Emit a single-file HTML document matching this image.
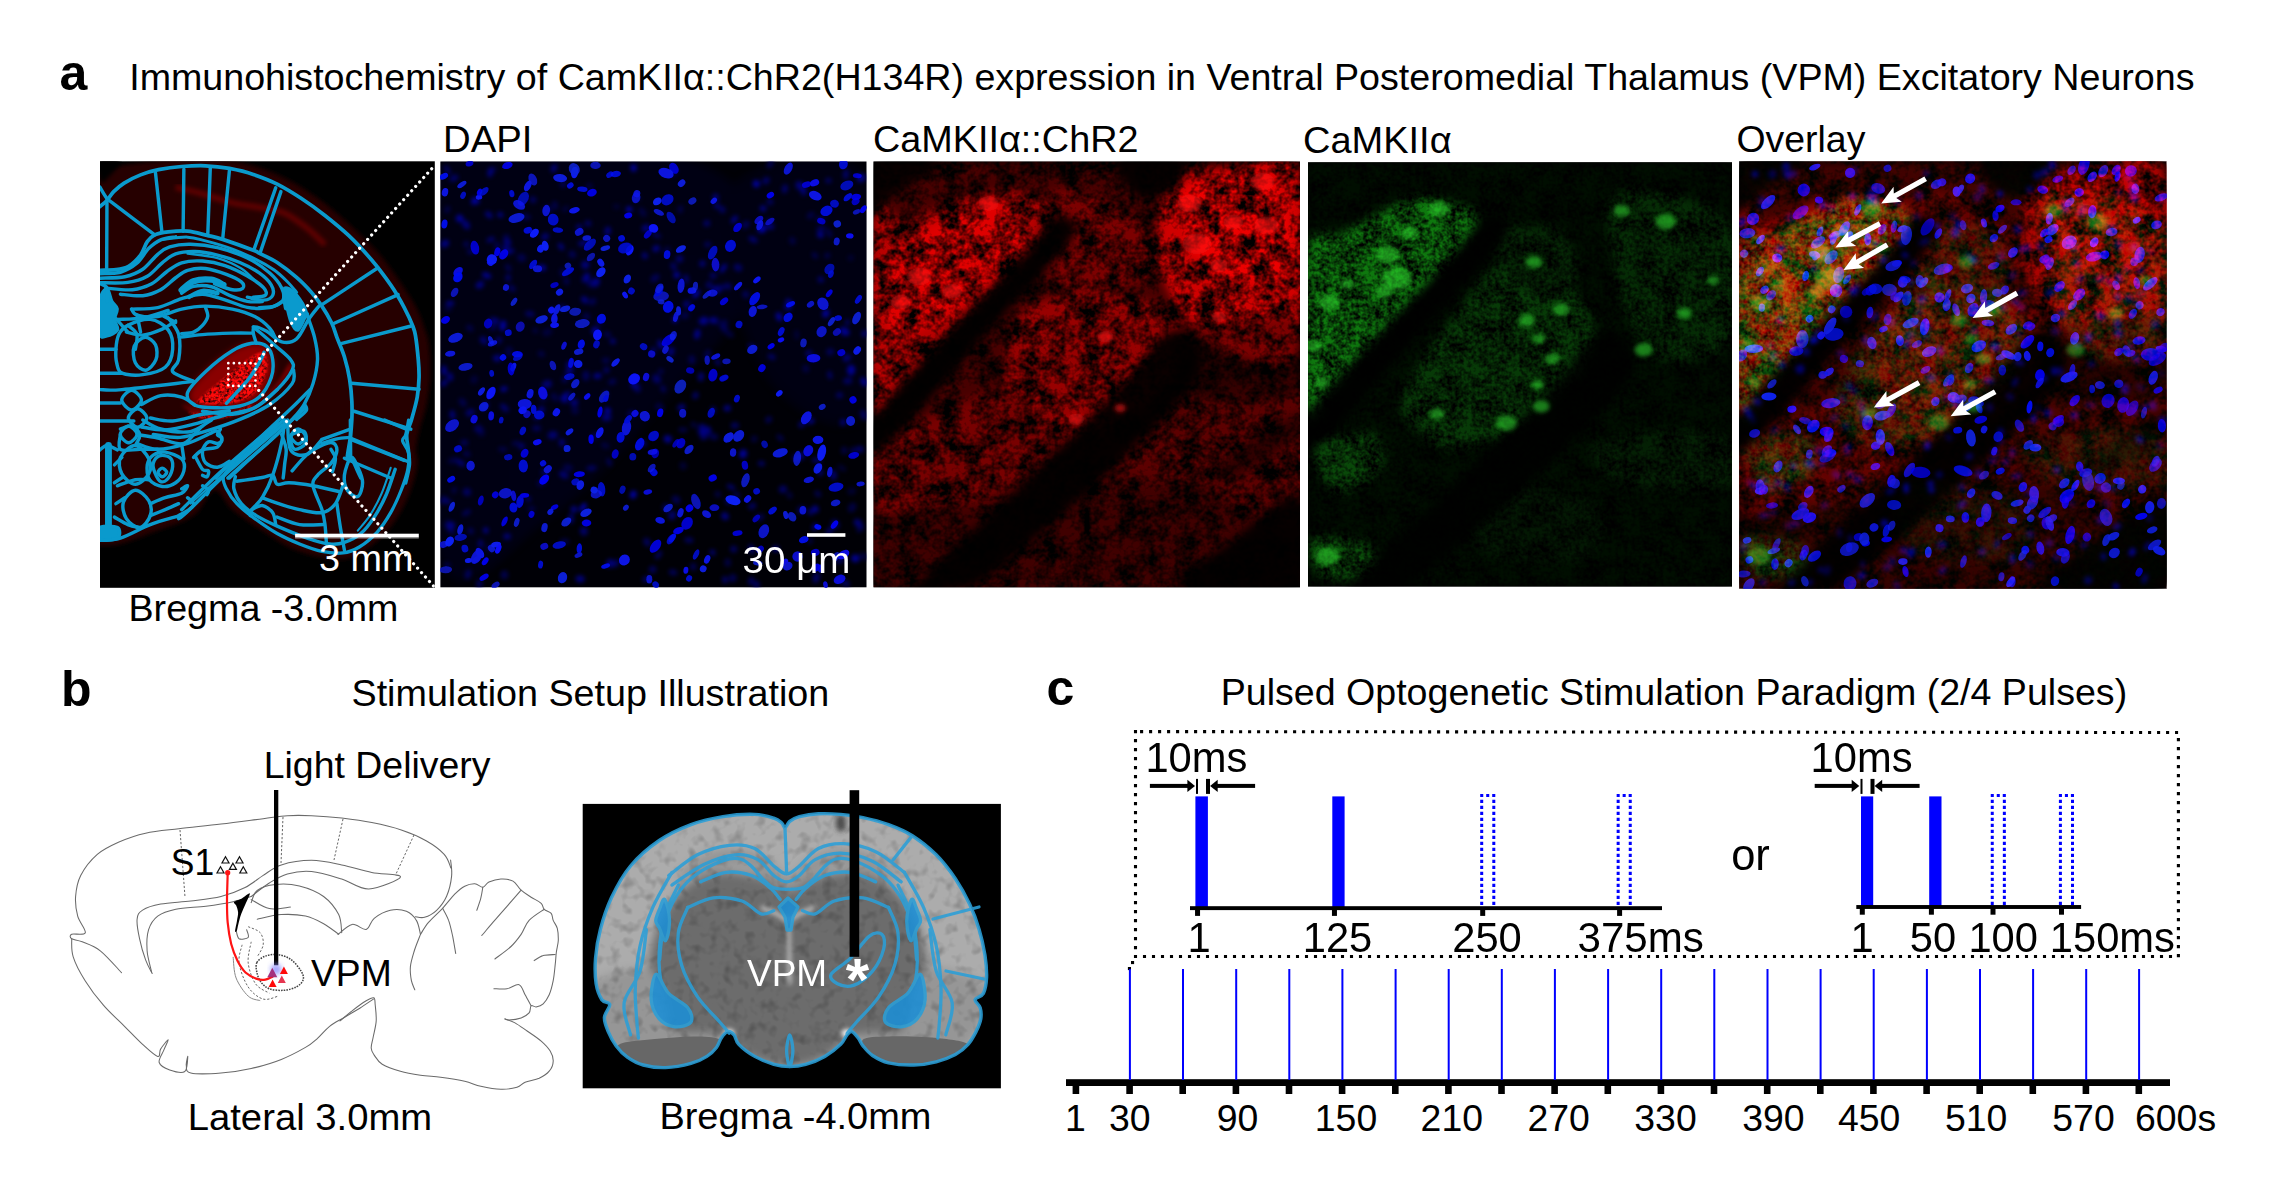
<!DOCTYPE html>
<html lang="en"><head><meta charset="utf-8"><title>Figure: optogenetic VPM stimulation</title>
<style>
html,body{margin:0;padding:0;background:#fff;}
body{width:2277px;height:1193px;overflow:hidden;font-family:'Liberation Sans', sans-serif;}
svg{display:block;position:absolute;left:0;top:0;}
svg text{font-family:'Liberation Sans', sans-serif;}
</style></head><body>
<svg width="2277" height="1193" viewBox="0 0 2277 1193">
<clipPath id="cpL"><rect x="100" y="161.3" width="334.8" height="426.5"/></clipPath>
<rect x="100" y="161.3" width="334.8" height="426.5" fill="#000"/>
<g clip-path="url(#cpL)">
<g transform="translate(98,158) scale(0.14932)">
<filter id="fT" x="-5%" y="-5%" width="110%" height="110%"><feGaussianBlur stdDeviation="14"/></filter>
<path d="M0,120C20,110 70,75 120,60C170,45 227,38 300,30C373,22 483,14 560,10C637,6 700,2 760,5C820,8 863,14 920,25C977,36 1037,48 1100,70C1163,92 1233,123 1300,160C1367,197 1433,240 1500,290C1567,340 1637,402 1700,460C1763,518 1825,577 1880,640C1935,703 1988,780 2030,840C2072,900 2103,948 2130,1000C2157,1052 2176,1108 2190,1150C2204,1192 2209,1201 2215,1251C2221,1301 2228,1384 2225,1451C2222,1518 2212,1588 2200,1651C2188,1714 2162,1781 2150,1831C2138,1881 2132,1914 2130,1951C2128,1988 2147,2008 2140,2055C2133,2102 2113,2175 2090,2235C2067,2295 2035,2362 2000,2415C1965,2468 1930,2512 1880,2555C1830,2598 1763,2655 1700,2675C1637,2695 1567,2685 1500,2675C1433,2665 1367,2645 1300,2615C1233,2585 1167,2538 1100,2495C1033,2452 953,2400 900,2355C847,2310 823,2218 780,2225C737,2232 703,2350 640,2395C577,2440 482,2463 400,2495C318,2527 217,2568 150,2585C83,2602 25,2593 0,2595Z" fill="#260000" filter="url(#fT)"/>
<path d="M13,0C36,-22 142,-3 150,20C158,43 83,118 60,140C37,162 21,173 13,150C5,127 -10,22 13,0Z" fill="#000" filter="url(#fT)"/>
<path d="M520,195C550,202 637,222 700,240C763,258 833,284 900,300C967,316 1042,323 1100,335C1158,347 1200,348 1250,370C1300,392 1355,435 1400,470C1445,505 1500,562 1520,580" fill="none" stroke="#6a0000" stroke-width="40" filter="url(#fT)" opacity="0.8"/>
<filter id="fV" x="-20%" y="-20%" width="140%" height="140%"><feGaussianBlur stdDeviation="26"/></filter>
<filter id="fVt" x="-10%" y="-10%" width="120%" height="120%" color-interpolation-filters="sRGB"><feGaussianBlur in="SourceGraphic" stdDeviation="9" result="b"/><feTurbulence type="fractalNoise" baseFrequency="0.05" numOctaves="2" seed="8"/><feColorMatrix type="matrix" values="2.2 0 0 0 -0.3  2.2 0 0 0 -0.3  2.2 0 0 0 -0.3  0 0 0 0 1" result="g"/><feComposite in="b" in2="g" operator="arithmetic" k1="1" k2="0" k3="0" k4="0" result="m"/><feComposite in="m" in2="b" operator="in"/></filter>
<path d="M610,1571C622,1533 672,1478 720,1431C768,1384 848,1323 900,1291C952,1259 992,1246 1030,1241C1068,1236 1107,1243 1130,1261C1153,1279 1165,1316 1170,1351C1175,1386 1175,1429 1160,1471C1145,1513 1115,1568 1080,1601C1045,1634 997,1653 950,1666C903,1679 850,1682 800,1681C750,1680 682,1679 650,1661C618,1643 598,1609 610,1571Z" fill="#8a0000" filter="url(#fV)"/>
<path d="M560,1651C557,1654 632,1709 680,1721C728,1733 797,1725 850,1721C903,1717 950,1718 1000,1696C1050,1674 1103,1635 1150,1591C1197,1547 1257,1468 1280,1431C1303,1394 1303,1358 1290,1371C1277,1384 1238,1464 1200,1511C1162,1558 1110,1618 1060,1651C1010,1684 960,1703 900,1711C840,1719 757,1711 700,1701C643,1691 563,1648 560,1651Z" fill="#b00000" filter="url(#fT)" opacity="0.85"/>
<g filter="url(#fVt)">
<path d="M665,1623C680,1600 744,1550 790,1511C836,1472 897,1424 940,1391C983,1358 1022,1328 1050,1313C1078,1298 1095,1291 1110,1301C1125,1311 1138,1343 1140,1371C1142,1399 1135,1436 1120,1471C1105,1506 1082,1553 1050,1581C1018,1609 972,1628 930,1641C888,1654 838,1654 800,1656C762,1658 722,1656 700,1651C678,1646 650,1646 665,1623Z" fill="#ff0a0a"/>
<path d="M600,1696C610,1691 710,1720 760,1721C810,1722 853,1714 900,1701C947,1688 1023,1643 1040,1641C1057,1639 1030,1674 1000,1691C970,1708 910,1731 860,1741C810,1751 743,1758 700,1751C657,1744 590,1701 600,1696Z" fill="#ff0a0a"/>
</g>
</g>
<g transform="translate(98,158) scale(0.14932)" fill="none" stroke="#0a9acd" stroke-linecap="round" stroke-linejoin="round"><path d="M13,325C21,318 45,302 60,285C75,268 86,244 105,225C124,206 145,187 175,168C205,149 247,128 285,113C323,98 359,87 405,78C451,69 508,61 560,57C612,53 667,50 720,52C773,54 827,60 880,70C933,80 987,92 1040,110C1093,128 1147,148 1200,175C1253,202 1307,235 1360,270C1413,305 1467,343 1520,385C1573,427 1628,471 1680,520C1732,569 1783,625 1830,680C1877,735 1923,797 1960,850C1997,903 2025,953 2050,1000C2075,1047 2097,1096 2110,1130C2123,1164 2122,1164 2128,1201C2134,1238 2141,1306 2145,1351C2149,1396 2151,1429 2150,1471C2149,1513 2146,1554 2138,1601C2130,1648 2112,1709 2100,1751C2088,1793 2072,1818 2068,1851C2064,1884 2075,1917 2078,1951C2081,1985 2088,2018 2085,2055C2082,2092 2064,2155 2060,2175" stroke-width="25"/><path d="M13,195C21,208 44,251 60,270C76,289 57,269 110,310C163,351 335,481 380,515" stroke-width="23"/><path d="M60,285L58,745" stroke-width="23"/><path d="M13,752C31,751 88,752 120,748C152,744 178,741 205,725C232,709 264,678 285,650C306,622 314,582 330,560C346,538 357,526 380,515C403,504 433,499 470,495C507,491 557,486 600,490C643,494 691,509 730,518C769,527 783,528 835,545C887,562 998,602 1040,618C1082,634 1058,626 1085,640C1112,654 1159,673 1200,700C1241,727 1292,767 1330,800C1368,833 1402,869 1430,900C1458,931 1472,951 1495,985C1518,1019 1548,1069 1565,1105C1582,1141 1586,1163 1600,1201C1614,1239 1636,1284 1650,1331C1664,1378 1677,1431 1685,1481C1693,1531 1698,1586 1700,1631C1702,1676 1702,1711 1700,1751C1698,1791 1695,1829 1690,1871C1685,1913 1670,1979 1670,2001C1670,2023 1687,2004 1690,2005" stroke-width="25"/><path d="M385,100L428,495" stroke-width="23"/><path d="M575,75L570,490" stroke-width="23"/><path d="M752,65L735,518" stroke-width="23"/><path d="M880,85L835,542" stroke-width="23"/><path d="M1190,200L1045,612" stroke-width="23"/><path d="M1225,225L1085,637" stroke-width="23"/><path d="M1875,735L1495,985" stroke-width="23"/><path d="M2010,915L1575,1110" stroke-width="23"/><path d="M2098,1125L1620,1245" stroke-width="23"/><path d="M2150,1549L1700,1509" stroke-width="23"/><path d="M2095,1816L1715,1696" stroke-width="23"/><path d="M2070,2031L1690,1876" stroke-width="23"/><path d="M440,545C467,542 553,528 600,530C647,532 670,542 720,555C770,568 843,589 900,610C957,631 1013,657 1060,680C1107,703 1145,725 1180,750C1215,775 1245,805 1270,830C1295,855 1320,888 1330,900" stroke-width="20"/><path d="M1245,880C1252,862 1279,874 1300,890C1321,906 1353,948 1370,975C1387,1002 1396,1038 1400,1050C1404,1062 1405,1029 1395,1046C1385,1063 1357,1142 1340,1151C1323,1160 1307,1124 1295,1101C1283,1078 1275,1028 1268,1011C1261,994 1259,1022 1255,1000C1251,978 1238,898 1245,880Z" stroke-width="23" fill="#0a9acd"/><path d="M13,775C36,773 109,777 150,765C191,753 228,732 260,705C292,678 313,631 340,605C367,579 390,561 420,548C450,535 503,531 520,528" stroke-width="23"/><path d="M13,805C41,803 132,805 180,795C228,785 263,770 300,745C337,720 370,670 400,645C430,620 443,606 480,595C517,584 567,577 620,578C673,579 737,585 800,600C863,615 942,642 1000,670C1058,698 1112,737 1150,770C1188,803 1215,840 1230,870C1245,900 1248,930 1240,950C1232,970 1207,983 1180,992C1153,1001 1097,1000 1080,1002" stroke-width="23"/><path d="M13,835C44,835 147,840 200,833C253,826 292,814 330,792C368,770 398,727 430,702C462,677 483,655 520,642C557,629 603,625 650,626C697,627 750,638 800,650C850,662 903,680 950,700C997,720 1045,745 1080,770C1115,795 1145,825 1160,850C1175,875 1178,903 1170,920C1162,937 1138,950 1110,952C1082,954 1018,935 1000,932" stroke-width="23"/><path d="M60,872C88,874 180,887 230,882C280,877 322,862 360,842C398,822 427,785 460,762C493,739 520,714 560,702C600,690 652,687 700,690C748,693 800,703 850,720C900,737 957,765 1000,790C1043,815 1090,848 1110,870C1130,892 1132,910 1120,920C1108,930 1053,930 1040,932" stroke-width="23"/><path d="M150,912C175,914 255,927 300,922C345,917 383,902 420,882C457,862 490,824 520,802C550,780 567,762 600,752C633,742 677,735 720,740C763,745 820,765 860,780C900,795 942,815 960,830C978,845 980,863 970,872C960,881 932,887 900,882C868,877 800,849 780,842" stroke-width="23"/><path d="M560,885C573,875 607,837 640,825C673,813 727,811 760,815C793,819 827,844 840,850" stroke-width="42"/><path d="M560,905C573,898 607,867 640,860C673,853 720,852 760,862C800,872 840,904 880,920C920,936 963,953 1000,960C1037,967 1083,962 1100,962" stroke-width="23"/><path d="M225,1012C254,1010 344,1014 400,1002C456,990 510,957 560,942C610,927 652,911 700,912C748,913 800,935 850,950C900,965 950,991 1000,1000C1050,1009 1111,1008 1150,1002C1189,996 1218,969 1232,962" stroke-width="23"/><path d="M225,1012C231,1019 233,1044 262,1052C291,1060 350,1069 400,1062C450,1055 507,1024 560,1012C613,1000 663,992 720,992C777,992 845,1000 900,1012C955,1024 1008,1041 1050,1062C1092,1083 1127,1115 1150,1140C1173,1165 1183,1199 1190,1211" stroke-width="23"/><path d="M600,640C633,645 740,653 800,670C860,687 917,713 960,740C1003,767 1043,815 1060,830" stroke-width="16"/><path d="M610,930C625,923 668,894 700,890C732,886 783,902 800,905" stroke-width="30"/><path d="M13,955C21,905 47,874 60,875C73,876 81,938 92,960C103,982 125,990 128,1010C131,1030 110,1056 110,1080C110,1104 138,1132 130,1151C122,1170 80,1187 60,1191C40,1195 21,1215 13,1176C5,1137 5,1005 13,955Z" stroke-width="23" fill="#0a9acd"/><path d="M13,840C21,845 52,852 60,872C68,892 60,945 60,960" stroke-width="26"/><path d="M720,1000C722,1010 738,1040 735,1060C732,1080 716,1103 700,1121C684,1139 663,1157 640,1166C617,1175 573,1174 560,1176" stroke-width="23"/><path d="M120,1075L200,1166" stroke-width="23"/><path d="M262,1052L285,1166" stroke-width="23"/><path d="M440,1060L520,1101" stroke-width="23"/><path d="M130,1081C158,1079 243,1081 300,1071C357,1061 442,1029 470,1021" stroke-width="23"/><path d="M190,1166C208,1169 260,1189 300,1186C340,1183 393,1162 430,1146C467,1130 505,1100 520,1091" stroke-width="23"/><path d="M1400,1051C1408,1076 1438,1151 1450,1201C1462,1251 1472,1299 1470,1351C1468,1403 1455,1461 1440,1511C1425,1561 1403,1611 1380,1651C1357,1691 1330,1718 1300,1751C1270,1784 1250,1804 1200,1851C1150,1898 1053,1982 1000,2031C947,2080 900,2124 880,2143" stroke-width="23"/><path d="M1480,991C1468,1006 1435,1044 1410,1081C1385,1118 1360,1186 1330,1211C1300,1236 1263,1239 1230,1231C1197,1223 1160,1178 1130,1161C1100,1144 1065,1129 1050,1131C1035,1133 1038,1153 1040,1171C1042,1189 1057,1229 1060,1241" stroke-width="23"/><path d="M1420,1551C1400,1571 1345,1628 1300,1671C1255,1714 1200,1764 1150,1811C1100,1858 1048,1908 1000,1951C952,1994 895,2039 860,2071C825,2103 802,2131 790,2143" stroke-width="23"/><path d="M1390,1671C1367,1693 1298,1756 1250,1801C1202,1846 1148,1898 1100,1941C1052,1984 998,2027 960,2061C922,2095 885,2129 870,2143" stroke-width="23"/><path d="M1385,1651C1387,1658 1404,1674 1395,1691C1386,1708 1341,1741 1330,1751" stroke-width="23"/><path d="M600,1571C612,1534 670,1478 720,1431C770,1384 848,1323 900,1291C952,1259 992,1246 1030,1241C1068,1236 1107,1243 1130,1261C1153,1279 1165,1316 1170,1351C1175,1386 1175,1429 1160,1471C1145,1513 1115,1569 1080,1601C1045,1633 997,1649 950,1661C903,1673 850,1674 800,1673C750,1672 683,1673 650,1656C617,1639 588,1608 600,1571Z" stroke-width="23"/><path d="M860,1643C883,1618 963,1536 1000,1491C1037,1446 1061,1403 1080,1371C1099,1339 1107,1313 1112,1301" stroke-width="23"/><path d="M1040,1131C1063,1151 1138,1214 1180,1251C1222,1288 1270,1323 1290,1351C1310,1379 1315,1388 1300,1421C1285,1454 1242,1509 1200,1551C1158,1593 1100,1644 1050,1671C1000,1698 958,1712 900,1716C842,1720 733,1699 700,1696" stroke-width="23"/><path d="M120,1281C122,1249 127,1208 140,1181C153,1154 165,1138 200,1121C235,1104 305,1076 350,1081C395,1086 445,1118 470,1151C495,1184 503,1239 500,1281C497,1323 483,1373 450,1401C417,1429 348,1444 300,1451C252,1458 189,1454 160,1441C131,1428 132,1398 125,1371C118,1344 118,1313 120,1281Z" stroke-width="23"/><path d="M315,1201C339,1199 373,1226 385,1251C397,1276 399,1323 388,1351C377,1379 343,1418 320,1421C297,1424 263,1398 250,1371C237,1344 231,1289 242,1261C253,1233 291,1203 315,1201Z" stroke-width="23"/><path d="M13,1281L120,1281" stroke-width="23"/><path d="M13,1441L160,1441" stroke-width="23"/><path d="M200,1121C210,1131 252,1154 260,1181C268,1208 252,1264 250,1281" stroke-width="23"/><path d="M470,1071C482,1089 528,1134 540,1181C552,1228 547,1309 540,1351C533,1393 483,1407 500,1431C517,1455 617,1485 640,1496" stroke-width="23"/><path d="M545,1201C571,1198 641,1188 700,1183C759,1178 843,1175 900,1173C957,1171 1017,1173 1040,1173" stroke-width="23"/><path d="M13,1551C38,1551 56,1560 160,1551C264,1542 560,1505 640,1496" stroke-width="23"/><path d="M13,1641L150,1641" stroke-width="23"/><path d="M13,1761L240,1761" stroke-width="23"/><path d="M291,1621C291,1643 247,1687 225,1687C203,1687 159,1643 159,1621C159,1599 203,1555 225,1555C247,1555 291,1599 291,1621Z" stroke-width="23"/><path d="M327,1741C327,1762 286,1803 265,1803C244,1803 203,1762 203,1741C203,1720 244,1679 265,1679C286,1679 327,1720 327,1741Z" stroke-width="23"/><path d="M261,1851C261,1870 224,1907 205,1907C186,1907 149,1870 149,1851C149,1832 186,1795 205,1795C224,1795 261,1832 261,1851Z" stroke-width="23"/><path d="M290,1651C312,1641 375,1599 420,1591C465,1583 522,1590 560,1601C598,1612 635,1647 650,1656" stroke-width="23"/><path d="M350,1741C375,1744 442,1765 500,1761C558,1757 637,1727 700,1716C763,1705 850,1697 880,1693" stroke-width="23"/><path d="M290,1801C317,1804 390,1824 450,1821C510,1818 583,1798 650,1781C717,1764 783,1739 850,1721C917,1703 992,1701 1050,1673C1108,1645 1175,1571 1200,1551" stroke-width="23"/><path d="M370,1851C400,1854 487,1876 550,1871C613,1866 683,1841 750,1821C817,1801 883,1779 950,1751C1017,1723 1092,1691 1150,1651C1208,1611 1273,1549 1300,1511C1327,1473 1308,1436 1310,1421" stroke-width="23"/><path d="M260,1911C283,1918 343,1951 400,1951C457,1951 540,1929 600,1911C660,1893 727,1854 760,1841C793,1828 788,1823 800,1831C812,1839 830,1878 830,1891C830,1904 815,1909 800,1911C785,1913 757,1893 740,1901C723,1909 703,1938 700,1961C697,1984 703,2023 720,2041C737,2059 773,2073 800,2071C827,2069 867,2038 880,2031" stroke-width="23"/><path d="M150,1851C150,1868 128,1934 150,1951C172,1968 238,1951 280,1951C322,1951 380,1951 400,1951" stroke-width="23"/><path d="M1230,1851C1235,1868 1257,1918 1260,1951C1263,1984 1253,2019 1250,2051C1247,2083 1242,2128 1240,2143" stroke-width="23"/><path d="M1300,1851C1315,1841 1365,1821 1380,1831C1395,1841 1400,1891 1390,1911C1380,1931 1337,1954 1320,1951C1303,1948 1293,1908 1290,1891C1287,1874 1285,1861 1300,1851Z" stroke-width="23"/><path d="M1500,1911C1517,1906 1568,1888 1600,1881C1632,1874 1675,1873 1690,1871" stroke-width="23"/><path d="M1560,1951C1565,1961 1588,1986 1590,2011C1592,2036 1573,2086 1570,2101" stroke-width="23"/><path d="M1700,2011C1707,2026 1730,2079 1740,2101C1750,2123 1757,2136 1760,2143" stroke-width="23"/><path d="M1650,2011L1960,2143" stroke-width="23"/><path d="M2080,1755C2077,1772 2067,1832 2060,1855C2053,1878 2037,1875 2040,1895C2043,1915 2074,1943 2080,1975C2086,2007 2083,2043 2075,2085C2067,2127 2049,2177 2030,2225C2011,2273 1987,2328 1960,2375C1933,2422 1905,2467 1870,2505C1835,2543 1788,2582 1750,2605C1712,2628 1682,2640 1640,2645C1598,2650 1548,2645 1500,2635C1452,2625 1400,2605 1350,2585C1300,2565 1250,2543 1200,2515C1150,2487 1095,2448 1050,2415C1005,2382 962,2348 930,2315C898,2282 875,2245 860,2215C845,2185 833,2162 840,2135C847,2108 873,2082 900,2055C927,2028 967,2003 1000,1975C1033,1947 1067,1915 1100,1885C1133,1855 1177,1817 1200,1795C1223,1773 1233,1762 1240,1755" stroke-width="22"/><path d="M920,2135C918,2148 903,2185 910,2215C917,2245 935,2285 960,2315C985,2345 1020,2370 1060,2395C1100,2420 1143,2440 1200,2465C1257,2490 1342,2525 1400,2545C1458,2565 1508,2580 1550,2585C1592,2590 1615,2587 1650,2575C1685,2563 1727,2543 1760,2515C1793,2487 1822,2448 1850,2405C1878,2362 1907,2308 1930,2255C1953,2202 1980,2113 1990,2085" stroke-width="23"/><path d="M1960,2075C1950,2103 1923,2192 1900,2245C1877,2298 1847,2353 1820,2395C1793,2437 1753,2478 1740,2495" stroke-width="14"/><path d="M1250,1755C1247,1780 1243,1843 1230,1905C1217,1967 1192,2063 1170,2125C1148,2187 1123,2237 1100,2275C1077,2313 1043,2335 1030,2355C1017,2375 1022,2388 1020,2395" stroke-width="23"/><path d="M930,2165C958,2161 1060,2147 1100,2140C1140,2133 1153,2118 1170,2125C1187,2132 1182,2177 1200,2185C1218,2193 1240,2173 1280,2175C1320,2177 1383,2185 1440,2195C1497,2205 1590,2228 1620,2235" stroke-width="23"/><path d="M1300,2095C1313,2080 1357,2028 1380,2005C1403,1982 1410,1972 1440,1955C1470,1938 1533,1905 1560,1905C1587,1905 1600,1932 1600,1955C1600,1978 1582,2017 1560,2045C1538,2073 1490,2100 1470,2125C1450,2150 1435,2157 1440,2195C1445,2233 1487,2312 1500,2355C1513,2398 1515,2417 1520,2455C1525,2493 1528,2563 1530,2585" stroke-width="23"/><path d="M1100,2275C1118,2282 1168,2302 1210,2315C1252,2328 1302,2345 1350,2355C1398,2365 1460,2382 1500,2375C1540,2368 1567,2345 1590,2315C1613,2285 1632,2215 1640,2195" stroke-width="23"/><path d="M1030,2355C1042,2350 1077,2324 1100,2327C1123,2330 1155,2354 1170,2375C1185,2396 1187,2442 1190,2455" stroke-width="23"/><path d="M1200,2405C1225,2413 1298,2447 1350,2455C1402,2463 1483,2455 1510,2455" stroke-width="23"/><path d="M1600,2315C1603,2338 1612,2403 1620,2455C1628,2507 1645,2597 1650,2625" stroke-width="23"/><path d="M1695,2005C1680,2013 1654,2088 1650,2125C1646,2162 1655,2201 1670,2225C1685,2249 1723,2275 1740,2267C1757,2259 1772,2207 1772,2175C1772,2143 1755,2103 1742,2075C1729,2047 1710,1997 1695,2005Z" stroke-width="23"/><path d="M1690,1755L1692,2005" stroke-width="23"/><path d="M1692,1885L2050,2025" stroke-width="23"/><path d="M1920,1755L2060,1815" stroke-width="23"/><path d="M1500,1885L1690,1815" stroke-width="23"/><path d="M1340,1815C1356,1815 1390,1848 1390,1865C1390,1882 1356,1915 1340,1915C1324,1915 1292,1882 1292,1865C1292,1848 1324,1815 1340,1815Z" stroke-width="23"/><path d="M1270,1755C1273,1788 1268,1917 1290,1955C1312,1993 1365,1997 1400,1985C1435,1973 1483,1902 1500,1885" stroke-width="23"/><path d="M1200,1775C1140,1827 947,1988 840,2085C733,2182 607,2310 560,2355" stroke-width="23"/><path d="M1240,1785C1180,1837 987,1998 880,2095C773,2192 657,2314 600,2367C543,2420 550,2407 540,2415" stroke-width="23"/><path d="M1120,1885C1067,1930 883,2083 800,2155C717,2227 650,2288 620,2315" stroke-width="12"/><path d="M700,2195C707,2200 735,2215 740,2225C745,2235 732,2250 730,2255" stroke-width="23"/><path d="M600,2275C607,2282 638,2302 640,2315C642,2328 627,2342 610,2355C593,2368 552,2388 540,2395" stroke-width="23"/><path d="M70,1925L70,2495" stroke-width="46"/><path d="M13,2475C32,2462 110,2463 130,2475C150,2487 150,2532 130,2545C110,2558 32,2567 13,2555C-6,2543 -6,2488 13,2475Z" stroke-width="23" fill="#0a9acd"/><path d="M13,1955C21,1950 40,1925 60,1925C80,1925 118,1950 130,1955" stroke-width="23"/><path d="M250,1925C282,1927 325,1983 340,2015C355,2047 355,2087 340,2115C325,2143 280,2185 250,2185C220,2185 177,2145 160,2115C143,2085 135,2037 150,2005C165,1973 218,1923 250,1925Z" stroke-width="23"/><path d="M370,2045C375,2027 392,2002 410,1995C428,1988 465,1993 480,2005C495,2017 502,2042 500,2065C498,2088 483,2128 470,2145C457,2162 435,2174 420,2167C405,2160 388,2125 380,2105C372,2085 365,2063 370,2045Z" stroke-width="23"/><path d="M430,2077C440,2077 460,2095 460,2105C460,2115 440,2135 430,2135C420,2135 402,2115 402,2105C402,2095 420,2077 430,2077Z" stroke-width="23"/><path d="M450,1970C482,1974 539,1994 560,2015C581,2036 582,2068 575,2095C568,2122 544,2158 520,2175C496,2192 459,2203 430,2200C401,2197 362,2179 345,2155C328,2131 326,2082 330,2055C334,2028 350,2004 370,1990C390,1976 418,1966 450,1970Z" stroke-width="23"/><path d="M250,2225C278,2223 323,2267 340,2295C357,2323 360,2365 350,2395C340,2425 307,2472 280,2475C253,2478 208,2443 190,2415C172,2387 160,2337 170,2305C180,2273 222,2227 250,2225Z" stroke-width="23"/><path d="M130,2195C150,2188 214,2162 250,2155C286,2148 329,2155 345,2155" stroke-width="23"/><path d="M110,2055L160,2005" stroke-width="23"/><path d="M110,2175L170,2135" stroke-width="23"/><path d="M120,2315L180,2275" stroke-width="23"/><path d="M110,2405C125,2413 172,2443 200,2455C228,2467 267,2472 280,2475" stroke-width="23"/><path d="M13,2560C36,2558 94,2562 150,2545C206,2528 287,2479 350,2455C413,2431 500,2409 530,2400" stroke-width="23"/><path d="M350,2315C367,2308 415,2287 450,2275C485,2263 535,2258 560,2245C585,2232 600,2200 600,2195C600,2190 567,2212 560,2215" stroke-width="23"/><path d="M350,2395C367,2388 418,2368 450,2355C482,2342 525,2322 540,2315" stroke-width="23"/><path d="M150,1815C163,1812 208,1788 230,1795C252,1802 277,1833 280,1855C283,1877 255,1913 250,1925" stroke-width="23"/><path d="M280,1855C300,1858 353,1865 400,1875C447,1885 520,1918 560,1915C600,1912 617,1875 640,1855C663,1835 680,1812 700,1795C720,1778 750,1762 760,1755" stroke-width="23"/><path d="M560,1915L575,2015" stroke-width="23"/><path d="M650,1995C658,2010 685,2068 700,2085C715,2102 735,2087 740,2095C745,2103 737,2130 730,2135C723,2140 705,2127 700,2125" stroke-width="23"/><path d="M640,2005C650,1997 673,1967 700,1955C727,1943 778,1948 800,1935C822,1922 830,1888 830,1875C830,1862 802,1865 800,1855C798,1845 817,1822 820,1815" stroke-width="23"/><path d="M300,1755C320,1765 370,1802 420,1815C470,1828 553,1838 600,1835C647,1832 683,1802 700,1795" stroke-width="23"/></g>
<g fill="none" stroke="#fff" stroke-width="3.2" stroke-linecap="round" stroke-dasharray="0.01 5.95">
<path d="M259.6,358.6 L434.6,165.5"/>
<path d="M258.7,390.4 L434.4,587"/>
<path d="M228.3,363.2 H255.5 V385.9 H228.3 Z" stroke-dasharray="0.01 5.55" stroke-width="2.7"/>
</g>
<rect x="295.1" y="533.7" width="123.7" height="3.6" fill="#fff"/><rect x="295.1" y="537.3" width="123.7" height="1.2" fill="#fff" opacity="0.55"/>
</g>
<defs><filter id="fxR" x="0" y="0" width="100%" height="100%" color-interpolation-filters="sRGB"><feGaussianBlur in="SourceGraphic" stdDeviation="5" result="b"/><feTurbulence type="fractalNoise" baseFrequency="0.2" numOctaves="2" seed="11"/><feColorMatrix type="matrix" values="1 0 0 0 0  1 0 0 0 0  1 0 0 0 0  0 0 0 0 1" result="n1"/><feTurbulence type="fractalNoise" baseFrequency="0.05" numOctaves="2" seed="16"/><feColorMatrix type="matrix" values="1 0 0 0 0  1 0 0 0 0  1 0 0 0 0  0 0 0 0 1" result="n2"/><feComposite in="n1" in2="n2" operator="arithmetic" k1="0" k2="1.4" k3="1.9" k4="-1.08" result="g"/><feComposite in="b" in2="g" operator="arithmetic" k1="1.0" k2="0" k3="0" k4="0"/></filter><filter id="fxG" x="0" y="0" width="100%" height="100%" color-interpolation-filters="sRGB"><feGaussianBlur in="SourceGraphic" stdDeviation="5" result="b"/><feTurbulence type="fractalNoise" baseFrequency="0.25" numOctaves="2" seed="23"/><feColorMatrix type="matrix" values="1 0 0 0 0  1 0 0 0 0  1 0 0 0 0  0 0 0 0 1" result="n1"/><feTurbulence type="fractalNoise" baseFrequency="0.05" numOctaves="2" seed="28"/><feColorMatrix type="matrix" values="1 0 0 0 0  1 0 0 0 0  1 0 0 0 0  0 0 0 0 1" result="n2"/><feComposite in="n1" in2="n2" operator="arithmetic" k1="0" k2="1.5" k3="1.4" k4="-0.9" result="g"/><feComposite in="b" in2="g" operator="arithmetic" k1="1.0" k2="0" k3="0" k4="0"/></filter><filter id="fxO" x="0" y="0" width="100%" height="100%" color-interpolation-filters="sRGB"><feGaussianBlur in="SourceGraphic" stdDeviation="5" result="b"/><feTurbulence type="fractalNoise" baseFrequency="0.2" numOctaves="2" seed="11"/><feColorMatrix type="matrix" values="1 0 0 0 0  1 0 0 0 0  1 0 0 0 0  0 0 0 0 1" result="n1"/><feTurbulence type="fractalNoise" baseFrequency="0.05" numOctaves="2" seed="16"/><feColorMatrix type="matrix" values="1 0 0 0 0  1 0 0 0 0  1 0 0 0 0  0 0 0 0 1" result="n2"/><feComposite in="n1" in2="n2" operator="arithmetic" k1="0" k2="1.4" k3="1.9" k4="-1.08" result="g"/><feComposite in="b" in2="g" operator="arithmetic" k1="1.0" k2="0" k3="0" k4="0"/></filter><filter id="fxB1" x="-20%" y="-20%" width="140%" height="140%"><feGaussianBlur stdDeviation="0.7"/></filter><filter id="fxB2" x="-20%" y="-20%" width="140%" height="140%"><feGaussianBlur stdDeviation="2.2"/></filter><filter id="fxB3" x="-20%" y="-20%" width="140%" height="140%"><feGaussianBlur stdDeviation="4"/></filter></defs>
<clipPath id="cpD"><rect x="440.4" y="161.5" width="426.1" height="425.8"/></clipPath><rect x="440.4" y="161.5" width="426.1" height="425.8" fill="#000006"/><g clip-path="url(#cpD)"><g filter="url(#fxB3)" opacity="0.28"><path d="M441,161C483,95 638,144 692,161C746,179 771,224 765,266C759,307 692,369 655,412C619,454 581,497 546,521C510,546 459,618 441,558C424,498 400,228 441,161Z" fill="#000038"/><path d="M728,193C745,160 844,141 867,178C890,214 884,379 867,412C850,445 788,412 765,375C742,339 711,225 728,193Z" fill="#000030"/></g><g filter="url(#fxB2)"><ellipse cx="579.1" cy="227.1" rx="3.2" ry="3.4" fill="#000075" opacity="0.80" transform="rotate(66 579.1 227.1)"/><ellipse cx="533.0" cy="199.8" rx="3.6" ry="3.4" fill="#0000b6" opacity="0.41" transform="rotate(11 533.0 199.8)"/><ellipse cx="536.6" cy="428.2" rx="4.4" ry="3.2" fill="#000073" opacity="0.63" transform="rotate(176 536.6 428.2)"/><ellipse cx="498.6" cy="340.3" rx="4.4" ry="3.5" fill="#00007b" opacity="0.64" transform="rotate(123 498.6 340.3)"/><ellipse cx="712.1" cy="320.6" rx="3.2" ry="2.6" fill="#0000b2" opacity="0.56" transform="rotate(37 712.1 320.6)"/><ellipse cx="575.0" cy="410.5" rx="3.7" ry="3.9" fill="#00008d" opacity="0.39" transform="rotate(126 575.0 410.5)"/><ellipse cx="569.1" cy="372.3" rx="4.1" ry="3.5" fill="#0000af" opacity="0.56" transform="rotate(13 569.1 372.3)"/><ellipse cx="762.0" cy="227.6" rx="3.1" ry="3.6" fill="#0000b7" opacity="0.74" transform="rotate(138 762.0 227.6)"/><ellipse cx="787.8" cy="307.0" rx="4.2" ry="3.9" fill="#000079" opacity="0.82" transform="rotate(12 787.8 307.0)"/><ellipse cx="642.5" cy="443.6" rx="4.8" ry="3.6" fill="#0000a7" opacity="0.49" transform="rotate(179 642.5 443.6)"/><ellipse cx="605.2" cy="445.5" rx="4.2" ry="2.8" fill="#000075" opacity="0.46" transform="rotate(21 605.2 445.5)"/><ellipse cx="563.7" cy="474.9" rx="5.3" ry="3.3" fill="#0000a1" opacity="0.62" transform="rotate(30 563.7 474.9)"/><ellipse cx="815.3" cy="509.1" rx="3.7" ry="3.2" fill="#00009e" opacity="0.83" transform="rotate(65 815.3 509.1)"/><ellipse cx="506.1" cy="237.8" rx="3.6" ry="3.3" fill="#00008f" opacity="0.49" transform="rotate(106 506.1 237.8)"/><ellipse cx="503.9" cy="389.0" rx="3.8" ry="2.7" fill="#0000bd" opacity="0.68" transform="rotate(155 503.9 389.0)"/><ellipse cx="844.2" cy="450.6" rx="4.0" ry="3.2" fill="#0000a1" opacity="0.38" transform="rotate(87 844.2 450.6)"/><ellipse cx="470.8" cy="251.6" rx="3.9" ry="2.6" fill="#000081" opacity="0.62" transform="rotate(0 470.8 251.6)"/><ellipse cx="843.0" cy="422.4" rx="3.5" ry="3.1" fill="#00009a" opacity="0.65" transform="rotate(114 843.0 422.4)"/><ellipse cx="642.5" cy="212.2" rx="5.4" ry="3.3" fill="#000080" opacity="0.40" transform="rotate(56 642.5 212.2)"/><ellipse cx="587.0" cy="275.2" rx="3.4" ry="2.5" fill="#0000b1" opacity="0.53" transform="rotate(171 587.0 275.2)"/><ellipse cx="733.7" cy="549.1" rx="3.7" ry="3.6" fill="#00008f" opacity="0.61" transform="rotate(16 733.7 549.1)"/><ellipse cx="825.8" cy="313.5" rx="4.4" ry="3.4" fill="#0000bc" opacity="0.76" transform="rotate(115 825.8 313.5)"/><ellipse cx="858.1" cy="523.1" rx="5.0" ry="3.8" fill="#0000b0" opacity="0.60" transform="rotate(41 858.1 523.1)"/><ellipse cx="751.0" cy="580.9" rx="4.2" ry="2.8" fill="#00009a" opacity="0.57" transform="rotate(109 751.0 580.9)"/><ellipse cx="837.9" cy="580.3" rx="3.9" ry="2.9" fill="#000087" opacity="0.52" transform="rotate(41 837.9 580.3)"/><ellipse cx="646.1" cy="579.1" rx="3.0" ry="4.0" fill="#000078" opacity="0.77" transform="rotate(62 646.1 579.1)"/><ellipse cx="493.0" cy="327.4" rx="3.5" ry="4.0" fill="#000098" opacity="0.39" transform="rotate(78 493.0 327.4)"/><ellipse cx="841.8" cy="468.0" rx="4.9" ry="2.6" fill="#00007e" opacity="0.36" transform="rotate(29 841.8 468.0)"/><ellipse cx="691.8" cy="359.8" rx="4.5" ry="3.5" fill="#00009a" opacity="0.43" transform="rotate(85 691.8 359.8)"/><ellipse cx="673.8" cy="172.5" rx="4.8" ry="2.7" fill="#00007f" opacity="0.57" transform="rotate(135 673.8 172.5)"/><ellipse cx="810.4" cy="512.0" rx="3.6" ry="3.0" fill="#0000b9" opacity="0.51" transform="rotate(43 810.4 512.0)"/><ellipse cx="672.2" cy="515.4" rx="4.8" ry="4.0" fill="#0000b0" opacity="0.56" transform="rotate(119 672.2 515.4)"/><ellipse cx="829.8" cy="375.1" rx="4.3" ry="2.5" fill="#000085" opacity="0.65" transform="rotate(79 829.8 375.1)"/><ellipse cx="770.0" cy="226.7" rx="4.5" ry="2.7" fill="#0000b0" opacity="0.62" transform="rotate(11 770.0 226.7)"/><ellipse cx="466.4" cy="244.2" rx="3.2" ry="3.3" fill="#000076" opacity="0.57" transform="rotate(5 466.4 244.2)"/><ellipse cx="700.9" cy="376.7" rx="4.7" ry="3.3" fill="#0000ab" opacity="0.60" transform="rotate(96 700.9 376.7)"/><ellipse cx="546.9" cy="384.2" rx="5.3" ry="4.1" fill="#000087" opacity="0.77" transform="rotate(161 546.9 384.2)"/><ellipse cx="500.3" cy="214.8" rx="3.2" ry="2.9" fill="#000094" opacity="0.74" transform="rotate(13 500.3 214.8)"/><ellipse cx="821.0" cy="228.6" rx="4.7" ry="2.7" fill="#0000a9" opacity="0.46" transform="rotate(159 821.0 228.6)"/><ellipse cx="844.5" cy="331.5" rx="5.5" ry="3.9" fill="#0000a5" opacity="0.85" transform="rotate(29 844.5 331.5)"/><ellipse cx="612.8" cy="341.2" rx="3.2" ry="3.1" fill="#0000a8" opacity="0.57" transform="rotate(61 612.8 341.2)"/><ellipse cx="450.0" cy="303.3" rx="4.3" ry="2.6" fill="#00008b" opacity="0.84" transform="rotate(177 450.0 303.3)"/><ellipse cx="486.6" cy="275.5" rx="4.9" ry="3.0" fill="#0000a4" opacity="0.77" transform="rotate(23 486.6 275.5)"/><ellipse cx="727.7" cy="562.5" rx="4.3" ry="3.4" fill="#000097" opacity="0.39" transform="rotate(89 727.7 562.5)"/><ellipse cx="466.7" cy="453.8" rx="3.2" ry="4.1" fill="#00008f" opacity="0.39" transform="rotate(114 466.7 453.8)"/><ellipse cx="803.8" cy="191.6" rx="4.1" ry="3.1" fill="#000090" opacity="0.66" transform="rotate(100 803.8 191.6)"/><ellipse cx="460.6" cy="462.8" rx="5.4" ry="2.9" fill="#000095" opacity="0.66" transform="rotate(33 460.6 462.8)"/><ellipse cx="666.6" cy="250.3" rx="4.7" ry="3.0" fill="#00008e" opacity="0.37" transform="rotate(145 666.6 250.3)"/><ellipse cx="450.2" cy="376.8" rx="4.3" ry="2.9" fill="#0000a5" opacity="0.68" transform="rotate(80 450.2 376.8)"/><ellipse cx="572.3" cy="254.3" rx="3.5" ry="4.0" fill="#00007f" opacity="0.55" transform="rotate(131 572.3 254.3)"/><ellipse cx="589.1" cy="186.4" rx="3.2" ry="3.8" fill="#000082" opacity="0.38" transform="rotate(46 589.1 186.4)"/><ellipse cx="723.2" cy="324.2" rx="5.4" ry="3.5" fill="#000073" opacity="0.58" transform="rotate(125 723.2 324.2)"/><ellipse cx="508.9" cy="351.5" rx="5.4" ry="4.2" fill="#00008d" opacity="0.37" transform="rotate(98 508.9 351.5)"/><ellipse cx="814.9" cy="255.4" rx="3.8" ry="2.6" fill="#000087" opacity="0.47" transform="rotate(50 814.9 255.4)"/><ellipse cx="770.1" cy="201.8" rx="3.4" ry="3.5" fill="#000094" opacity="0.50" transform="rotate(71 770.1 201.8)"/><ellipse cx="540.7" cy="410.5" rx="4.9" ry="3.6" fill="#0000ba" opacity="0.54" transform="rotate(129 540.7 410.5)"/><ellipse cx="580.1" cy="578.9" rx="4.8" ry="3.6" fill="#0000af" opacity="0.66" transform="rotate(8 580.1 578.9)"/><ellipse cx="752.2" cy="506.1" rx="4.3" ry="3.4" fill="#000070" opacity="0.76" transform="rotate(150 752.2 506.1)"/><ellipse cx="688.9" cy="540.1" rx="4.7" ry="2.9" fill="#00007f" opacity="0.67" transform="rotate(6 688.9 540.1)"/><ellipse cx="847.4" cy="322.4" rx="3.1" ry="2.5" fill="#00008d" opacity="0.59" transform="rotate(96 847.4 322.4)"/><ellipse cx="443.8" cy="500.0" rx="4.3" ry="3.4" fill="#000076" opacity="0.72" transform="rotate(119 443.8 500.0)"/><ellipse cx="541.5" cy="482.6" rx="4.6" ry="3.3" fill="#000077" opacity="0.59" transform="rotate(152 541.5 482.6)"/><ellipse cx="731.0" cy="487.0" rx="4.6" ry="2.6" fill="#00008e" opacity="0.68" transform="rotate(27 731.0 487.0)"/><ellipse cx="734.9" cy="425.5" rx="4.2" ry="3.3" fill="#00007a" opacity="0.70" transform="rotate(175 734.9 425.5)"/><ellipse cx="727.6" cy="286.2" rx="4.2" ry="3.3" fill="#0000b4" opacity="0.45" transform="rotate(21 727.6 286.2)"/><ellipse cx="855.3" cy="558.4" rx="4.1" ry="3.9" fill="#0000a7" opacity="0.85" transform="rotate(174 855.3 558.4)"/><ellipse cx="473.9" cy="201.6" rx="3.7" ry="3.1" fill="#0000be" opacity="0.60" transform="rotate(109 473.9 201.6)"/><ellipse cx="816.7" cy="460.2" rx="5.2" ry="3.3" fill="#00006e" opacity="0.82" transform="rotate(4 816.7 460.2)"/><ellipse cx="730.1" cy="334.5" rx="4.0" ry="3.1" fill="#000098" opacity="0.35" transform="rotate(22 730.1 334.5)"/><ellipse cx="759.3" cy="517.4" rx="5.3" ry="3.7" fill="#000093" opacity="0.48" transform="rotate(162 759.3 517.4)"/><ellipse cx="469.8" cy="328.1" rx="3.2" ry="4.1" fill="#000074" opacity="0.49" transform="rotate(136 469.8 328.1)"/><ellipse cx="464.2" cy="442.7" rx="3.4" ry="4.2" fill="#000096" opacity="0.44" transform="rotate(79 464.2 442.7)"/><ellipse cx="839.5" cy="395.2" rx="3.1" ry="3.7" fill="#00007f" opacity="0.67" transform="rotate(81 839.5 395.2)"/><ellipse cx="563.2" cy="184.2" rx="3.3" ry="3.3" fill="#000094" opacity="0.48" transform="rotate(62 563.2 184.2)"/><ellipse cx="754.2" cy="438.9" rx="3.6" ry="3.3" fill="#00007d" opacity="0.43" transform="rotate(120 754.2 438.9)"/><ellipse cx="510.6" cy="251.2" rx="4.2" ry="2.9" fill="#0000a7" opacity="0.56" transform="rotate(163 510.6 251.2)"/><ellipse cx="673.6" cy="266.5" rx="4.4" ry="3.0" fill="#0000b6" opacity="0.45" transform="rotate(66 673.6 266.5)"/><ellipse cx="450.9" cy="530.7" rx="4.9" ry="2.9" fill="#000075" opacity="0.60" transform="rotate(49 450.9 530.7)"/><ellipse cx="684.8" cy="315.4" rx="4.3" ry="3.8" fill="#000079" opacity="0.49" transform="rotate(153 684.8 315.4)"/><ellipse cx="547.3" cy="332.1" rx="5.4" ry="3.9" fill="#000070" opacity="0.41" transform="rotate(157 547.3 332.1)"/><ellipse cx="851.1" cy="370.1" rx="5.3" ry="4.1" fill="#0000a9" opacity="0.84" transform="rotate(95 851.1 370.1)"/><ellipse cx="547.3" cy="209.5" rx="4.3" ry="3.7" fill="#0000a8" opacity="0.39" transform="rotate(169 547.3 209.5)"/><ellipse cx="770.3" cy="164.1" rx="4.4" ry="2.6" fill="#00007e" opacity="0.66" transform="rotate(129 770.3 164.1)"/><ellipse cx="665.4" cy="348.0" rx="3.2" ry="3.0" fill="#000086" opacity="0.54" transform="rotate(170 665.4 348.0)"/><ellipse cx="536.8" cy="417.0" rx="3.8" ry="3.3" fill="#00008d" opacity="0.59" transform="rotate(173 536.8 417.0)"/><ellipse cx="541.5" cy="267.7" rx="4.8" ry="3.0" fill="#0000ad" opacity="0.79" transform="rotate(4 541.5 267.7)"/><ellipse cx="715.6" cy="197.7" rx="4.1" ry="3.1" fill="#000099" opacity="0.71" transform="rotate(89 715.6 197.7)"/><ellipse cx="595.3" cy="330.7" rx="3.7" ry="3.9" fill="#0000ad" opacity="0.83" transform="rotate(12 595.3 330.7)"/><ellipse cx="574.0" cy="509.4" rx="3.6" ry="3.8" fill="#0000bd" opacity="0.60" transform="rotate(53 574.0 509.4)"/><ellipse cx="521.5" cy="257.7" rx="4.7" ry="4.1" fill="#0000a0" opacity="0.38" transform="rotate(26 521.5 257.7)"/><ellipse cx="452.4" cy="414.9" rx="4.8" ry="2.8" fill="#000096" opacity="0.72" transform="rotate(81 452.4 414.9)"/><ellipse cx="863.5" cy="556.4" rx="3.5" ry="4.1" fill="#000072" opacity="0.51" transform="rotate(134 863.5 556.4)"/><ellipse cx="629.2" cy="209.5" rx="3.2" ry="3.2" fill="#0000b5" opacity="0.83" transform="rotate(159 629.2 209.5)"/><ellipse cx="529.9" cy="313.9" rx="5.1" ry="3.2" fill="#0000aa" opacity="0.45" transform="rotate(9 529.9 313.9)"/><ellipse cx="671.0" cy="351.8" rx="4.8" ry="3.3" fill="#00008d" opacity="0.76" transform="rotate(114 671.0 351.8)"/><ellipse cx="766.0" cy="180.6" rx="3.2" ry="4.1" fill="#000076" opacity="0.80" transform="rotate(46 766.0 180.6)"/><ellipse cx="585.5" cy="278.4" rx="4.5" ry="2.9" fill="#000096" opacity="0.81" transform="rotate(129 585.5 278.4)"/><ellipse cx="567.9" cy="467.9" rx="5.0" ry="4.1" fill="#00008b" opacity="0.40" transform="rotate(12 567.9 467.9)"/><ellipse cx="775.8" cy="548.8" rx="3.3" ry="3.3" fill="#000094" opacity="0.76" transform="rotate(2 775.8 548.8)"/><ellipse cx="768.6" cy="419.6" rx="3.8" ry="3.1" fill="#000078" opacity="0.61" transform="rotate(141 768.6 419.6)"/><ellipse cx="607.7" cy="231.0" rx="4.6" ry="3.3" fill="#000082" opacity="0.84" transform="rotate(98 607.7 231.0)"/><ellipse cx="815.3" cy="580.2" rx="3.2" ry="2.7" fill="#0000a7" opacity="0.44" transform="rotate(90 815.3 580.2)"/><ellipse cx="498.5" cy="357.9" rx="3.6" ry="3.4" fill="#00007d" opacity="0.74" transform="rotate(139 498.5 357.9)"/><ellipse cx="566.5" cy="281.3" rx="3.6" ry="2.9" fill="#000085" opacity="0.47" transform="rotate(79 566.5 281.3)"/><ellipse cx="507.1" cy="536.4" rx="3.8" ry="3.2" fill="#0000ae" opacity="0.61" transform="rotate(179 507.1 536.4)"/><ellipse cx="716.6" cy="205.9" rx="3.1" ry="2.5" fill="#00008b" opacity="0.77" transform="rotate(159 716.6 205.9)"/><ellipse cx="828.4" cy="180.5" rx="3.3" ry="2.8" fill="#0000b8" opacity="0.45" transform="rotate(175 828.4 180.5)"/><ellipse cx="474.1" cy="379.7" rx="4.5" ry="3.8" fill="#00006e" opacity="0.40" transform="rotate(120 474.1 379.7)"/><ellipse cx="694.0" cy="425.0" rx="3.9" ry="2.7" fill="#00008e" opacity="0.37" transform="rotate(37 694.0 425.0)"/><ellipse cx="751.5" cy="549.0" rx="5.0" ry="3.2" fill="#0000bd" opacity="0.51" transform="rotate(67 751.5 549.0)"/><ellipse cx="528.3" cy="498.9" rx="3.2" ry="2.7" fill="#0000b4" opacity="0.43" transform="rotate(71 528.3 498.9)"/><ellipse cx="667.8" cy="439.0" rx="3.7" ry="4.2" fill="#0000a3" opacity="0.83" transform="rotate(120 667.8 439.0)"/><ellipse cx="574.2" cy="402.5" rx="4.0" ry="4.0" fill="#00009c" opacity="0.67" transform="rotate(179 574.2 402.5)"/><ellipse cx="607.3" cy="334.3" rx="4.1" ry="2.8" fill="#000079" opacity="0.55" transform="rotate(20 607.3 334.3)"/><ellipse cx="815.0" cy="357.9" rx="3.0" ry="3.4" fill="#0000a0" opacity="0.39" transform="rotate(115 815.0 357.9)"/><ellipse cx="705.0" cy="319.9" rx="3.4" ry="3.0" fill="#000076" opacity="0.40" transform="rotate(94 705.0 319.9)"/><ellipse cx="525.7" cy="216.9" rx="5.4" ry="3.3" fill="#00009f" opacity="0.39" transform="rotate(10 525.7 216.9)"/><ellipse cx="743.1" cy="453.8" rx="4.6" ry="4.0" fill="#0000bc" opacity="0.77" transform="rotate(112 743.1 453.8)"/><ellipse cx="792.4" cy="240.7" rx="4.0" ry="3.4" fill="#00007d" opacity="0.42" transform="rotate(69 792.4 240.7)"/><ellipse cx="852.1" cy="507.5" rx="5.2" ry="3.9" fill="#000097" opacity="0.41" transform="rotate(121 852.1 507.5)"/><ellipse cx="695.5" cy="395.5" rx="3.8" ry="3.2" fill="#0000a4" opacity="0.54" transform="rotate(105 695.5 395.5)"/><ellipse cx="597.5" cy="375.9" rx="3.0" ry="4.2" fill="#0000a7" opacity="0.73" transform="rotate(84 597.5 375.9)"/><ellipse cx="771.6" cy="356.8" rx="4.2" ry="2.7" fill="#0000a5" opacity="0.53" transform="rotate(23 771.6 356.8)"/><ellipse cx="459.6" cy="218.4" rx="3.8" ry="3.7" fill="#0000ae" opacity="0.80" transform="rotate(14 459.6 218.4)"/><ellipse cx="717.9" cy="494.3" rx="3.2" ry="3.5" fill="#00007c" opacity="0.45" transform="rotate(125 717.9 494.3)"/><ellipse cx="829.1" cy="233.1" rx="5.3" ry="2.6" fill="#00008e" opacity="0.43" transform="rotate(63 829.1 233.1)"/><ellipse cx="820.8" cy="279.5" rx="3.4" ry="3.4" fill="#000088" opacity="0.65" transform="rotate(166 820.8 279.5)"/><ellipse cx="702.4" cy="263.6" rx="3.5" ry="3.2" fill="#000091" opacity="0.69" transform="rotate(115 702.4 263.6)"/><ellipse cx="820.4" cy="234.7" rx="3.3" ry="3.4" fill="#00009c" opacity="0.83" transform="rotate(115 820.4 234.7)"/><ellipse cx="633.6" cy="383.4" rx="5.2" ry="2.9" fill="#0000a0" opacity="0.72" transform="rotate(96 633.6 383.4)"/><ellipse cx="599.2" cy="322.0" rx="3.4" ry="3.1" fill="#00008b" opacity="0.44" transform="rotate(15 599.2 322.0)"/><ellipse cx="756.3" cy="183.9" rx="3.6" ry="3.6" fill="#0000b8" opacity="0.81" transform="rotate(177 756.3 183.9)"/><ellipse cx="820.5" cy="472.7" rx="3.6" ry="3.0" fill="#0000a3" opacity="0.61" transform="rotate(113 820.5 472.7)"/><ellipse cx="820.4" cy="219.2" rx="4.6" ry="2.5" fill="#00009b" opacity="0.50" transform="rotate(0 820.4 219.2)"/><ellipse cx="663.2" cy="388.8" rx="3.8" ry="2.7" fill="#0000aa" opacity="0.43" transform="rotate(66 663.2 388.8)"/><ellipse cx="448.4" cy="501.6" rx="4.1" ry="2.6" fill="#000090" opacity="0.55" transform="rotate(26 448.4 501.6)"/><ellipse cx="553.9" cy="168.3" rx="4.4" ry="3.1" fill="#0000a6" opacity="0.65" transform="rotate(116 553.9 168.3)"/><ellipse cx="660.9" cy="371.4" rx="3.0" ry="2.6" fill="#000085" opacity="0.47" transform="rotate(5 660.9 371.4)"/><ellipse cx="467.0" cy="492.0" rx="4.4" ry="4.1" fill="#000087" opacity="0.61" transform="rotate(26 467.0 492.0)"/><ellipse cx="713.7" cy="436.7" rx="4.5" ry="3.4" fill="#0000be" opacity="0.37" transform="rotate(11 713.7 436.7)"/><ellipse cx="817.8" cy="493.8" rx="3.0" ry="3.9" fill="#0000a9" opacity="0.39" transform="rotate(134 817.8 493.8)"/><ellipse cx="552.7" cy="435.1" rx="5.2" ry="4.1" fill="#00008f" opacity="0.71" transform="rotate(170 552.7 435.1)"/><ellipse cx="554.7" cy="397.1" rx="5.0" ry="3.4" fill="#000089" opacity="0.39" transform="rotate(48 554.7 397.1)"/><ellipse cx="656.6" cy="235.1" rx="5.1" ry="2.8" fill="#000097" opacity="0.45" transform="rotate(29 656.6 235.1)"/><ellipse cx="606.5" cy="417.1" rx="5.1" ry="4.1" fill="#0000b2" opacity="0.58" transform="rotate(177 606.5 417.1)"/><ellipse cx="796.8" cy="457.8" rx="4.1" ry="3.7" fill="#000095" opacity="0.74" transform="rotate(103 796.8 457.8)"/><ellipse cx="607.7" cy="410.4" rx="3.4" ry="2.6" fill="#0000bd" opacity="0.81" transform="rotate(20 607.7 410.4)"/><ellipse cx="588.0" cy="223.3" rx="3.1" ry="3.7" fill="#000076" opacity="0.72" transform="rotate(114 588.0 223.3)"/><ellipse cx="470.2" cy="412.6" rx="5.0" ry="3.9" fill="#000076" opacity="0.79" transform="rotate(160 470.2 412.6)"/><ellipse cx="761.4" cy="463.5" rx="3.6" ry="2.8" fill="#000079" opacity="0.76" transform="rotate(6 761.4 463.5)"/><ellipse cx="709.0" cy="284.7" rx="3.2" ry="3.8" fill="#000096" opacity="0.52" transform="rotate(37 709.0 284.7)"/><ellipse cx="552.6" cy="311.5" rx="3.1" ry="3.8" fill="#0000bb" opacity="0.60" transform="rotate(164 552.6 311.5)"/><ellipse cx="801.8" cy="424.3" rx="4.0" ry="3.2" fill="#00009a" opacity="0.58" transform="rotate(139 801.8 424.3)"/><ellipse cx="462.7" cy="402.3" rx="5.1" ry="3.5" fill="#0000a5" opacity="0.35" transform="rotate(52 462.7 402.3)"/><ellipse cx="444.2" cy="370.5" rx="5.0" ry="2.8" fill="#00009a" opacity="0.83" transform="rotate(89 444.2 370.5)"/><ellipse cx="659.8" cy="407.3" rx="5.0" ry="4.1" fill="#000083" opacity="0.40" transform="rotate(42 659.8 407.3)"/><ellipse cx="736.7" cy="495.4" rx="3.9" ry="3.2" fill="#000079" opacity="0.56" transform="rotate(71 736.7 495.4)"/><ellipse cx="715.0" cy="320.4" rx="4.1" ry="3.4" fill="#0000be" opacity="0.47" transform="rotate(31 715.0 320.4)"/><ellipse cx="636.9" cy="387.7" rx="4.9" ry="3.6" fill="#000097" opacity="0.61" transform="rotate(63 636.9 387.7)"/><ellipse cx="808.8" cy="353.4" rx="3.8" ry="3.3" fill="#00008e" opacity="0.64" transform="rotate(124 808.8 353.4)"/><ellipse cx="495.6" cy="358.4" rx="3.6" ry="2.8" fill="#0000bd" opacity="0.43" transform="rotate(54 495.6 358.4)"/><ellipse cx="508.2" cy="267.9" rx="4.3" ry="2.8" fill="#000086" opacity="0.48" transform="rotate(59 508.2 267.9)"/><ellipse cx="845.5" cy="583.2" rx="4.6" ry="2.8" fill="#000080" opacity="0.75" transform="rotate(27 845.5 583.2)"/><ellipse cx="751.9" cy="347.0" rx="4.6" ry="2.7" fill="#00009f" opacity="0.58" transform="rotate(37 751.9 347.0)"/><ellipse cx="447.7" cy="523.9" rx="3.6" ry="4.2" fill="#000070" opacity="0.42" transform="rotate(53 447.7 523.9)"/><ellipse cx="697.2" cy="334.2" rx="5.3" ry="3.2" fill="#0000a3" opacity="0.77" transform="rotate(103 697.2 334.2)"/><ellipse cx="713.3" cy="409.7" rx="3.5" ry="2.7" fill="#00008f" opacity="0.66" transform="rotate(78 713.3 409.7)"/><ellipse cx="483.7" cy="340.5" rx="4.8" ry="3.6" fill="#0000a4" opacity="0.59" transform="rotate(45 483.7 340.5)"/><ellipse cx="450.7" cy="525.6" rx="4.7" ry="4.0" fill="#000097" opacity="0.74" transform="rotate(161 450.7 525.6)"/><ellipse cx="606.5" cy="370.1" rx="3.1" ry="3.4" fill="#000087" opacity="0.61" transform="rotate(29 606.5 370.1)"/><ellipse cx="485.1" cy="405.8" rx="4.8" ry="3.4" fill="#00009d" opacity="0.61" transform="rotate(115 485.1 405.8)"/><ellipse cx="615.6" cy="563.4" rx="4.7" ry="3.2" fill="#00007d" opacity="0.71" transform="rotate(137 615.6 563.4)"/><ellipse cx="701.6" cy="432.4" rx="4.0" ry="2.6" fill="#0000a3" opacity="0.66" transform="rotate(14 701.6 432.4)"/><ellipse cx="727.3" cy="408.2" rx="3.8" ry="3.2" fill="#00008a" opacity="0.85" transform="rotate(172 727.3 408.2)"/><ellipse cx="848.0" cy="358.4" rx="5.3" ry="2.6" fill="#000086" opacity="0.58" transform="rotate(144 848.0 358.4)"/><ellipse cx="679.6" cy="258.8" rx="3.9" ry="3.6" fill="#0000a2" opacity="0.58" transform="rotate(147 679.6 258.8)"/><ellipse cx="566.6" cy="394.8" rx="5.1" ry="3.1" fill="#000090" opacity="0.70" transform="rotate(153 566.6 394.8)"/><ellipse cx="732.6" cy="578.1" rx="4.2" ry="3.9" fill="#00009b" opacity="0.47" transform="rotate(144 732.6 578.1)"/><ellipse cx="569.8" cy="365.8" rx="4.6" ry="3.6" fill="#000094" opacity="0.78" transform="rotate(65 569.8 365.8)"/><ellipse cx="466.5" cy="512.7" rx="5.0" ry="2.7" fill="#0000b8" opacity="0.36" transform="rotate(150 466.5 512.7)"/><ellipse cx="447.2" cy="565.0" rx="3.6" ry="2.7" fill="#00008b" opacity="0.44" transform="rotate(26 447.2 565.0)"/><ellipse cx="633.2" cy="494.6" rx="4.0" ry="3.4" fill="#0000bb" opacity="0.84" transform="rotate(110 633.2 494.6)"/><ellipse cx="480.6" cy="543.8" rx="4.6" ry="3.0" fill="#000089" opacity="0.62" transform="rotate(89 480.6 543.8)"/><ellipse cx="676.7" cy="275.1" rx="3.3" ry="3.3" fill="#0000a9" opacity="0.80" transform="rotate(11 676.7 275.1)"/><ellipse cx="738.0" cy="267.5" rx="4.5" ry="3.7" fill="#000097" opacity="0.58" transform="rotate(29 738.0 267.5)"/><ellipse cx="679.9" cy="444.1" rx="3.9" ry="3.2" fill="#000077" opacity="0.44" transform="rotate(173 679.9 444.1)"/><ellipse cx="594.5" cy="436.2" rx="3.1" ry="3.8" fill="#00007a" opacity="0.61" transform="rotate(180 594.5 436.2)"/><ellipse cx="647.0" cy="542.1" rx="4.8" ry="3.6" fill="#00009c" opacity="0.52" transform="rotate(61 647.0 542.1)"/><ellipse cx="562.3" cy="307.7" rx="3.1" ry="3.0" fill="#0000ad" opacity="0.55" transform="rotate(64 562.3 307.7)"/><ellipse cx="655.0" cy="278.1" rx="5.4" ry="3.6" fill="#000098" opacity="0.45" transform="rotate(143 655.0 278.1)"/><ellipse cx="479.4" cy="583.8" rx="4.4" ry="3.2" fill="#0000a1" opacity="0.50" transform="rotate(103 479.4 583.8)"/><ellipse cx="445.0" cy="243.6" rx="4.5" ry="3.6" fill="#0000b3" opacity="0.66" transform="rotate(142 445.0 243.6)"/><ellipse cx="702.7" cy="427.9" rx="4.5" ry="3.7" fill="#0000a8" opacity="0.66" transform="rotate(38 702.7 427.9)"/><ellipse cx="515.8" cy="443.4" rx="4.1" ry="2.7" fill="#00006f" opacity="0.53" transform="rotate(167 515.8 443.4)"/><ellipse cx="789.6" cy="495.3" rx="3.6" ry="3.0" fill="#000096" opacity="0.36" transform="rotate(76 789.6 495.3)"/><ellipse cx="681.4" cy="407.4" rx="4.2" ry="3.4" fill="#0000a3" opacity="0.64" transform="rotate(148 681.4 407.4)"/><ellipse cx="830.2" cy="351.8" rx="4.0" ry="3.5" fill="#000081" opacity="0.59" transform="rotate(169 830.2 351.8)"/><ellipse cx="616.5" cy="206.5" rx="3.5" ry="2.8" fill="#00006e" opacity="0.35" transform="rotate(3 616.5 206.5)"/><ellipse cx="724.9" cy="579.7" rx="3.5" ry="2.7" fill="#000091" opacity="0.71" transform="rotate(85 724.9 579.7)"/><ellipse cx="544.7" cy="472.9" rx="3.1" ry="3.8" fill="#000080" opacity="0.71" transform="rotate(128 544.7 472.9)"/><ellipse cx="478.0" cy="428.7" rx="4.2" ry="4.1" fill="#000074" opacity="0.71" transform="rotate(46 478.0 428.7)"/><ellipse cx="447.2" cy="169.7" rx="5.0" ry="2.6" fill="#0000ba" opacity="0.43" transform="rotate(56 447.2 169.7)"/><ellipse cx="805.8" cy="368.6" rx="3.9" ry="3.5" fill="#000083" opacity="0.42" transform="rotate(79 805.8 368.6)"/><ellipse cx="779.0" cy="316.7" rx="4.6" ry="3.2" fill="#0000a7" opacity="0.82" transform="rotate(69 779.0 316.7)"/><ellipse cx="468.0" cy="574.3" rx="5.1" ry="3.1" fill="#00006f" opacity="0.77" transform="rotate(109 468.0 574.3)"/><ellipse cx="696.1" cy="293.7" rx="5.2" ry="3.1" fill="#0000bb" opacity="0.74" transform="rotate(123 696.1 293.7)"/><ellipse cx="541.3" cy="353.8" rx="3.8" ry="3.0" fill="#000073" opacity="0.49" transform="rotate(28 541.3 353.8)"/><ellipse cx="504.4" cy="574.9" rx="4.4" ry="3.8" fill="#0000b2" opacity="0.39" transform="rotate(90 504.4 574.9)"/><ellipse cx="676.1" cy="499.8" rx="4.9" ry="4.1" fill="#0000bb" opacity="0.38" transform="rotate(42 676.1 499.8)"/><ellipse cx="609.3" cy="462.3" rx="4.5" ry="2.5" fill="#0000b3" opacity="0.39" transform="rotate(69 609.3 462.3)"/><ellipse cx="782.9" cy="489.2" rx="4.4" ry="4.0" fill="#0000b0" opacity="0.51" transform="rotate(159 782.9 489.2)"/><ellipse cx="656.1" cy="248.6" rx="3.2" ry="3.9" fill="#0000b7" opacity="0.63" transform="rotate(52 656.1 248.6)"/><ellipse cx="612.3" cy="381.7" rx="3.1" ry="4.2" fill="#00007b" opacity="0.54" transform="rotate(67 612.3 381.7)"/><ellipse cx="638.0" cy="198.0" rx="3.1" ry="3.0" fill="#00007a" opacity="0.37" transform="rotate(109 638.0 198.0)"/><ellipse cx="860.4" cy="528.8" rx="4.4" ry="2.9" fill="#0000a4" opacity="0.40" transform="rotate(140 860.4 528.8)"/><ellipse cx="631.0" cy="413.7" rx="3.3" ry="3.9" fill="#000085" opacity="0.54" transform="rotate(61 631.0 413.7)"/><ellipse cx="454.0" cy="178.2" rx="4.8" ry="3.3" fill="#000076" opacity="0.78" transform="rotate(152 454.0 178.2)"/><ellipse cx="712.5" cy="552.5" rx="3.2" ry="3.0" fill="#000079" opacity="0.83" transform="rotate(42 712.5 552.5)"/><ellipse cx="725.1" cy="329.3" rx="3.4" ry="4.1" fill="#00008a" opacity="0.44" transform="rotate(179 725.1 329.3)"/><ellipse cx="839.9" cy="560.5" rx="4.4" ry="2.5" fill="#00008f" opacity="0.74" transform="rotate(165 839.9 560.5)"/><ellipse cx="465.9" cy="224.6" rx="5.3" ry="3.7" fill="#0000b9" opacity="0.57" transform="rotate(54 465.9 224.6)"/><ellipse cx="717.8" cy="362.1" rx="4.0" ry="3.1" fill="#0000a6" opacity="0.47" transform="rotate(68 717.8 362.1)"/><ellipse cx="502.8" cy="449.3" rx="4.8" ry="2.8" fill="#00008a" opacity="0.39" transform="rotate(6 502.8 449.3)"/><ellipse cx="703.5" cy="320.9" rx="4.9" ry="4.1" fill="#00009f" opacity="0.77" transform="rotate(167 703.5 320.9)"/><ellipse cx="707.6" cy="354.3" rx="5.1" ry="3.3" fill="#000080" opacity="0.52" transform="rotate(113 707.6 354.3)"/><ellipse cx="753.1" cy="239.5" rx="5.2" ry="3.2" fill="#0000a3" opacity="0.56" transform="rotate(27 753.1 239.5)"/><ellipse cx="508.1" cy="277.9" rx="3.8" ry="2.8" fill="#000096" opacity="0.58" transform="rotate(88 508.1 277.9)"/><ellipse cx="646.0" cy="228.2" rx="4.6" ry="3.8" fill="#0000b5" opacity="0.59" transform="rotate(167 646.0 228.2)"/><ellipse cx="563.2" cy="272.2" rx="3.9" ry="4.2" fill="#00008c" opacity="0.40" transform="rotate(180 563.2 272.2)"/><ellipse cx="564.6" cy="541.5" rx="4.8" ry="3.0" fill="#000070" opacity="0.57" transform="rotate(176 564.6 541.5)"/><ellipse cx="656.7" cy="378.9" rx="5.0" ry="4.1" fill="#00009c" opacity="0.57" transform="rotate(52 656.7 378.9)"/><ellipse cx="827.3" cy="255.6" rx="3.3" ry="2.8" fill="#000084" opacity="0.45" transform="rotate(139 827.3 255.6)"/><ellipse cx="475.9" cy="200.4" rx="4.2" ry="3.0" fill="#0000bc" opacity="0.68" transform="rotate(37 475.9 200.4)"/><ellipse cx="707.7" cy="244.6" rx="3.0" ry="3.7" fill="#000075" opacity="0.61" transform="rotate(94 707.7 244.6)"/><ellipse cx="589.1" cy="282.3" rx="5.4" ry="2.7" fill="#0000ab" opacity="0.42" transform="rotate(74 589.1 282.3)"/><ellipse cx="723.3" cy="268.2" rx="5.5" ry="2.6" fill="#0000b7" opacity="0.65" transform="rotate(126 723.3 268.2)"/><ellipse cx="444.4" cy="382.8" rx="4.3" ry="2.7" fill="#000097" opacity="0.74" transform="rotate(129 444.4 382.8)"/><ellipse cx="565.5" cy="208.9" rx="4.1" ry="2.5" fill="#00007f" opacity="0.36" transform="rotate(145 565.5 208.9)"/><ellipse cx="850.8" cy="257.9" rx="3.3" ry="2.9" fill="#000071" opacity="0.36" transform="rotate(147 850.8 257.9)"/><ellipse cx="833.4" cy="475.1" rx="5.1" ry="3.6" fill="#00008c" opacity="0.70" transform="rotate(84 833.4 475.1)"/><ellipse cx="485.8" cy="530.3" rx="3.1" ry="2.7" fill="#0000ae" opacity="0.73" transform="rotate(89 485.8 530.3)"/><ellipse cx="488.8" cy="214.8" rx="4.4" ry="2.9" fill="#0000b7" opacity="0.58" transform="rotate(41 488.8 214.8)"/><ellipse cx="609.8" cy="563.4" rx="4.6" ry="3.7" fill="#0000bb" opacity="0.61" transform="rotate(107 609.8 563.4)"/><ellipse cx="585.3" cy="264.9" rx="4.1" ry="4.2" fill="#000097" opacity="0.76" transform="rotate(145 585.3 264.9)"/><ellipse cx="800.2" cy="186.1" rx="5.4" ry="4.1" fill="#0000a4" opacity="0.68" transform="rotate(45 800.2 186.1)"/><ellipse cx="447.3" cy="209.5" rx="3.8" ry="2.8" fill="#00008a" opacity="0.42" transform="rotate(120 447.3 209.5)"/><ellipse cx="851.7" cy="491.1" rx="4.6" ry="3.9" fill="#000073" opacity="0.37" transform="rotate(159 851.7 491.1)"/><ellipse cx="713.2" cy="275.6" rx="3.7" ry="3.4" fill="#0000bd" opacity="0.40" transform="rotate(166 713.2 275.6)"/><ellipse cx="493.8" cy="169.3" rx="3.1" ry="2.7" fill="#000083" opacity="0.41" transform="rotate(63 493.8 169.3)"/><ellipse cx="693.2" cy="566.8" rx="3.7" ry="3.3" fill="#000080" opacity="0.57" transform="rotate(96 693.2 566.8)"/><ellipse cx="686.1" cy="279.1" rx="4.9" ry="3.0" fill="#0000b6" opacity="0.46" transform="rotate(82 686.1 279.1)"/><ellipse cx="605.6" cy="394.9" rx="5.2" ry="3.0" fill="#000095" opacity="0.37" transform="rotate(86 605.6 394.9)"/><ellipse cx="583.2" cy="243.1" rx="5.4" ry="3.2" fill="#000082" opacity="0.78" transform="rotate(166 583.2 243.1)"/><ellipse cx="543.1" cy="398.3" rx="3.7" ry="4.2" fill="#000070" opacity="0.43" transform="rotate(53 543.1 398.3)"/><ellipse cx="470.6" cy="531.0" rx="3.2" ry="3.2" fill="#00007b" opacity="0.61" transform="rotate(79 470.6 531.0)"/><ellipse cx="860.0" cy="449.3" rx="4.0" ry="3.6" fill="#000087" opacity="0.66" transform="rotate(25 860.0 449.3)"/><ellipse cx="801.2" cy="509.9" rx="4.8" ry="3.8" fill="#0000aa" opacity="0.48" transform="rotate(137 801.2 509.9)"/><ellipse cx="708.6" cy="430.1" rx="4.0" ry="2.7" fill="#0000b4" opacity="0.64" transform="rotate(74 708.6 430.1)"/><ellipse cx="652.6" cy="569.6" rx="4.0" ry="3.8" fill="#0000bb" opacity="0.41" transform="rotate(157 652.6 569.6)"/><ellipse cx="801.9" cy="455.7" rx="3.9" ry="3.1" fill="#0000ba" opacity="0.54" transform="rotate(95 801.9 455.7)"/><ellipse cx="653.3" cy="350.8" rx="3.8" ry="2.7" fill="#0000b8" opacity="0.47" transform="rotate(104 653.3 350.8)"/><ellipse cx="789.2" cy="302.7" rx="4.5" ry="2.9" fill="#0000a4" opacity="0.80" transform="rotate(59 789.2 302.7)"/><ellipse cx="845.9" cy="174.3" rx="5.2" ry="3.0" fill="#000095" opacity="0.62" transform="rotate(97 845.9 174.3)"/><ellipse cx="863.8" cy="381.8" rx="4.7" ry="3.2" fill="#0000ba" opacity="0.69" transform="rotate(64 863.8 381.8)"/><ellipse cx="633.6" cy="167.9" rx="3.6" ry="3.2" fill="#0000b5" opacity="0.81" transform="rotate(90 633.6 167.9)"/><ellipse cx="507.5" cy="242.9" rx="4.0" ry="3.8" fill="#0000b9" opacity="0.52" transform="rotate(162 507.5 242.9)"/><ellipse cx="666.2" cy="507.6" rx="3.8" ry="4.2" fill="#0000af" opacity="0.44" transform="rotate(149 666.2 507.6)"/><ellipse cx="719.3" cy="287.9" rx="5.3" ry="3.4" fill="#0000be" opacity="0.43" transform="rotate(175 719.3 287.9)"/><ellipse cx="564.8" cy="379.3" rx="3.5" ry="2.8" fill="#0000bb" opacity="0.40" transform="rotate(113 564.8 379.3)"/><ellipse cx="682.9" cy="429.8" rx="4.7" ry="2.5" fill="#0000b4" opacity="0.35" transform="rotate(1 682.9 429.8)"/><ellipse cx="570.9" cy="518.7" rx="4.7" ry="2.8" fill="#0000b4" opacity="0.63" transform="rotate(90 570.9 518.7)"/><ellipse cx="810.1" cy="541.2" rx="3.4" ry="2.8" fill="#000080" opacity="0.43" transform="rotate(108 810.1 541.2)"/><ellipse cx="763.0" cy="208.5" rx="3.4" ry="3.4" fill="#0000bc" opacity="0.57" transform="rotate(148 763.0 208.5)"/><ellipse cx="780.2" cy="437.7" rx="4.4" ry="2.7" fill="#000091" opacity="0.43" transform="rotate(43 780.2 437.7)"/><ellipse cx="554.9" cy="205.5" rx="4.5" ry="3.1" fill="#00009f" opacity="0.36" transform="rotate(81 554.9 205.5)"/><ellipse cx="535.3" cy="330.5" rx="3.1" ry="2.6" fill="#00008a" opacity="0.37" transform="rotate(43 535.3 330.5)"/><ellipse cx="835.3" cy="524.0" rx="5.2" ry="3.9" fill="#0000bb" opacity="0.48" transform="rotate(55 835.3 524.0)"/><ellipse cx="816.7" cy="576.7" rx="4.7" ry="3.6" fill="#0000a2" opacity="0.50" transform="rotate(105 816.7 576.7)"/><ellipse cx="545.1" cy="236.7" rx="3.5" ry="4.2" fill="#0000b5" opacity="0.53" transform="rotate(52 545.1 236.7)"/><ellipse cx="583.8" cy="531.1" rx="4.6" ry="4.1" fill="#00009a" opacity="0.63" transform="rotate(76 583.8 531.1)"/><ellipse cx="605.9" cy="360.5" rx="4.1" ry="3.0" fill="#000081" opacity="0.47" transform="rotate(5 605.9 360.5)"/><ellipse cx="497.2" cy="246.3" rx="5.0" ry="3.4" fill="#00008c" opacity="0.43" transform="rotate(84 497.2 246.3)"/><ellipse cx="591.4" cy="468.2" rx="5.4" ry="2.9" fill="#0000ae" opacity="0.45" transform="rotate(171 591.4 468.2)"/><ellipse cx="863.6" cy="414.9" rx="5.5" ry="3.4" fill="#0000af" opacity="0.46" transform="rotate(73 863.6 414.9)"/><ellipse cx="810.6" cy="215.3" rx="4.4" ry="3.0" fill="#00009f" opacity="0.36" transform="rotate(139 810.6 215.3)"/><ellipse cx="745.6" cy="224.7" rx="4.8" ry="3.7" fill="#00008b" opacity="0.51" transform="rotate(140 745.6 224.7)"/><ellipse cx="722.1" cy="209.5" rx="3.9" ry="3.4" fill="#000076" opacity="0.71" transform="rotate(53 722.1 209.5)"/><ellipse cx="479.5" cy="285.2" rx="4.0" ry="3.1" fill="#0000a9" opacity="0.74" transform="rotate(152 479.5 285.2)"/><ellipse cx="815.0" cy="526.8" rx="3.7" ry="2.6" fill="#00009a" opacity="0.80" transform="rotate(122 815.0 526.8)"/><ellipse cx="453.1" cy="460.4" rx="5.5" ry="3.2" fill="#00007a" opacity="0.44" transform="rotate(163 453.1 460.4)"/><ellipse cx="491.0" cy="548.5" rx="4.8" ry="2.6" fill="#000082" opacity="0.57" transform="rotate(7 491.0 548.5)"/><ellipse cx="761.9" cy="229.4" rx="4.4" ry="3.6" fill="#0000b6" opacity="0.77" transform="rotate(169 761.9 229.4)"/><ellipse cx="683.1" cy="465.8" rx="4.1" ry="3.7" fill="#00006e" opacity="0.41" transform="rotate(63 683.1 465.8)"/><ellipse cx="853.6" cy="450.8" rx="3.8" ry="3.8" fill="#000079" opacity="0.56" transform="rotate(62 853.6 450.8)"/><ellipse cx="756.4" cy="584.5" rx="3.6" ry="3.4" fill="#0000a4" opacity="0.57" transform="rotate(63 756.4 584.5)"/><ellipse cx="586.0" cy="375.7" rx="5.1" ry="3.6" fill="#000088" opacity="0.56" transform="rotate(92 586.0 375.7)"/><ellipse cx="658.5" cy="555.0" rx="4.9" ry="2.6" fill="#0000b5" opacity="0.48" transform="rotate(126 658.5 555.0)"/><ellipse cx="673.0" cy="572.4" rx="4.4" ry="2.9" fill="#00009b" opacity="0.52" transform="rotate(11 673.0 572.4)"/><ellipse cx="481.5" cy="432.0" rx="4.7" ry="3.3" fill="#00008c" opacity="0.35" transform="rotate(87 481.5 432.0)"/><ellipse cx="734.3" cy="219.6" rx="4.7" ry="2.7" fill="#0000b9" opacity="0.63" transform="rotate(127 734.3 219.6)"/><ellipse cx="583.2" cy="507.4" rx="4.9" ry="2.8" fill="#0000ba" opacity="0.84" transform="rotate(120 583.2 507.4)"/><ellipse cx="796.7" cy="334.8" rx="4.7" ry="2.5" fill="#000073" opacity="0.38" transform="rotate(88 796.7 334.8)"/><ellipse cx="561.0" cy="246.6" rx="4.1" ry="2.7" fill="#0000a9" opacity="0.63" transform="rotate(58 561.0 246.6)"/><ellipse cx="564.6" cy="398.7" rx="4.2" ry="4.2" fill="#000098" opacity="0.84" transform="rotate(87 564.6 398.7)"/><ellipse cx="680.3" cy="209.4" rx="4.1" ry="2.8" fill="#00006f" opacity="0.53" transform="rotate(98 680.3 209.4)"/><ellipse cx="480.8" cy="284.1" rx="4.8" ry="3.7" fill="#000078" opacity="0.42" transform="rotate(118 480.8 284.1)"/><ellipse cx="454.1" cy="490.2" rx="3.7" ry="2.8" fill="#000083" opacity="0.40" transform="rotate(115 454.1 490.2)"/><ellipse cx="745.8" cy="294.4" rx="3.9" ry="3.6" fill="#00008b" opacity="0.53" transform="rotate(64 745.8 294.4)"/><ellipse cx="675.0" cy="319.3" rx="3.6" ry="2.6" fill="#0000be" opacity="0.81" transform="rotate(102 675.0 319.3)"/><ellipse cx="864.5" cy="333.6" rx="3.5" ry="3.2" fill="#000094" opacity="0.65" transform="rotate(132 864.5 333.6)"/><ellipse cx="706.8" cy="223.3" rx="3.3" ry="3.6" fill="#000073" opacity="0.78" transform="rotate(72 706.8 223.3)"/><ellipse cx="644.8" cy="255.6" rx="3.1" ry="3.5" fill="#0000af" opacity="0.56" transform="rotate(150 644.8 255.6)"/><ellipse cx="562.0" cy="442.6" rx="4.1" ry="3.1" fill="#000084" opacity="0.80" transform="rotate(79 562.0 442.6)"/><ellipse cx="511.8" cy="288.2" rx="4.4" ry="3.1" fill="#000078" opacity="0.62" transform="rotate(35 511.8 288.2)"/><ellipse cx="660.5" cy="344.2" rx="4.6" ry="2.8" fill="#0000bb" opacity="0.66" transform="rotate(72 660.5 344.2)"/><ellipse cx="784.8" cy="188.8" rx="4.5" ry="3.0" fill="#00009d" opacity="0.59" transform="rotate(103 784.8 188.8)"/><ellipse cx="715.6" cy="289.7" rx="5.2" ry="2.5" fill="#0000a7" opacity="0.70" transform="rotate(34 715.6 289.7)"/><ellipse cx="504.4" cy="407.8" rx="5.4" ry="3.1" fill="#0000a6" opacity="0.55" transform="rotate(43 504.4 407.8)"/><ellipse cx="490.6" cy="239.6" rx="4.4" ry="2.7" fill="#00008e" opacity="0.67" transform="rotate(155 490.6 239.6)"/><ellipse cx="521.6" cy="446.2" rx="3.6" ry="3.3" fill="#00007c" opacity="0.72" transform="rotate(97 521.6 446.2)"/><ellipse cx="729.2" cy="501.1" rx="4.3" ry="3.4" fill="#00007c" opacity="0.66" transform="rotate(151 729.2 501.1)"/><ellipse cx="847.8" cy="380.8" rx="4.7" ry="3.4" fill="#000086" opacity="0.63" transform="rotate(174 847.8 380.8)"/><ellipse cx="769.5" cy="221.2" rx="3.1" ry="2.9" fill="#00006f" opacity="0.70" transform="rotate(67 769.5 221.2)"/><ellipse cx="845.8" cy="357.4" rx="3.3" ry="4.0" fill="#000087" opacity="0.63" transform="rotate(16 845.8 357.4)"/><ellipse cx="829.7" cy="530.8" rx="4.9" ry="3.1" fill="#00006f" opacity="0.76" transform="rotate(137 829.7 530.8)"/><ellipse cx="494.2" cy="320.8" rx="5.4" ry="3.7" fill="#0000bb" opacity="0.53" transform="rotate(8 494.2 320.8)"/><ellipse cx="592.6" cy="301.6" rx="3.1" ry="4.0" fill="#00009b" opacity="0.45" transform="rotate(44 592.6 301.6)"/><ellipse cx="490.3" cy="172.3" rx="5.0" ry="2.8" fill="#000093" opacity="0.79" transform="rotate(100 490.3 172.3)"/><ellipse cx="725.0" cy="516.2" rx="3.6" ry="4.2" fill="#000090" opacity="0.82" transform="rotate(137 725.0 516.2)"/><ellipse cx="448.2" cy="307.9" rx="4.3" ry="4.0" fill="#000072" opacity="0.39" transform="rotate(144 448.2 307.9)"/><ellipse cx="704.3" cy="435.4" rx="5.1" ry="4.1" fill="#0000a7" opacity="0.55" transform="rotate(125 704.3 435.4)"/><ellipse cx="810.9" cy="421.2" rx="3.8" ry="2.9" fill="#0000b9" opacity="0.66" transform="rotate(161 810.9 421.2)"/><ellipse cx="531.6" cy="509.0" rx="3.8" ry="3.3" fill="#000096" opacity="0.35" transform="rotate(169 531.6 509.0)"/><ellipse cx="686.9" cy="304.3" rx="4.1" ry="4.2" fill="#000080" opacity="0.71" transform="rotate(8 686.9 304.3)"/><ellipse cx="503.0" cy="325.7" rx="5.5" ry="3.1" fill="#0000b8" opacity="0.83" transform="rotate(103 503.0 325.7)"/><ellipse cx="861.2" cy="177.9" rx="4.9" ry="4.0" fill="#0000b7" opacity="0.67" transform="rotate(139 861.2 177.9)"/><ellipse cx="595.6" cy="282.3" rx="5.2" ry="4.1" fill="#000094" opacity="0.83" transform="rotate(123 595.6 282.3)"/><ellipse cx="586.5" cy="316.5" rx="3.6" ry="4.0" fill="#000098" opacity="0.38" transform="rotate(129 586.5 316.5)"/><ellipse cx="584.7" cy="299.8" rx="4.2" ry="3.1" fill="#00008c" opacity="0.85" transform="rotate(44 584.7 299.8)"/><ellipse cx="506.1" cy="250.1" rx="4.7" ry="3.2" fill="#000094" opacity="0.81" transform="rotate(71 506.1 250.1)"/></g><g filter="url(#fxB1)"><ellipse cx="542.8" cy="393.1" rx="6.6" ry="4.6" fill="#0810f5" opacity="0.89" transform="rotate(-105 542.8 393.1)"/><ellipse cx="523.3" cy="466.0" rx="6.6" ry="4.7" fill="#070ee0" opacity="0.91" transform="rotate(-92 523.3 466.0)"/><ellipse cx="691.9" cy="290.6" rx="4.4" ry="3.2" fill="#0c19f2" opacity="0.93" transform="rotate(-5 691.9 290.6)"/><ellipse cx="685.9" cy="570.2" rx="3.5" ry="2.5" fill="#0810e4" opacity="0.99" transform="rotate(-83 685.9 570.2)"/><ellipse cx="626.5" cy="427.8" rx="7.8" ry="4.6" fill="#0a15e5" opacity="0.92" transform="rotate(-80 626.5 427.8)"/><ellipse cx="834.5" cy="524.7" rx="4.9" ry="2.7" fill="#0306f9" opacity="0.93" transform="rotate(-53 834.5 524.7)"/><ellipse cx="531.5" cy="514.3" rx="3.6" ry="2.9" fill="#0204ed" opacity="0.85" transform="rotate(-71 531.5 514.3)"/><ellipse cx="506.0" cy="287.5" rx="3.4" ry="3.1" fill="#0c18d9" opacity="0.93" transform="rotate(-76 506.0 287.5)"/><ellipse cx="655.7" cy="584.7" rx="3.5" ry="3.0" fill="#0810e9" opacity="0.79" transform="rotate(44 655.7 584.7)"/><ellipse cx="460.3" cy="529.5" rx="5.4" ry="2.8" fill="#1021f4" opacity="0.85" transform="rotate(-74 460.3 529.5)"/><ellipse cx="808.3" cy="450.7" rx="5.9" ry="4.7" fill="#0810f2" opacity="0.88" transform="rotate(-63 808.3 450.7)"/><ellipse cx="673.9" cy="168.3" rx="6.0" ry="4.2" fill="#0408fc" opacity="0.77" transform="rotate(-125 673.9 168.3)"/><ellipse cx="707.2" cy="360.2" rx="4.7" ry="2.7" fill="#0b17d8" opacity="0.81" transform="rotate(-92 707.2 360.2)"/><ellipse cx="635.0" cy="413.5" rx="3.7" ry="3.3" fill="#0810fd" opacity="0.83" transform="rotate(-42 635.0 413.5)"/><ellipse cx="601.6" cy="489.2" rx="7.3" ry="3.7" fill="#070fe8" opacity="0.83" transform="rotate(-96 601.6 489.2)"/><ellipse cx="728.6" cy="437.5" rx="6.1" ry="4.1" fill="#0e1ce5" opacity="0.95" transform="rotate(-45 728.6 437.5)"/><ellipse cx="847.9" cy="197.2" rx="5.3" ry="2.9" fill="#060cf8" opacity="0.83" transform="rotate(-42 847.9 197.2)"/><ellipse cx="586.0" cy="512.7" rx="6.1" ry="3.7" fill="#1021e9" opacity="0.95" transform="rotate(-27 586.0 512.7)"/><ellipse cx="556.9" cy="309.6" rx="5.8" ry="2.9" fill="#1020f5" opacity="0.86" transform="rotate(-65 556.9 309.6)"/><ellipse cx="843.5" cy="554.7" rx="6.5" ry="4.0" fill="#0912f8" opacity="0.89" transform="rotate(-33 843.5 554.7)"/><ellipse cx="817.9" cy="526.9" rx="3.6" ry="2.6" fill="#060cf7" opacity="0.97" transform="rotate(17 817.9 526.9)"/><ellipse cx="822.2" cy="406.9" rx="3.7" ry="2.7" fill="#1021d8" opacity="0.88" transform="rotate(-31 822.2 406.9)"/><ellipse cx="464.9" cy="548.6" rx="3.9" ry="3.4" fill="#070eed" opacity="0.80" transform="rotate(-105 464.9 548.6)"/><ellipse cx="668.1" cy="508.0" rx="5.4" ry="3.3" fill="#0f1fd7" opacity="0.91" transform="rotate(-36 668.1 508.0)"/><ellipse cx="806.5" cy="184.6" rx="4.7" ry="3.0" fill="#0103d7" opacity="0.94" transform="rotate(-16 806.5 184.6)"/><ellipse cx="461.9" cy="184.5" rx="5.3" ry="2.4" fill="#0f1ff7" opacity="0.83" transform="rotate(-35 461.9 184.5)"/><ellipse cx="575.2" cy="311.7" rx="6.0" ry="4.0" fill="#1123df" opacity="0.75" transform="rotate(-8 575.2 311.7)"/><ellipse cx="747.6" cy="499.0" rx="4.2" ry="3.1" fill="#0c18f9" opacity="0.91" transform="rotate(-48 747.6 499.0)"/><ellipse cx="460.7" cy="537.4" rx="6.3" ry="3.4" fill="#070fd8" opacity="0.80" transform="rotate(-10 460.7 537.4)"/><ellipse cx="556.4" cy="412.3" rx="4.3" ry="3.4" fill="#0b17eb" opacity="0.99" transform="rotate(-56 556.4 412.3)"/><ellipse cx="678.4" cy="530.6" rx="5.5" ry="3.3" fill="#0306ef" opacity="0.93" transform="rotate(-20 678.4 530.6)"/><ellipse cx="444.5" cy="224.0" rx="4.5" ry="3.0" fill="#050bef" opacity="0.95" transform="rotate(-80 444.5 224.0)"/><ellipse cx="586.5" cy="523.0" rx="4.8" ry="3.4" fill="#0102dc" opacity="1.00" transform="rotate(-1 586.5 523.0)"/><ellipse cx="680.3" cy="386.6" rx="7.5" ry="5.3" fill="#1123da" opacity="0.83" transform="rotate(-59 680.3 386.6)"/><ellipse cx="680.5" cy="512.8" rx="4.8" ry="2.9" fill="#0b17e7" opacity="0.90" transform="rotate(-71 680.5 512.8)"/><ellipse cx="600.8" cy="262.7" rx="4.3" ry="3.0" fill="#1021fc" opacity="0.92" transform="rotate(-125 600.8 262.7)"/><ellipse cx="508.3" cy="332.7" rx="3.5" ry="3.3" fill="#050bf3" opacity="0.78" transform="rotate(-8 508.3 332.7)"/><ellipse cx="759.8" cy="225.3" rx="5.3" ry="3.0" fill="#0d1ae9" opacity="0.90" transform="rotate(-66 759.8 225.3)"/><ellipse cx="689.1" cy="578.4" rx="3.4" ry="2.9" fill="#070fee" opacity="0.83" transform="rotate(-61 689.1 578.4)"/><ellipse cx="644.8" cy="416.2" rx="5.0" ry="5.4" fill="#0c19db" opacity="0.95" transform="rotate(-31 644.8 416.2)"/><ellipse cx="814.6" cy="182.8" rx="4.8" ry="3.3" fill="#070fe7" opacity="0.97" transform="rotate(-23 814.6 182.8)"/><ellipse cx="769.9" cy="221.5" rx="5.4" ry="2.6" fill="#0a14d9" opacity="0.80" transform="rotate(-35 769.9 221.5)"/><ellipse cx="480.8" cy="500.5" rx="5.2" ry="2.7" fill="#0000ec" opacity="0.76" transform="rotate(-74 480.8 500.5)"/><ellipse cx="582.3" cy="323.6" rx="7.5" ry="4.4" fill="#1122df" opacity="0.83" transform="rotate(-9 582.3 323.6)"/><ellipse cx="815.3" cy="195.7" rx="6.7" ry="4.4" fill="#0b17ee" opacity="0.94" transform="rotate(23 815.3 195.7)"/><ellipse cx="567.1" cy="448.6" rx="3.5" ry="3.5" fill="#1122ec" opacity="0.88" transform="rotate(3 567.1 448.6)"/><ellipse cx="723.9" cy="378.1" rx="4.9" ry="3.0" fill="#0409ff" opacity="0.79" transform="rotate(-24 723.9 378.1)"/><ellipse cx="818.0" cy="439.9" rx="5.4" ry="4.1" fill="#0d1afd" opacity="0.89" transform="rotate(1 818.0 439.9)"/><ellipse cx="715.7" cy="356.6" rx="4.9" ry="2.4" fill="#0c19fb" opacity="0.84" transform="rotate(-26 715.7 356.6)"/><ellipse cx="554.6" cy="325.2" rx="4.4" ry="2.7" fill="#0b16f7" opacity="0.97" transform="rotate(-5 554.6 325.2)"/><ellipse cx="841.3" cy="352.6" rx="4.1" ry="3.4" fill="#0307dd" opacity="0.89" transform="rotate(-24 841.3 352.6)"/><ellipse cx="826.5" cy="210.8" rx="6.4" ry="4.9" fill="#0409df" opacity="0.96" transform="rotate(-27 826.5 210.8)"/><ellipse cx="779.3" cy="393.3" rx="3.8" ry="2.6" fill="#0d1af3" opacity="0.99" transform="rotate(-43 779.3 393.3)"/><ellipse cx="604.1" cy="396.6" rx="6.9" ry="4.0" fill="#0f1eea" opacity="0.76" transform="rotate(-53 604.1 396.6)"/><ellipse cx="522.8" cy="430.9" rx="4.4" ry="3.0" fill="#060df8" opacity="0.76" transform="rotate(-67 522.8 430.9)"/><ellipse cx="653.6" cy="436.0" rx="5.9" ry="4.7" fill="#0408e0" opacity="0.87" transform="rotate(-39 653.6 436.0)"/><ellipse cx="479.9" cy="553.0" rx="5.8" ry="3.6" fill="#0a15eb" opacity="0.97" transform="rotate(-123 479.9 553.0)"/><ellipse cx="696.1" cy="554.5" rx="5.6" ry="2.6" fill="#060cdb" opacity="0.86" transform="rotate(-65 696.1 554.5)"/><ellipse cx="761.9" cy="368.1" rx="4.2" ry="3.4" fill="#0204f5" opacity="0.88" transform="rotate(-55 761.9 368.1)"/><ellipse cx="620.6" cy="437.4" rx="5.4" ry="4.0" fill="#050bf3" opacity="0.86" transform="rotate(-79 620.6 437.4)"/><ellipse cx="458.1" cy="271.7" rx="5.6" ry="3.8" fill="#0810e4" opacity="0.95" transform="rotate(-45 458.1 271.7)"/><ellipse cx="503.0" cy="357.5" rx="3.4" ry="3.1" fill="#050af7" opacity="0.91" transform="rotate(-42 503.0 357.5)"/><ellipse cx="501.2" cy="420.2" rx="3.4" ry="2.3" fill="#070fda" opacity="0.85" transform="rotate(-79 501.2 420.2)"/><ellipse cx="609.8" cy="174.7" rx="3.9" ry="2.8" fill="#050ae3" opacity="0.83" transform="rotate(-34 609.8 174.7)"/><ellipse cx="491.4" cy="548.5" rx="3.9" ry="3.3" fill="#0f1fea" opacity="0.81" transform="rotate(-124 491.4 548.5)"/><ellipse cx="554.6" cy="507.1" rx="4.0" ry="2.4" fill="#0205f2" opacity="0.90" transform="rotate(-27 554.6 507.1)"/><ellipse cx="443.9" cy="176.3" rx="4.5" ry="2.9" fill="#060cec" opacity="0.97" transform="rotate(-29 443.9 176.3)"/><ellipse cx="762.1" cy="306.9" rx="5.5" ry="2.3" fill="#0c19ea" opacity="0.77" transform="rotate(-6 762.1 306.9)"/><ellipse cx="566.3" cy="522.0" rx="5.7" ry="3.7" fill="#1123ef" opacity="0.84" transform="rotate(-39 566.3 522.0)"/><ellipse cx="520.0" cy="501.7" rx="6.4" ry="3.7" fill="#050ae8" opacity="0.88" transform="rotate(-80 520.0 501.7)"/><ellipse cx="760.1" cy="549.5" rx="4.2" ry="3.2" fill="#0306dc" opacity="0.83" transform="rotate(-44 760.1 549.5)"/><ellipse cx="695.9" cy="501.5" rx="8.0" ry="4.3" fill="#0b17ec" opacity="0.75" transform="rotate(-110 695.9 501.5)"/><ellipse cx="524.6" cy="495.4" rx="4.6" ry="2.4" fill="#0103e6" opacity="0.99" transform="rotate(-1 524.6 495.4)"/><ellipse cx="837.3" cy="223.9" rx="3.8" ry="3.6" fill="#1123e5" opacity="0.88" transform="rotate(-20 837.3 223.9)"/><ellipse cx="655.5" cy="546.2" rx="7.6" ry="4.4" fill="#0001de" opacity="0.96" transform="rotate(-52 655.5 546.2)"/><ellipse cx="485.2" cy="561.3" rx="4.4" ry="2.6" fill="#0306fe" opacity="0.91" transform="rotate(-52 485.2 561.3)"/><ellipse cx="763.8" cy="531.2" rx="7.2" ry="5.0" fill="#0c18f3" opacity="0.80" transform="rotate(-67 763.8 531.2)"/><ellipse cx="670.0" cy="359.3" rx="4.1" ry="2.5" fill="#1123db" opacity="0.92" transform="rotate(36 670.0 359.3)"/><ellipse cx="596.3" cy="494.2" rx="5.7" ry="4.1" fill="#0e1cf2" opacity="0.77" transform="rotate(-13 596.3 494.2)"/><ellipse cx="534.4" cy="233.2" rx="5.3" ry="3.6" fill="#0e1dfe" opacity="0.98" transform="rotate(-46 534.4 233.2)"/><ellipse cx="668.5" cy="340.1" rx="8.2" ry="4.4" fill="#0102fc" opacity="0.82" transform="rotate(-40 668.5 340.1)"/><ellipse cx="836.7" cy="241.4" rx="4.0" ry="3.0" fill="#0f1eff" opacity="0.76" transform="rotate(-80 836.7 241.4)"/><ellipse cx="756.9" cy="279.9" rx="4.4" ry="2.6" fill="#0913f3" opacity="0.98" transform="rotate(-41 756.9 279.9)"/><ellipse cx="629.7" cy="250.2" rx="5.5" ry="3.6" fill="#0b17ff" opacity="0.99" transform="rotate(-64 629.7 250.2)"/><ellipse cx="624.4" cy="560.0" rx="5.7" ry="5.3" fill="#0b16ee" opacity="0.95" transform="rotate(-47 624.4 560.0)"/><ellipse cx="567.9" cy="265.8" rx="3.3" ry="3.1" fill="#1122e0" opacity="0.76" transform="rotate(-37 567.9 265.8)"/><ellipse cx="843.4" cy="164.3" rx="5.1" ry="4.4" fill="#050bf6" opacity="0.81" transform="rotate(-74 843.4 164.3)"/><ellipse cx="559.2" cy="545.0" rx="6.8" ry="3.6" fill="#0810ea" opacity="0.81" transform="rotate(-11 559.2 545.0)"/><ellipse cx="781.0" cy="339.9" rx="3.4" ry="2.3" fill="#070ffb" opacity="0.99" transform="rotate(-24 781.0 339.9)"/><ellipse cx="756.3" cy="518.4" rx="4.6" ry="2.7" fill="#0102e1" opacity="0.75" transform="rotate(-46 756.3 518.4)"/><ellipse cx="639.7" cy="444.2" rx="6.7" ry="4.2" fill="#0408db" opacity="1.00" transform="rotate(-65 639.7 444.2)"/><ellipse cx="673.3" cy="335.7" rx="4.9" ry="3.3" fill="#1021e9" opacity="0.79" transform="rotate(-67 673.3 335.7)"/><ellipse cx="575.3" cy="383.7" rx="5.2" ry="3.5" fill="#1123fb" opacity="0.78" transform="rotate(-52 575.3 383.7)"/><ellipse cx="495.3" cy="494.8" rx="3.5" ry="3.2" fill="#0102ee" opacity="0.88" transform="rotate(-51 495.3 494.8)"/><ellipse cx="820.5" cy="568.6" rx="4.0" ry="2.7" fill="#0a14f0" opacity="0.76" transform="rotate(-92 820.5 568.6)"/><ellipse cx="532.8" cy="179.5" rx="6.3" ry="4.0" fill="#0d1adf" opacity="0.81" transform="rotate(-114 532.8 179.5)"/><ellipse cx="856.1" cy="196.9" rx="5.0" ry="3.2" fill="#0000de" opacity="0.99" transform="rotate(-8 856.1 196.9)"/><ellipse cx="853.7" cy="455.4" rx="5.5" ry="3.3" fill="#0103fa" opacity="0.79" transform="rotate(-12 853.7 455.4)"/><ellipse cx="647.8" cy="234.4" rx="4.9" ry="2.9" fill="#0103f0" opacity="0.80" transform="rotate(-49 647.8 234.4)"/><ellipse cx="706.9" cy="294.7" rx="5.3" ry="2.4" fill="#1122e0" opacity="0.80" transform="rotate(-42 706.9 294.7)"/><ellipse cx="771.1" cy="346.3" rx="3.9" ry="2.5" fill="#0204ed" opacity="0.98" transform="rotate(-34 771.1 346.3)"/><ellipse cx="445.5" cy="319.9" rx="4.8" ry="3.5" fill="#0306f6" opacity="0.93" transform="rotate(-31 445.5 319.9)"/><ellipse cx="574.6" cy="172.5" rx="5.8" ry="3.6" fill="#0e1df9" opacity="0.96" transform="rotate(-82 574.6 172.5)"/><ellipse cx="527.0" cy="414.2" rx="4.0" ry="3.4" fill="#0a14e1" opacity="0.82" transform="rotate(-54 527.0 414.2)"/><ellipse cx="527.8" cy="185.9" rx="5.9" ry="3.2" fill="#0c19de" opacity="1.00" transform="rotate(-63 527.8 185.9)"/><ellipse cx="481.5" cy="391.4" rx="4.7" ry="2.6" fill="#1020f4" opacity="0.89" transform="rotate(-54 481.5 391.4)"/><ellipse cx="711.2" cy="412.8" rx="5.3" ry="3.4" fill="#050be8" opacity="0.78" transform="rotate(-67 711.2 412.8)"/><ellipse cx="653.8" cy="472.3" rx="3.9" ry="3.6" fill="#0408f3" opacity="0.87" transform="rotate(48 653.8 472.3)"/><ellipse cx="665.5" cy="349.7" rx="4.3" ry="3.0" fill="#0c18e6" opacity="0.85" transform="rotate(-67 665.5 349.7)"/><ellipse cx="856.6" cy="318.1" rx="6.7" ry="3.7" fill="#1123ef" opacity="0.84" transform="rotate(-64 856.6 318.1)"/><ellipse cx="569.3" cy="376.6" rx="5.4" ry="3.2" fill="#070eeb" opacity="0.75" transform="rotate(-13 569.3 376.6)"/><ellipse cx="469.5" cy="163.6" rx="4.0" ry="2.7" fill="#0001d8" opacity="0.88" transform="rotate(-20 469.5 163.6)"/><ellipse cx="792.1" cy="516.8" rx="5.1" ry="3.8" fill="#0f1ee5" opacity="0.78" transform="rotate(-125 792.1 516.8)"/><ellipse cx="571.8" cy="396.6" rx="4.7" ry="2.4" fill="#0b16d8" opacity="0.85" transform="rotate(-50 571.8 396.6)"/><ellipse cx="649.3" cy="579.2" rx="4.2" ry="3.0" fill="#0d1bea" opacity="0.82" transform="rotate(-90 649.3 579.2)"/><ellipse cx="712.7" cy="478.0" rx="4.3" ry="3.3" fill="#0204eb" opacity="0.96" transform="rotate(-25 712.7 478.0)"/><ellipse cx="579.3" cy="548.5" rx="5.2" ry="2.7" fill="#060ceb" opacity="0.91" transform="rotate(-85 579.3 548.5)"/><ellipse cx="846.8" cy="185.4" rx="6.8" ry="4.6" fill="#050bdc" opacity="0.81" transform="rotate(-22 846.8 185.4)"/><ellipse cx="562.5" cy="577.7" rx="5.7" ry="4.6" fill="#1122fc" opacity="0.84" transform="rotate(-71 562.5 577.7)"/><ellipse cx="661.1" cy="296.3" rx="7.9" ry="4.9" fill="#0e1ce4" opacity="0.76" transform="rotate(-6 661.1 296.3)"/><ellipse cx="625.1" cy="295.1" rx="3.7" ry="2.4" fill="#0c19f7" opacity="0.96" transform="rotate(-122 625.1 295.1)"/><ellipse cx="575.5" cy="481.9" rx="4.2" ry="3.4" fill="#070fda" opacity="0.85" transform="rotate(-23 575.5 481.9)"/><ellipse cx="606.7" cy="238.4" rx="3.4" ry="3.6" fill="#0e1cea" opacity="0.79" transform="rotate(-48 606.7 238.4)"/><ellipse cx="513.4" cy="367.2" rx="4.7" ry="2.5" fill="#0c19f8" opacity="0.90" transform="rotate(-69 513.4 367.2)"/><ellipse cx="621.6" cy="238.3" rx="3.4" ry="3.3" fill="#050bfc" opacity="0.82" transform="rotate(-19 621.6 238.3)"/><ellipse cx="821.7" cy="452.7" rx="8.4" ry="4.1" fill="#0f1efe" opacity="0.94" transform="rotate(-76 821.7 452.7)"/><ellipse cx="490.9" cy="340.3" rx="4.6" ry="2.4" fill="#1122f5" opacity="0.79" transform="rotate(-112 490.9 340.3)"/><ellipse cx="831.5" cy="321.6" rx="5.2" ry="2.6" fill="#1123dc" opacity="0.90" transform="rotate(-57 831.5 321.6)"/><ellipse cx="689.0" cy="449.5" rx="5.6" ry="3.4" fill="#0d1bd7" opacity="0.92" transform="rotate(-45 689.0 449.5)"/><ellipse cx="752.7" cy="311.4" rx="5.6" ry="4.0" fill="#0c18e3" opacity="0.93" transform="rotate(-74 752.7 311.4)"/><ellipse cx="579.2" cy="231.9" rx="4.6" ry="3.5" fill="#0b17fb" opacity="0.78" transform="rotate(-33 579.2 231.9)"/><ellipse cx="465.5" cy="366.9" rx="7.2" ry="3.7" fill="#1122fa" opacity="0.78" transform="rotate(-11 465.5 366.9)"/><ellipse cx="605.8" cy="398.4" rx="3.5" ry="2.7" fill="#060dde" opacity="0.99" transform="rotate(-78 605.8 398.4)"/><ellipse cx="643.6" cy="346.6" rx="3.9" ry="3.3" fill="#070ee3" opacity="0.81" transform="rotate(32 643.6 346.6)"/><ellipse cx="551.5" cy="310.1" rx="3.5" ry="3.2" fill="#0a15f4" opacity="0.99" transform="rotate(-45 551.5 310.1)"/><ellipse cx="580.3" cy="485.1" rx="4.9" ry="3.7" fill="#0e1cee" opacity="0.94" transform="rotate(-70 580.3 485.1)"/><ellipse cx="655.2" cy="453.4" rx="4.9" ry="3.8" fill="#0102d9" opacity="0.79" transform="rotate(-75 655.2 453.4)"/><ellipse cx="712.7" cy="252.6" rx="7.5" ry="3.9" fill="#0810ee" opacity="0.76" transform="rotate(-63 712.7 252.6)"/><ellipse cx="527.9" cy="230.3" rx="4.4" ry="3.3" fill="#050afd" opacity="0.81" transform="rotate(-19 527.9 230.3)"/><ellipse cx="479.0" cy="197.2" rx="3.3" ry="2.4" fill="#0c19f8" opacity="0.93" transform="rotate(-10 479.0 197.2)"/><ellipse cx="675.8" cy="443.3" rx="4.9" ry="2.3" fill="#0000e1" opacity="0.76" transform="rotate(-56 675.8 443.3)"/><ellipse cx="661.1" cy="301.8" rx="3.4" ry="2.6" fill="#1122d7" opacity="0.86" transform="rotate(8 661.1 301.8)"/><ellipse cx="724.1" cy="301.3" rx="4.8" ry="2.9" fill="#0306f0" opacity="0.85" transform="rotate(-41 724.1 301.3)"/><ellipse cx="856.6" cy="211.9" rx="4.0" ry="2.3" fill="#0a15d8" opacity="0.81" transform="rotate(-25 856.6 211.9)"/><ellipse cx="634.1" cy="378.9" rx="6.3" ry="5.2" fill="#0913ff" opacity="0.95" transform="rotate(-33 634.1 378.9)"/><ellipse cx="517.4" cy="354.2" rx="5.4" ry="3.1" fill="#0409fe" opacity="0.86" transform="rotate(-0 517.4 354.2)"/><ellipse cx="495.6" cy="585.1" rx="4.5" ry="2.7" fill="#0d1ae6" opacity="0.76" transform="rotate(-33 495.6 585.1)"/><ellipse cx="452.1" cy="425.6" rx="7.9" ry="5.2" fill="#0b16da" opacity="0.92" transform="rotate(-39 452.1 425.6)"/><ellipse cx="571.0" cy="362.9" rx="5.1" ry="2.7" fill="#0307d9" opacity="0.99" transform="rotate(-78 571.0 362.9)"/><ellipse cx="523.3" cy="198.7" rx="7.5" ry="4.9" fill="#050adf" opacity="0.77" transform="rotate(-59 523.3 198.7)"/><ellipse cx="445.0" cy="192.3" rx="4.3" ry="3.2" fill="#0a15f4" opacity="0.90" transform="rotate(-77 445.0 192.3)"/><ellipse cx="454.6" cy="292.4" rx="5.1" ry="3.3" fill="#0b16e4" opacity="0.77" transform="rotate(-58 454.6 292.4)"/><ellipse cx="552.9" cy="365.5" rx="5.0" ry="3.1" fill="#0c19da" opacity="0.81" transform="rotate(-109 552.9 365.5)"/><ellipse cx="519.1" cy="204.9" rx="6.5" ry="4.3" fill="#0a15f1" opacity="0.84" transform="rotate(-150 519.1 204.9)"/><ellipse cx="788.1" cy="317.3" rx="5.2" ry="4.1" fill="#060ce5" opacity="0.94" transform="rotate(-48 788.1 317.3)"/><ellipse cx="455.5" cy="337.8" rx="7.6" ry="4.4" fill="#1020ef" opacity="0.88" transform="rotate(-21 455.5 337.8)"/><ellipse cx="625.1" cy="247.9" rx="7.4" ry="5.2" fill="#0408dd" opacity="0.85" transform="rotate(-20 625.1 247.9)"/><ellipse cx="658.8" cy="212.4" rx="5.5" ry="2.7" fill="#0d1bdf" opacity="0.86" transform="rotate(24 658.8 212.4)"/><ellipse cx="503.7" cy="254.4" rx="5.6" ry="3.9" fill="#0001fa" opacity="0.90" transform="rotate(-53 503.7 254.4)"/><ellipse cx="587.2" cy="396.5" rx="3.9" ry="2.4" fill="#070fef" opacity="0.96" transform="rotate(-46 587.2 396.5)"/><ellipse cx="810.5" cy="304.3" rx="4.1" ry="2.7" fill="#0c19fa" opacity="0.75" transform="rotate(-36 810.5 304.3)"/><ellipse cx="714.4" cy="507.7" rx="5.0" ry="3.4" fill="#0810db" opacity="0.84" transform="rotate(-2 714.4 507.7)"/><ellipse cx="565.1" cy="308.8" rx="5.4" ry="3.0" fill="#1122da" opacity="0.98" transform="rotate(-18 565.1 308.8)"/><ellipse cx="554.5" cy="285.0" rx="4.3" ry="2.6" fill="#0205ed" opacity="0.78" transform="rotate(-20 554.5 285.0)"/><ellipse cx="821.6" cy="331.6" rx="5.8" ry="4.9" fill="#0a14e2" opacity="0.84" transform="rotate(-59 821.6 331.6)"/><ellipse cx="514.0" cy="301.8" rx="4.7" ry="2.4" fill="#1123ec" opacity="0.82" transform="rotate(-56 514.0 301.8)"/><ellipse cx="647.8" cy="492.0" rx="4.4" ry="2.5" fill="#0811f5" opacity="0.85" transform="rotate(-12 647.8 492.0)"/><ellipse cx="660.1" cy="520.4" rx="4.9" ry="3.3" fill="#0a15f9" opacity="0.87" transform="rotate(15 660.1 520.4)"/><ellipse cx="651.7" cy="354.0" rx="3.7" ry="3.6" fill="#0810e2" opacity="0.83" transform="rotate(8 651.7 354.0)"/><ellipse cx="595.5" cy="165.4" rx="5.3" ry="3.6" fill="#0c18da" opacity="0.79" transform="rotate(1 595.5 165.4)"/><ellipse cx="712.9" cy="375.2" rx="6.4" ry="4.5" fill="#0205fa" opacity="0.78" transform="rotate(-77 712.9 375.2)"/><ellipse cx="764.6" cy="444.3" rx="3.9" ry="3.2" fill="#060dd8" opacity="0.76" transform="rotate(-109 764.6 444.3)"/><ellipse cx="628.2" cy="215.5" rx="4.1" ry="2.9" fill="#0000eb" opacity="0.96" transform="rotate(-15 628.2 215.5)"/><ellipse cx="738.7" cy="435.9" rx="6.5" ry="4.8" fill="#0e1ced" opacity="0.88" transform="rotate(-49 738.7 435.9)"/><ellipse cx="615.6" cy="362.5" rx="5.3" ry="2.7" fill="#0e1cec" opacity="0.95" transform="rotate(-43 615.6 362.5)"/><ellipse cx="544.3" cy="546.3" rx="4.1" ry="3.3" fill="#0912e1" opacity="0.84" transform="rotate(-24 544.3 546.3)"/><ellipse cx="520.2" cy="326.6" rx="5.3" ry="4.4" fill="#0b16dd" opacity="0.75" transform="rotate(-67 520.2 326.6)"/><ellipse cx="752.3" cy="349.4" rx="5.6" ry="4.2" fill="#0f1fe7" opacity="0.88" transform="rotate(-35 752.3 349.4)"/><ellipse cx="756.6" cy="491.3" rx="3.5" ry="3.2" fill="#050af0" opacity="0.80" transform="rotate(-21 756.6 491.3)"/><ellipse cx="553.2" cy="219.6" rx="5.9" ry="5.4" fill="#070fe3" opacity="0.86" transform="rotate(-101 553.2 219.6)"/><ellipse cx="681.1" cy="285.7" rx="7.3" ry="3.5" fill="#0a14d9" opacity="0.95" transform="rotate(-83 681.1 285.7)"/><ellipse cx="517.8" cy="357.4" rx="5.3" ry="3.0" fill="#070fec" opacity="0.77" transform="rotate(-30 517.8 357.4)"/><ellipse cx="675.8" cy="316.8" rx="5.2" ry="2.5" fill="#0b17e1" opacity="0.90" transform="rotate(-76 675.8 316.8)"/><ellipse cx="543.1" cy="463.3" rx="3.3" ry="3.0" fill="#0409eb" opacity="0.89" transform="rotate(-40 543.1 463.3)"/><ellipse cx="678.6" cy="310.9" rx="4.6" ry="2.5" fill="#0e1dda" opacity="0.98" transform="rotate(-94 678.6 310.9)"/><ellipse cx="797.5" cy="556.5" rx="5.2" ry="5.2" fill="#0913f1" opacity="0.84" transform="rotate(-21 797.5 556.5)"/><ellipse cx="445.8" cy="569.8" rx="6.3" ry="3.5" fill="#0d1bdb" opacity="0.76" transform="rotate(-3 445.8 569.8)"/><ellipse cx="554.4" cy="319.0" rx="5.3" ry="3.3" fill="#0b16e5" opacity="0.99" transform="rotate(-86 554.4 319.0)"/><ellipse cx="540.6" cy="564.6" rx="4.0" ry="2.5" fill="#050ae6" opacity="0.87" transform="rotate(-82 540.6 564.6)"/><ellipse cx="524.7" cy="404.0" rx="7.0" ry="5.1" fill="#0c19e1" opacity="0.96" transform="rotate(-2 524.7 404.0)"/><ellipse cx="860.6" cy="483.9" rx="4.2" ry="2.4" fill="#0b16ee" opacity="0.81" transform="rotate(-9 860.6 483.9)"/><ellipse cx="797.2" cy="458.4" rx="7.6" ry="3.8" fill="#1021ed" opacity="0.77" transform="rotate(-82 797.2 458.4)"/><ellipse cx="858.4" cy="299.4" rx="5.0" ry="2.6" fill="#060de4" opacity="0.88" transform="rotate(-57 858.4 299.4)"/><ellipse cx="600.0" cy="411.9" rx="5.6" ry="2.4" fill="#0001fb" opacity="0.91" transform="rotate(-78 600.0 411.9)"/><ellipse cx="687.1" cy="523.3" rx="6.8" ry="5.3" fill="#0408f8" opacity="0.81" transform="rotate(-57 687.1 523.3)"/><ellipse cx="835.6" cy="502.9" rx="4.9" ry="3.3" fill="#0f1efc" opacity="0.77" transform="rotate(-15 835.6 502.9)"/><ellipse cx="788.3" cy="168.6" rx="6.6" ry="3.8" fill="#0a14f0" opacity="0.85" transform="rotate(-61 788.3 168.6)"/><ellipse cx="569.5" cy="431.8" rx="4.4" ry="2.6" fill="#0e1ce7" opacity="0.94" transform="rotate(-38 569.5 431.8)"/><ellipse cx="491.0" cy="393.0" rx="6.8" ry="4.0" fill="#0a14ff" opacity="0.97" transform="rotate(-62 491.0 393.0)"/><ellipse cx="463.1" cy="195.3" rx="3.8" ry="2.6" fill="#060cdd" opacity="0.84" transform="rotate(-65 463.1 195.3)"/><ellipse cx="667.5" cy="199.8" rx="6.5" ry="5.2" fill="#070ef1" opacity="0.78" transform="rotate(-35 667.5 199.8)"/><ellipse cx="479.6" cy="192.1" rx="3.7" ry="2.5" fill="#0204ed" opacity="0.97" transform="rotate(-67 479.6 192.1)"/><ellipse cx="653.5" cy="228.3" rx="4.9" ry="4.3" fill="#0913fe" opacity="0.96" transform="rotate(21 653.5 228.3)"/><ellipse cx="591.9" cy="192.7" rx="5.0" ry="3.7" fill="#0306e6" opacity="0.96" transform="rotate(-19 591.9 192.7)"/><ellipse cx="736.9" cy="398.6" rx="4.0" ry="2.9" fill="#050af0" opacity="0.81" transform="rotate(-71 736.9 398.6)"/><ellipse cx="816.4" cy="567.6" rx="4.4" ry="3.4" fill="#0001f1" opacity="0.90" transform="rotate(-45 816.4 567.6)"/><ellipse cx="490.5" cy="262.4" rx="3.5" ry="3.5" fill="#0a14e6" opacity="0.95" transform="rotate(46 490.5 262.4)"/><ellipse cx="787.7" cy="566.1" rx="5.0" ry="4.2" fill="#0b16dd" opacity="0.90" transform="rotate(-28 787.7 566.1)"/><ellipse cx="468.5" cy="560.5" rx="3.7" ry="2.5" fill="#0f1efe" opacity="0.91" transform="rotate(-11 468.5 560.5)"/><ellipse cx="802.9" cy="510.3" rx="4.3" ry="3.4" fill="#0b16fa" opacity="0.80" transform="rotate(-86 802.9 510.3)"/><ellipse cx="754.7" cy="298.7" rx="7.5" ry="4.2" fill="#060dfc" opacity="0.87" transform="rotate(-56 754.7 298.7)"/><ellipse cx="657.3" cy="201.4" rx="4.7" ry="3.5" fill="#1123f8" opacity="0.94" transform="rotate(-36 657.3 201.4)"/><ellipse cx="730.5" cy="245.8" rx="6.3" ry="5.3" fill="#0409e0" opacity="0.93" transform="rotate(-64 730.5 245.8)"/><ellipse cx="707.2" cy="559.3" rx="4.5" ry="2.9" fill="#0c19f1" opacity="0.94" transform="rotate(-67 707.2 559.3)"/><ellipse cx="659.0" cy="290.8" rx="6.4" ry="3.4" fill="#0306eb" opacity="0.77" transform="rotate(-56 659.0 290.8)"/><ellipse cx="850.6" cy="420.9" rx="5.0" ry="4.5" fill="#0f1ef4" opacity="0.79" transform="rotate(-91 850.6 420.9)"/><ellipse cx="488.1" cy="323.5" rx="5.0" ry="4.1" fill="#0204e9" opacity="0.78" transform="rotate(-70 488.1 323.5)"/><ellipse cx="817.9" cy="468.4" rx="5.6" ry="3.9" fill="#0d1bef" opacity="0.95" transform="rotate(-60 817.9 468.4)"/><ellipse cx="507.4" cy="165.5" rx="5.4" ry="3.3" fill="#0307ee" opacity="0.92" transform="rotate(-18 507.4 165.5)"/><ellipse cx="591.1" cy="439.2" rx="4.7" ry="2.7" fill="#0103ff" opacity="0.91" transform="rotate(-91 591.1 439.2)"/><ellipse cx="690.2" cy="370.5" rx="4.2" ry="3.2" fill="#0205d7" opacity="0.81" transform="rotate(13 690.2 370.5)"/><ellipse cx="578.2" cy="364.0" rx="4.1" ry="4.3" fill="#0e1cea" opacity="0.98" transform="rotate(-88 578.2 364.0)"/><ellipse cx="821.3" cy="221.1" rx="4.3" ry="3.0" fill="#0001e6" opacity="0.81" transform="rotate(19 821.3 221.1)"/><ellipse cx="578.7" cy="351.7" rx="4.8" ry="3.0" fill="#0f1ede" opacity="0.91" transform="rotate(-16 578.7 351.7)"/><ellipse cx="739.0" cy="324.4" rx="3.7" ry="3.5" fill="#050bdd" opacity="0.86" transform="rotate(-73 739.0 324.4)"/><ellipse cx="586.8" cy="238.0" rx="4.4" ry="2.7" fill="#1021f4" opacity="0.82" transform="rotate(-10 586.8 238.0)"/><ellipse cx="484.3" cy="191.4" rx="5.4" ry="3.0" fill="#050be3" opacity="0.79" transform="rotate(-46 484.3 191.4)"/><ellipse cx="706.6" cy="514.2" rx="4.9" ry="3.4" fill="#0a15e3" opacity="0.91" transform="rotate(32 706.6 514.2)"/><ellipse cx="578.5" cy="555.2" rx="4.2" ry="2.3" fill="#0b17da" opacity="0.86" transform="rotate(-25 578.5 555.2)"/><ellipse cx="822.9" cy="303.7" rx="6.5" ry="5.4" fill="#0a15dd" opacity="0.93" transform="rotate(-123 822.9 303.7)"/><ellipse cx="524.6" cy="453.3" rx="4.8" ry="3.6" fill="#0306ee" opacity="0.87" transform="rotate(-58 524.6 453.3)"/><ellipse cx="491.7" cy="373.4" rx="3.4" ry="2.4" fill="#0811fe" opacity="0.75" transform="rotate(-97 491.7 373.4)"/><ellipse cx="541.6" cy="319.4" rx="6.5" ry="3.7" fill="#1122ee" opacity="0.88" transform="rotate(-20 541.6 319.4)"/><ellipse cx="737.5" cy="533.1" rx="5.1" ry="2.6" fill="#0307fb" opacity="0.81" transform="rotate(-11 737.5 533.1)"/><ellipse cx="863.3" cy="209.2" rx="4.4" ry="2.6" fill="#0204f0" opacity="0.98" transform="rotate(-55 863.3 209.2)"/><ellipse cx="492.5" cy="343.4" rx="5.0" ry="2.5" fill="#0e1cf7" opacity="0.81" transform="rotate(-23 492.5 343.4)"/><ellipse cx="581.3" cy="344.2" rx="4.8" ry="3.5" fill="#050ae7" opacity="0.98" transform="rotate(-73 581.3 344.2)"/><ellipse cx="590.9" cy="257.0" rx="5.1" ry="3.1" fill="#0d1adb" opacity="0.75" transform="rotate(-46 590.9 257.0)"/><ellipse cx="615.2" cy="454.0" rx="4.8" ry="3.4" fill="#0001ed" opacity="0.80" transform="rotate(-72 615.2 454.0)"/><ellipse cx="544.2" cy="479.6" rx="5.9" ry="3.9" fill="#0001ff" opacity="0.94" transform="rotate(-46 544.2 479.6)"/><ellipse cx="652.6" cy="452.0" rx="5.0" ry="2.8" fill="#0a14f3" opacity="0.84" transform="rotate(-8 652.6 452.0)"/><ellipse cx="483.7" cy="406.8" rx="5.3" ry="4.3" fill="#0e1ce9" opacity="0.87" transform="rotate(-39 483.7 406.8)"/><ellipse cx="659.3" cy="288.4" rx="5.4" ry="3.5" fill="#0f1ee6" opacity="0.80" transform="rotate(-57 659.3 288.4)"/><ellipse cx="599.7" cy="432.7" rx="5.8" ry="3.3" fill="#0c19fc" opacity="0.92" transform="rotate(-62 599.7 432.7)"/><ellipse cx="601.4" cy="318.8" rx="5.1" ry="4.5" fill="#0409e6" opacity="0.96" transform="rotate(-67 601.4 318.8)"/><ellipse cx="589.9" cy="244.7" rx="7.6" ry="4.0" fill="#060deb" opacity="0.75" transform="rotate(-45 589.9 244.7)"/><ellipse cx="450.2" cy="353.7" rx="5.2" ry="2.9" fill="#0b16de" opacity="0.96" transform="rotate(-9 450.2 353.7)"/><ellipse cx="516.5" cy="218.0" rx="8.3" ry="4.5" fill="#0f1ff4" opacity="0.83" transform="rotate(-16 516.5 218.0)"/><ellipse cx="530.1" cy="393.7" rx="4.8" ry="3.3" fill="#0b17e3" opacity="0.95" transform="rotate(-73 530.1 393.7)"/><ellipse cx="496.1" cy="544.6" rx="5.0" ry="2.8" fill="#0e1dee" opacity="0.97" transform="rotate(-9 496.1 544.6)"/><ellipse cx="636.1" cy="197.9" rx="5.4" ry="4.3" fill="#0b16f4" opacity="0.76" transform="rotate(-77 636.1 197.9)"/><ellipse cx="550.4" cy="511.8" rx="3.4" ry="2.7" fill="#1021f3" opacity="0.87" transform="rotate(-50 550.4 511.8)"/><ellipse cx="829.8" cy="471.9" rx="5.3" ry="2.6" fill="#0c18fb" opacity="0.81" transform="rotate(-79 829.8 471.9)"/><ellipse cx="781.2" cy="331.6" rx="4.8" ry="2.9" fill="#060ce6" opacity="0.88" transform="rotate(-64 781.2 331.6)"/><ellipse cx="470.6" cy="465.8" rx="5.0" ry="4.2" fill="#0d1ade" opacity="0.91" transform="rotate(-85 470.6 465.8)"/><ellipse cx="738.1" cy="286.1" rx="5.3" ry="2.4" fill="#0c18e6" opacity="0.97" transform="rotate(-47 738.1 286.1)"/><ellipse cx="758.9" cy="219.9" rx="5.2" ry="3.2" fill="#0a15f2" opacity="0.76" transform="rotate(-39 758.9 219.9)"/><ellipse cx="574.3" cy="169.1" rx="6.2" ry="5.3" fill="#1123dd" opacity="0.84" transform="rotate(-122 574.3 169.1)"/><ellipse cx="660.2" cy="412.8" rx="4.4" ry="3.0" fill="#0205f3" opacity="0.95" transform="rotate(-76 660.2 412.8)"/><ellipse cx="443.5" cy="544.5" rx="4.2" ry="3.3" fill="#0b17ea" opacity="0.82" transform="rotate(-15 443.5 544.5)"/><ellipse cx="547.8" cy="469.2" rx="4.5" ry="3.4" fill="#0b16dc" opacity="0.95" transform="rotate(-44 547.8 469.2)"/><ellipse cx="666.0" cy="173.2" rx="7.9" ry="4.9" fill="#0c19f7" opacity="0.89" transform="rotate(20 666.0 173.2)"/><ellipse cx="491.2" cy="415.9" rx="4.6" ry="2.9" fill="#070fee" opacity="0.93" transform="rotate(-86 491.2 415.9)"/><ellipse cx="803.8" cy="539.7" rx="5.0" ry="3.4" fill="#060cef" opacity="0.94" transform="rotate(-21 803.8 539.7)"/><ellipse cx="605.3" cy="248.1" rx="5.0" ry="2.4" fill="#1021e4" opacity="0.93" transform="rotate(-17 605.3 248.1)"/><ellipse cx="522.6" cy="410.2" rx="4.3" ry="3.6" fill="#0c19f7" opacity="0.99" transform="rotate(-33 522.6 410.2)"/><ellipse cx="600.9" cy="272.3" rx="5.6" ry="3.9" fill="#1122f9" opacity="0.97" transform="rotate(-49 600.9 272.3)"/><ellipse cx="484.1" cy="577.3" rx="5.1" ry="2.7" fill="#0306e4" opacity="0.99" transform="rotate(-32 484.1 577.3)"/><ellipse cx="772.6" cy="510.5" rx="4.9" ry="2.9" fill="#070fe3" opacity="0.91" transform="rotate(-40 772.6 510.5)"/><ellipse cx="737.6" cy="227.4" rx="5.4" ry="3.5" fill="#0000e7" opacity="0.88" transform="rotate(-50 737.6 227.4)"/><ellipse cx="855.6" cy="201.5" rx="4.2" ry="3.3" fill="#0102f0" opacity="0.76" transform="rotate(-35 855.6 201.5)"/><ellipse cx="733.0" cy="500.2" rx="7.8" ry="4.6" fill="#1122fb" opacity="0.97" transform="rotate(17 733.0 500.2)"/><ellipse cx="474.1" cy="419.2" rx="4.4" ry="3.4" fill="#0811f5" opacity="0.88" transform="rotate(-69 474.1 419.2)"/><ellipse cx="474.9" cy="247.7" rx="7.0" ry="4.2" fill="#0306ff" opacity="0.76" transform="rotate(-102 474.9 247.7)"/><ellipse cx="627.3" cy="279.0" rx="4.8" ry="3.4" fill="#1020e8" opacity="0.97" transform="rotate(-63 627.3 279.0)"/><ellipse cx="597.5" cy="334.9" rx="5.4" ry="4.4" fill="#0b17fa" opacity="0.99" transform="rotate(-79 597.5 334.9)"/><ellipse cx="451.8" cy="506.8" rx="5.4" ry="2.6" fill="#1021e6" opacity="0.90" transform="rotate(-65 451.8 506.8)"/><ellipse cx="513.4" cy="507.6" rx="5.0" ry="4.0" fill="#060cf9" opacity="0.85" transform="rotate(-95 513.4 507.6)"/><ellipse cx="451.2" cy="479.3" rx="4.3" ry="2.8" fill="#060df8" opacity="0.93" transform="rotate(-30 451.2 479.3)"/><ellipse cx="491.9" cy="259.5" rx="5.2" ry="5.3" fill="#0d1bf7" opacity="0.98" transform="rotate(-147 491.9 259.5)"/><ellipse cx="533.1" cy="264.4" rx="5.4" ry="3.0" fill="#0409ea" opacity="0.86" transform="rotate(-53 533.1 264.4)"/><ellipse cx="839.6" cy="579.3" rx="6.2" ry="4.3" fill="#0913f9" opacity="0.84" transform="rotate(-25 839.6 579.3)"/><ellipse cx="458.0" cy="448.8" rx="4.2" ry="3.4" fill="#0408e0" opacity="0.84" transform="rotate(-27 458.0 448.8)"/><ellipse cx="476.3" cy="559.7" rx="4.6" ry="2.8" fill="#0811d9" opacity="0.80" transform="rotate(-35 476.3 559.7)"/><ellipse cx="857.2" cy="350.4" rx="4.6" ry="3.3" fill="#0e1df4" opacity="0.94" transform="rotate(-55 857.2 350.4)"/><ellipse cx="516.7" cy="522.4" rx="4.7" ry="2.5" fill="#1020de" opacity="0.88" transform="rotate(-71 516.7 522.4)"/><ellipse cx="632.8" cy="456.8" rx="3.8" ry="3.5" fill="#050bd9" opacity="0.81" transform="rotate(-86 632.8 456.8)"/><ellipse cx="559.5" cy="292.2" rx="3.8" ry="3.2" fill="#1020ee" opacity="0.94" transform="rotate(-38 559.5 292.2)"/><ellipse cx="836.1" cy="556.6" rx="5.0" ry="3.2" fill="#0b16e0" opacity="0.76" transform="rotate(-63 836.1 556.6)"/><ellipse cx="568.0" cy="271.7" rx="6.9" ry="3.1" fill="#0409e4" opacity="0.91" transform="rotate(-31 568.0 271.7)"/><ellipse cx="712.5" cy="293.1" rx="5.1" ry="3.6" fill="#0a15ea" opacity="0.84" transform="rotate(-6 712.5 293.1)"/><ellipse cx="757.8" cy="563.0" rx="4.8" ry="2.6" fill="#0f1fe2" opacity="0.84" transform="rotate(10 757.8 563.0)"/><ellipse cx="680.9" cy="443.2" rx="5.4" ry="4.1" fill="#0102e1" opacity="0.84" transform="rotate(-61 680.9 443.2)"/><ellipse cx="745.5" cy="480.2" rx="7.3" ry="3.8" fill="#1123f3" opacity="0.76" transform="rotate(-72 745.5 480.2)"/><ellipse cx="849.8" cy="235.9" rx="3.8" ry="2.7" fill="#0912fd" opacity="0.95" transform="rotate(2 849.8 235.9)"/><ellipse cx="594.2" cy="490.0" rx="3.7" ry="3.4" fill="#1123eb" opacity="0.96" transform="rotate(16 594.2 490.0)"/><ellipse cx="560.1" cy="178.1" rx="7.0" ry="4.0" fill="#0d1ad9" opacity="0.99" transform="rotate(6 560.1 178.1)"/><ellipse cx="511.1" cy="369.0" rx="6.5" ry="3.4" fill="#0307e5" opacity="0.88" transform="rotate(-95 511.1 369.0)"/><ellipse cx="539.2" cy="415.0" rx="5.3" ry="4.4" fill="#060cf8" opacity="0.76" transform="rotate(-1 539.2 415.0)"/><ellipse cx="695.4" cy="286.2" rx="4.4" ry="2.6" fill="#1122da" opacity="0.80" transform="rotate(-85 695.4 286.2)"/><ellipse cx="476.6" cy="556.8" rx="7.8" ry="4.8" fill="#0a14df" opacity="0.92" transform="rotate(-58 476.6 556.8)"/><ellipse cx="537.5" cy="268.8" rx="4.6" ry="3.5" fill="#0b16e0" opacity="0.89" transform="rotate(4 537.5 268.8)"/><ellipse cx="692.4" cy="201.0" rx="4.3" ry="3.2" fill="#1123e4" opacity="0.77" transform="rotate(-32 692.4 201.0)"/><ellipse cx="511.8" cy="193.6" rx="3.7" ry="2.6" fill="#0409ea" opacity="0.84" transform="rotate(79 511.8 193.6)"/><ellipse cx="680.9" cy="249.0" rx="5.5" ry="3.2" fill="#1122e6" opacity="0.98" transform="rotate(-29 680.9 249.0)"/><ellipse cx="651.7" cy="468.1" rx="5.1" ry="3.0" fill="#0d1bea" opacity="0.76" transform="rotate(-50 651.7 468.1)"/><ellipse cx="681.6" cy="183.2" rx="4.2" ry="3.2" fill="#0f1fde" opacity="0.97" transform="rotate(-44 681.6 183.2)"/><ellipse cx="628.1" cy="419.3" rx="4.8" ry="2.8" fill="#050bda" opacity="0.92" transform="rotate(-49 628.1 419.3)"/><ellipse cx="713.8" cy="200.8" rx="3.7" ry="2.6" fill="#0b17f5" opacity="0.90" transform="rotate(-43 713.8 200.8)"/><ellipse cx="780.2" cy="452.8" rx="7.8" ry="4.3" fill="#0e1cf0" opacity="0.88" transform="rotate(-16 780.2 452.8)"/><ellipse cx="703.2" cy="568.8" rx="3.5" ry="3.4" fill="#0f1ee1" opacity="0.98" transform="rotate(-73 703.2 568.8)"/><ellipse cx="596.5" cy="344.3" rx="4.2" ry="3.2" fill="#0409ef" opacity="0.75" transform="rotate(-68 596.5 344.3)"/><ellipse cx="545.2" cy="245.8" rx="5.1" ry="3.4" fill="#1021f6" opacity="0.97" transform="rotate(-104 545.2 245.8)"/><ellipse cx="546.2" cy="210.5" rx="5.8" ry="3.9" fill="#0a14e2" opacity="0.88" transform="rotate(-81 546.2 210.5)"/><ellipse cx="785.0" cy="561.7" rx="3.6" ry="2.6" fill="#0810df" opacity="1.00" transform="rotate(-44 785.0 561.7)"/><ellipse cx="744.9" cy="465.3" rx="4.5" ry="3.2" fill="#0001f2" opacity="0.79" transform="rotate(-100 744.9 465.3)"/><ellipse cx="497.3" cy="251.8" rx="4.5" ry="2.9" fill="#0204f2" opacity="0.93" transform="rotate(-73 497.3 251.8)"/><ellipse cx="808.8" cy="479.8" rx="5.3" ry="3.0" fill="#0b16fd" opacity="0.80" transform="rotate(-15 808.8 479.8)"/><ellipse cx="790.5" cy="304.2" rx="4.9" ry="2.5" fill="#0409f0" opacity="0.94" transform="rotate(-25 790.5 304.2)"/><ellipse cx="815.3" cy="552.5" rx="4.4" ry="3.5" fill="#0001ea" opacity="0.82" transform="rotate(-13 815.3 552.5)"/><ellipse cx="564.0" cy="345.7" rx="4.3" ry="2.4" fill="#0811d7" opacity="0.94" transform="rotate(-68 564.0 345.7)"/><ellipse cx="615.8" cy="174.0" rx="5.2" ry="3.1" fill="#070efb" opacity="0.81" transform="rotate(-11 615.8 174.0)"/><ellipse cx="672.4" cy="537.9" rx="4.9" ry="2.8" fill="#050be2" opacity="1.00" transform="rotate(-56 672.4 537.9)"/><ellipse cx="857.3" cy="175.7" rx="4.5" ry="2.4" fill="#0307fb" opacity="0.76" transform="rotate(7 857.3 175.7)"/><ellipse cx="457.9" cy="277.3" rx="5.4" ry="4.3" fill="#050bf3" opacity="0.96" transform="rotate(-52 457.9 277.3)"/><ellipse cx="646.1" cy="377.0" rx="4.2" ry="3.1" fill="#0811dc" opacity="0.96" transform="rotate(-72 646.1 377.0)"/><ellipse cx="813.5" cy="358.2" rx="6.9" ry="4.3" fill="#0811ee" opacity="0.90" transform="rotate(-2 813.5 358.2)"/><ellipse cx="540.7" cy="248.6" rx="4.1" ry="3.4" fill="#1020fa" opacity="0.95" transform="rotate(-63 540.7 248.6)"/><ellipse cx="570.3" cy="185.5" rx="3.5" ry="2.8" fill="#070ffd" opacity="0.82" transform="rotate(-33 570.3 185.5)"/><ellipse cx="513.6" cy="495.9" rx="5.4" ry="2.6" fill="#0912fe" opacity="0.76" transform="rotate(-98 513.6 495.9)"/><ellipse cx="726.5" cy="361.3" rx="4.2" ry="2.9" fill="#0e1dda" opacity="0.79" transform="rotate(-3 726.5 361.3)"/><ellipse cx="668.2" cy="306.8" rx="6.1" ry="5.2" fill="#050bee" opacity="0.94" transform="rotate(-67 668.2 306.8)"/><ellipse cx="829.4" cy="268.9" rx="5.8" ry="4.5" fill="#070fd7" opacity="0.75" transform="rotate(-48 829.4 268.9)"/><ellipse cx="836.0" cy="487.1" rx="7.6" ry="4.4" fill="#050ae4" opacity="0.86" transform="rotate(-12 836.0 487.1)"/><ellipse cx="625.9" cy="507.6" rx="3.3" ry="2.6" fill="#1020fb" opacity="0.78" transform="rotate(-50 625.9 507.6)"/><ellipse cx="622.5" cy="489.8" rx="4.3" ry="2.9" fill="#070fdb" opacity="0.76" transform="rotate(-71 622.5 489.8)"/><ellipse cx="853.0" cy="399.9" rx="3.6" ry="3.6" fill="#0205f5" opacity="0.90" transform="rotate(-31 853.0 399.9)"/><ellipse cx="689.5" cy="508.2" rx="4.0" ry="3.5" fill="#0307ff" opacity="0.92" transform="rotate(-42 689.5 508.2)"/><ellipse cx="498.3" cy="549.1" rx="4.9" ry="2.7" fill="#070ffd" opacity="0.99" transform="rotate(-66 498.3 549.1)"/><ellipse cx="508.2" cy="457.2" rx="4.2" ry="3.1" fill="#050bd9" opacity="0.80" transform="rotate(-9 508.2 457.2)"/><ellipse cx="544.5" cy="527.6" rx="4.6" ry="3.1" fill="#0e1cef" opacity="0.85" transform="rotate(-78 544.5 527.6)"/><ellipse cx="579.3" cy="474.2" rx="5.6" ry="2.9" fill="#0000ed" opacity="0.94" transform="rotate(-5 579.3 474.2)"/><ellipse cx="505.4" cy="493.3" rx="6.7" ry="5.1" fill="#0c18e7" opacity="0.83" transform="rotate(-12 505.4 493.3)"/><ellipse cx="825.5" cy="584.7" rx="3.4" ry="2.3" fill="#0912d8" opacity="0.96" transform="rotate(-101 825.5 584.7)"/><ellipse cx="803.5" cy="342.9" rx="4.5" ry="3.2" fill="#1122eb" opacity="0.76" transform="rotate(-82 803.5 342.9)"/><ellipse cx="631.4" cy="291.0" rx="3.5" ry="3.4" fill="#050be2" opacity="0.84" transform="rotate(-62 631.4 291.0)"/><ellipse cx="691.6" cy="307.7" rx="4.1" ry="2.9" fill="#0409ff" opacity="0.83" transform="rotate(-48 691.6 307.7)"/><ellipse cx="682.7" cy="413.3" rx="4.4" ry="3.6" fill="#0d1ae9" opacity="0.81" transform="rotate(-87 682.7 413.3)"/><ellipse cx="834.5" cy="203.7" rx="4.5" ry="4.0" fill="#0409da" opacity="0.85" transform="rotate(14 834.5 203.7)"/><ellipse cx="636.8" cy="193.7" rx="3.7" ry="3.4" fill="#0c18ed" opacity="0.86" transform="rotate(-65 636.8 193.7)"/><ellipse cx="670.7" cy="539.4" rx="5.6" ry="3.2" fill="#0409e9" opacity="0.77" transform="rotate(-57 670.7 539.4)"/><ellipse cx="582.4" cy="189.2" rx="5.2" ry="2.6" fill="#070ef0" opacity="0.83" transform="rotate(6 582.4 189.2)"/><ellipse cx="785.8" cy="515.0" rx="4.1" ry="2.5" fill="#0f1fef" opacity="0.88" transform="rotate(-105 785.8 515.0)"/><ellipse cx="836.9" cy="332.1" rx="4.4" ry="3.3" fill="#0912da" opacity="0.76" transform="rotate(-38 836.9 332.1)"/><ellipse cx="829.2" cy="293.2" rx="4.5" ry="2.4" fill="#0000e6" opacity="0.94" transform="rotate(-52 829.2 293.2)"/><ellipse cx="671.1" cy="217.5" rx="6.4" ry="3.7" fill="#0810da" opacity="0.75" transform="rotate(58 671.1 217.5)"/><ellipse cx="733.1" cy="452.5" rx="4.2" ry="3.2" fill="#0e1cf1" opacity="0.83" transform="rotate(-85 733.1 452.5)"/><ellipse cx="537.3" cy="442.2" rx="4.5" ry="2.9" fill="#070ef8" opacity="0.95" transform="rotate(-18 537.3 442.2)"/><ellipse cx="667.1" cy="254.6" rx="4.4" ry="3.3" fill="#070ef8" opacity="0.87" transform="rotate(-82 667.1 254.6)"/><ellipse cx="504.6" cy="521.4" rx="5.4" ry="2.5" fill="#0001e0" opacity="0.94" transform="rotate(-64 504.6 521.4)"/><ellipse cx="830.9" cy="274.1" rx="4.0" ry="2.7" fill="#060cda" opacity="0.85" transform="rotate(-71 830.9 274.1)"/><ellipse cx="574.4" cy="210.3" rx="5.5" ry="3.0" fill="#0c19ef" opacity="0.97" transform="rotate(-15 574.4 210.3)"/><ellipse cx="715.5" cy="264.6" rx="6.8" ry="3.9" fill="#0913d9" opacity="0.90" transform="rotate(-93 715.5 264.6)"/><ellipse cx="557.9" cy="230.1" rx="5.3" ry="2.7" fill="#070eec" opacity="0.80" transform="rotate(5 557.9 230.1)"/><ellipse cx="770.4" cy="195.1" rx="4.0" ry="2.9" fill="#0102ee" opacity="0.97" transform="rotate(-33 770.4 195.1)"/><ellipse cx="449.6" cy="541.5" rx="5.3" ry="4.0" fill="#1123fd" opacity="0.96" transform="rotate(-58 449.6 541.5)"/><ellipse cx="806.3" cy="417.7" rx="7.1" ry="4.6" fill="#0c18ea" opacity="0.94" transform="rotate(-57 806.3 417.7)"/><ellipse cx="533.7" cy="409.4" rx="4.7" ry="2.8" fill="#070ee6" opacity="0.90" transform="rotate(-92 533.7 409.4)"/><ellipse cx="838.2" cy="318.1" rx="3.8" ry="2.8" fill="#070ff4" opacity="0.83" transform="rotate(-8 838.2 318.1)"/><ellipse cx="605.6" cy="566.1" rx="4.6" ry="2.3" fill="#050bfb" opacity="0.89" transform="rotate(-18 605.6 566.1)"/></g></g><rect x="807" y="533.2" width="38.4" height="3.6" fill="#fff"/>
<clipPath id="cpR"><rect x="873.5" y="161.5" width="426.5" height="425.8"/></clipPath><rect x="873.5" y="161.5" width="426.5" height="425.8" fill="#000"/><g clip-path="url(#cpR)"><g filter="url(#fxR)"><rect x="873.5" y="161.5" width="426.5" height="425.8" fill="#480000"/><path d="M873,211C879,179 890,224 905,222C919,220 940,205 959,200C979,195 1006,190 1022,193C1037,196 1050,206 1051,218C1051,230 1037,250 1025,266C1013,281 995,294 978,310C961,325 940,344 923,361C905,378 882,437 873,412C865,387 868,243 873,211Z" fill="#b80000"/><path d="M897,247C915,226 975,204 996,204C1017,204 1028,230 1022,247C1015,265 981,295 959,310C937,324 900,342 890,331C880,321 880,269 897,247Z" fill="#f00000" opacity="0.7"/><path d="M1168,185C1180,169 1211,169 1233,167C1256,165 1289,141 1300,171C1311,200 1308,314 1300,346C1292,378 1269,363 1252,361C1235,358 1212,347 1197,331C1182,316 1165,290 1160,266C1156,241 1156,202 1168,185Z" fill="#d00000"/><path d="M1182,193C1191,176 1252,166 1270,178C1288,190 1297,249 1288,266C1279,282 1233,289 1215,277C1198,264 1173,209 1182,193Z" fill="#ff0000" opacity="0.6"/><path d="M1022,313C1035,297 1063,295 1087,295C1112,294 1152,299 1168,310C1184,320 1190,342 1182,361C1175,379 1145,406 1124,419C1103,433 1078,445 1058,441C1039,437 1013,415 1007,394C1001,372 1008,330 1022,313Z" fill="#980000"/><path d="M1051,193C1064,183 1106,199 1124,211C1142,223 1166,252 1160,266C1154,280 1107,295 1087,295C1068,295 1050,283 1043,266C1037,249 1037,202 1051,193Z" fill="#7c0000"/><path d="M873,448C885,433 919,421 941,412C963,403 987,389 1007,394C1026,398 1063,423 1058,441C1053,459 1003,490 978,503C952,517 922,521 905,521C887,521 879,515 873,503C868,491 862,464 873,448Z" fill="#780000"/><path d="M873,521C891,507 948,506 978,503C1007,501 1014,510 1051,507C1087,504 1155,483 1197,485C1238,487 1283,504 1300,521C1317,539 1371,577 1300,588C1229,599 945,599 873,588C802,577 856,536 873,521Z" fill="#400000"/><path d="M1179,412C1208,396 1280,357 1300,375C1320,394 1317,503 1300,521C1283,540 1226,493 1197,485C1168,476 1127,483 1124,470C1121,458 1149,428 1179,412Z" fill="#5c0000"/><path d="M1058,216C1065,215 1084,219 1073,238C1061,257 1017,300 989,331C961,363 924,408 905,428C885,448 879,454 873,452C868,450 859,439 873,417C888,395 933,349 959,320C986,292 1014,263 1031,246C1047,228 1051,218 1058,216Z" fill="#000" opacity="0.95"/><path d="M1171,331C1184,330 1212,350 1199,375C1186,401 1130,451 1095,485C1060,518 1011,559 989,576C966,594 972,586 959,588C947,590 904,606 916,588C927,570 994,512 1029,478C1064,443 1100,407 1124,383C1148,358 1159,333 1171,331Z" fill="#000" opacity="0.93"/><path d="M1171,331C1177,319 1212,324 1233,322C1255,320 1289,309 1300,320C1311,332 1317,377 1300,390C1283,403 1218,407 1197,397C1176,387 1165,344 1171,331Z" fill="#000" opacity="0.4"/><path d="M1117,161C1124,156 1173,157 1182,161C1192,166 1182,183 1175,189C1168,195 1148,201 1138,196C1129,192 1109,167 1117,161Z" fill="#000" opacity="0.9"/><path d="M873,161C885,153 937,156 941,161C945,167 909,184 897,193C886,201 877,220 873,214C870,209 862,170 873,161Z" fill="#000" opacity="0.85"/><path d="M1179,588C1168,580 1213,555 1233,540C1254,524 1289,488 1300,496C1311,504 1320,573 1300,588C1280,603 1190,596 1179,588Z" fill="#000" opacity="0.92"/><path d="M1300,412C1314,406 1311,423 1300,434C1289,445 1247,472 1233,478C1220,483 1208,478 1219,467C1230,456 1286,417 1300,412Z" fill="#000" opacity="0.5"/></g><g filter="url(#fxB2)"><ellipse cx="1189.6" cy="203.5" rx="12.1" ry="8.8" fill="#ff1414" opacity="0.6"/><ellipse cx="1196.9" cy="243.7" rx="14.1" ry="10.2" fill="#ff1414" opacity="0.6"/><ellipse cx="1262.7" cy="181.6" rx="12.1" ry="8.8" fill="#ff1414" opacity="0.6"/><ellipse cx="1266.4" cy="225.4" rx="12.1" ry="8.8" fill="#ff1414" opacity="0.6"/><ellipse cx="988.6" cy="203.5" rx="10.1" ry="7.3" fill="#ff1414" opacity="0.6"/><ellipse cx="919.2" cy="276.6" rx="12.1" ry="8.8" fill="#ff1414" opacity="0.6"/><ellipse cx="952.1" cy="291.2" rx="10.1" ry="7.3" fill="#ff1414" opacity="0.6"/><ellipse cx="900.9" cy="302.2" rx="10.1" ry="7.3" fill="#ff1414" opacity="0.6"/><ellipse cx="1105.6" cy="336.9" rx="8.0" ry="5.8" fill="#ff1414" opacity="0.6"/><ellipse cx="1076.3" cy="419.2" rx="8.0" ry="5.8" fill="#ff1414" opacity="0.6"/><ellipse cx="1120.2" cy="408.2" rx="5.6" ry="4.1" fill="#ff1414" opacity="0.6"/><ellipse cx="1218.9" cy="316.8" rx="7.2" ry="5.3" fill="#ff1414" opacity="0.6"/><ellipse cx="1233.5" cy="221.8" rx="10.1" ry="7.3" fill="#ff1414" opacity="0.6"/><ellipse cx="1218.9" cy="265.6" rx="8.8" ry="6.4" fill="#ff1414" opacity="0.6"/></g></g>
<clipPath id="cpG"><rect x="1308" y="162.2" width="424" height="424.4"/></clipPath><rect x="1308" y="162.2" width="424" height="424.4" fill="#000"/><g clip-path="url(#cpG)"><g filter="url(#fxG)"><rect x="1308" y="162.2" width="424" height="424.4" fill="#000e00"/><path d="M1308,251C1314,220 1327,241 1344,233C1361,224 1391,205 1410,200C1428,195 1442,201 1454,204C1465,206 1476,210 1477,216C1478,223 1470,231 1461,244C1451,256 1435,274 1421,291C1406,308 1387,330 1373,346C1359,363 1347,378 1337,390C1326,402 1313,442 1308,419C1303,396 1302,282 1308,251Z" fill="#0e780e"/><path d="M1497,266C1514,260 1540,267 1556,277C1572,286 1588,305 1592,320C1597,336 1594,353 1585,368C1577,383 1555,401 1541,412C1528,423 1521,428 1505,434C1489,440 1463,452 1446,448C1429,445 1407,426 1402,412C1398,397 1411,377 1421,361C1430,344 1444,329 1457,313C1470,297 1481,272 1497,266Z" fill="#073a07"/><path d="M1611,200C1619,188 1645,188 1665,193C1686,197 1720,205 1731,229C1742,253 1742,317 1731,339C1720,361 1683,364 1665,361C1648,358 1637,336 1629,320C1620,305 1617,286 1614,266C1611,246 1602,212 1611,200Z" fill="#052c05"/><path d="M1490,236C1494,225 1541,222 1556,229C1570,236 1581,266 1578,277C1574,288 1549,302 1534,295C1519,288 1486,247 1490,236Z" fill="#052805"/><path d="M1315,448C1321,439 1362,430 1373,434C1384,437 1387,461 1380,470C1374,480 1348,496 1337,492C1326,489 1309,458 1315,448Z" fill="#094809"/><path d="M1311,540C1318,534 1355,538 1366,543C1376,549 1380,567 1373,573C1366,578 1332,582 1322,576C1312,571 1304,545 1311,540Z" fill="#0a500a"/><path d="M1592,448C1598,439 1642,431 1665,430C1689,429 1720,432 1731,441C1742,450 1748,478 1731,485C1714,492 1652,491 1629,485C1606,479 1586,458 1592,448Z" fill="#042004"/><path d="M1475,485C1494,477 1574,491 1592,503C1611,515 1603,550 1585,558C1567,566 1501,563 1483,551C1464,539 1457,493 1475,485Z" fill="#031803"/><path d="M1490,216C1497,215 1516,219 1505,238C1493,257 1449,300 1421,331C1393,363 1356,408 1337,428C1317,448 1311,454 1305,452C1300,450 1291,439 1305,417C1320,395 1365,349 1391,320C1418,292 1446,263 1463,246C1479,228 1483,218 1490,216Z" fill="#000" opacity="0.93"/><path d="M1603,331C1616,330 1644,350 1631,375C1618,401 1562,451 1527,485C1492,518 1443,559 1421,576C1398,594 1404,586 1391,588C1379,590 1336,606 1348,588C1359,570 1426,512 1461,478C1496,443 1532,407 1556,383C1580,358 1591,333 1603,331Z" fill="#000" opacity="0.85"/></g><g filter="url(#fxB2)"><ellipse cx="1387.7" cy="254.7" rx="11.8" ry="8.7" fill="#2ee02e" opacity="0.55"/><ellipse cx="1396.9" cy="278.4" rx="15.1" ry="11.2" fill="#2ee02e" opacity="0.55"/><ellipse cx="1438.9" cy="209.0" rx="10.5" ry="7.8" fill="#2ee02e" opacity="0.55"/><ellipse cx="1409.6" cy="232.8" rx="8.4" ry="6.2" fill="#2ee02e" opacity="0.55"/><ellipse cx="1384.1" cy="292.0" rx="8.4" ry="6.2" fill="#2ee02e" opacity="0.55"/><ellipse cx="1329.2" cy="302.2" rx="10.5" ry="7.8" fill="#2ee02e" opacity="0.55"/><ellipse cx="1327.4" cy="556.2" rx="11.8" ry="8.7" fill="#2ee02e" opacity="0.55"/><ellipse cx="1506.5" cy="422.8" rx="10.5" ry="7.8" fill="#2ee02e" opacity="0.55"/><ellipse cx="1561.3" cy="309.5" rx="8.4" ry="6.2" fill="#2ee02e" opacity="0.55"/><ellipse cx="1541.2" cy="406.4" rx="8.4" ry="6.2" fill="#2ee02e" opacity="0.55"/><ellipse cx="1437.1" cy="413.7" rx="7.6" ry="5.6" fill="#2ee02e" opacity="0.55"/><ellipse cx="1665.5" cy="221.8" rx="10.5" ry="7.8" fill="#2ee02e" opacity="0.55"/><ellipse cx="1621.6" cy="210.8" rx="8.4" ry="6.2" fill="#2ee02e" opacity="0.55"/><ellipse cx="1643.6" cy="349.7" rx="9.2" ry="6.8" fill="#2ee02e" opacity="0.55"/><ellipse cx="1683.8" cy="313.2" rx="7.6" ry="5.6" fill="#2ee02e" opacity="0.55"/><ellipse cx="1533.9" cy="262.0" rx="8.4" ry="6.2" fill="#2ee02e" opacity="0.55"/><ellipse cx="1526.6" cy="320.5" rx="8.4" ry="6.2" fill="#2ee02e" opacity="0.55"/><ellipse cx="1539.4" cy="338.7" rx="6.3" ry="4.7" fill="#2ee02e" opacity="0.55"/><ellipse cx="1552.2" cy="358.9" rx="7.6" ry="5.6" fill="#2ee02e" opacity="0.55"/><ellipse cx="1537.6" cy="384.4" rx="6.3" ry="4.7" fill="#2ee02e" opacity="0.55"/><ellipse cx="1347.5" cy="283.9" rx="6.7" ry="5.0" fill="#2ee02e" opacity="0.55"/><ellipse cx="1314.6" cy="346.1" rx="7.6" ry="5.6" fill="#2ee02e" opacity="0.55"/><ellipse cx="1321.9" cy="382.6" rx="6.7" ry="5.0" fill="#2ee02e" opacity="0.55"/><ellipse cx="1713.0" cy="280.3" rx="5.9" ry="4.3" fill="#2ee02e" opacity="0.55"/></g></g>
<clipPath id="cpO"><rect x="1739.3" y="161.5" width="426.9" height="426.9"/></clipPath><rect x="1739.3" y="161.5" width="426.9" height="426.9" fill="#000"/><g clip-path="url(#cpO)" style="isolation:isolate"><g opacity="0.82"><g filter="url(#fxO)"><rect x="1739.3" y="161.5" width="426.9" height="426.9" fill="#500000"/><path d="M1737,211C1743,179 1754,224 1769,222C1783,220 1804,205 1823,200C1843,195 1870,190 1886,193C1901,196 1914,206 1915,218C1915,230 1901,250 1889,266C1877,281 1859,294 1842,310C1825,325 1804,344 1787,361C1769,378 1746,437 1737,412C1729,387 1732,243 1737,211Z" fill="#b80000"/><path d="M1761,247C1779,226 1839,204 1860,204C1881,204 1892,230 1886,247C1879,265 1845,295 1823,310C1801,324 1764,342 1754,331C1744,321 1744,269 1761,247Z" fill="#f00000" opacity="0.7"/><path d="M2032,185C2044,169 2075,169 2097,167C2120,165 2153,141 2164,171C2175,200 2172,314 2164,346C2156,378 2133,363 2116,361C2099,358 2076,347 2061,331C2046,316 2029,290 2024,266C2020,241 2020,202 2032,185Z" fill="#d00000"/><path d="M2046,193C2055,176 2116,166 2134,178C2152,190 2161,249 2152,266C2143,282 2097,289 2079,277C2062,264 2037,209 2046,193Z" fill="#ff0000" opacity="0.6"/><path d="M1886,313C1899,297 1927,295 1951,295C1976,294 2016,299 2032,310C2048,320 2054,342 2046,361C2039,379 2009,406 1988,419C1967,433 1942,445 1922,441C1903,437 1877,415 1871,394C1865,372 1872,330 1886,313Z" fill="#980000"/><path d="M1915,193C1928,183 1970,199 1988,211C2006,223 2030,252 2024,266C2018,280 1971,295 1951,295C1932,295 1914,283 1907,266C1901,249 1901,202 1915,193Z" fill="#7c0000"/><path d="M1737,448C1749,433 1783,421 1805,412C1827,403 1851,389 1871,394C1890,398 1927,423 1922,441C1917,459 1867,490 1842,503C1816,517 1786,521 1769,521C1751,521 1743,515 1737,503C1732,491 1726,464 1737,448Z" fill="#780000"/><path d="M1737,521C1755,507 1812,506 1842,503C1871,501 1878,510 1915,507C1951,504 2019,483 2061,485C2102,487 2147,504 2164,521C2181,539 2235,577 2164,588C2093,599 1809,599 1737,588C1666,577 1720,536 1737,521Z" fill="#400000"/><path d="M2043,412C2072,396 2144,357 2164,375C2184,394 2181,503 2164,521C2147,540 2090,493 2061,485C2032,476 1991,483 1988,470C1985,458 2013,428 2043,412Z" fill="#5c0000"/><path d="M1922,216C1929,215 1948,219 1937,238C1925,257 1881,300 1853,331C1825,363 1788,408 1769,428C1749,448 1743,454 1737,452C1732,450 1723,439 1737,417C1752,395 1797,349 1823,320C1850,292 1878,263 1895,246C1911,228 1915,218 1922,216Z" fill="#000" opacity="0.95"/><path d="M2035,331C2048,330 2076,350 2063,375C2050,401 1994,451 1959,485C1924,518 1875,559 1853,576C1830,594 1836,586 1823,588C1811,590 1768,606 1780,588C1791,570 1858,512 1893,478C1928,443 1964,407 1988,383C2012,358 2023,333 2035,331Z" fill="#000" opacity="0.93"/><path d="M2035,331C2041,319 2076,324 2097,322C2119,320 2153,309 2164,320C2175,332 2181,377 2164,390C2147,403 2082,407 2061,397C2040,387 2029,344 2035,331Z" fill="#000" opacity="0.4"/><path d="M1981,161C1988,156 2037,157 2046,161C2056,166 2046,183 2039,189C2032,195 2012,201 2002,196C1993,192 1973,167 1981,161Z" fill="#000" opacity="0.9"/><path d="M1737,161C1749,153 1801,156 1805,161C1809,167 1773,184 1761,193C1750,201 1741,220 1737,214C1734,209 1726,170 1737,161Z" fill="#000" opacity="0.85"/><path d="M2043,588C2032,580 2077,555 2097,540C2118,524 2153,488 2164,496C2175,504 2184,573 2164,588C2144,603 2054,596 2043,588Z" fill="#000" opacity="0.92"/><path d="M2164,412C2178,406 2175,423 2164,434C2153,445 2111,472 2097,478C2084,483 2072,478 2083,467C2094,456 2150,417 2164,412Z" fill="#000" opacity="0.5"/></g></g><g style="mix-blend-mode:screen" opacity="0.8"><g filter="url(#fxG)"><rect x="1739.3" y="161.5" width="426.9" height="426.9" fill="#000400"/><path d="M1740,251C1746,220 1759,241 1776,233C1793,224 1823,205 1842,200C1860,195 1874,201 1886,204C1897,206 1908,210 1909,216C1910,223 1902,231 1893,244C1883,256 1867,274 1853,291C1838,308 1819,330 1805,346C1791,363 1779,378 1769,390C1758,402 1745,442 1740,419C1735,396 1734,282 1740,251Z" fill="#0e780e"/><path d="M1929,266C1946,260 1972,267 1988,277C2004,286 2020,305 2024,320C2029,336 2026,353 2017,368C2009,383 1987,401 1973,412C1960,423 1953,428 1937,434C1921,440 1895,452 1878,448C1861,445 1839,426 1834,412C1830,397 1843,377 1853,361C1862,344 1876,329 1889,313C1902,297 1913,272 1929,266Z" fill="#073a07"/><path d="M2043,200C2051,188 2077,188 2097,193C2118,197 2152,205 2163,229C2174,253 2174,317 2163,339C2152,361 2115,364 2097,361C2080,358 2069,336 2061,320C2052,305 2049,286 2046,266C2043,246 2034,212 2043,200Z" fill="#052c05"/><path d="M1922,236C1926,225 1973,222 1988,229C2002,236 2013,266 2010,277C2006,288 1981,302 1966,295C1951,288 1918,247 1922,236Z" fill="#052805"/><path d="M1747,448C1753,439 1794,430 1805,434C1816,437 1819,461 1812,470C1806,480 1780,496 1769,492C1758,489 1741,458 1747,448Z" fill="#094809"/><path d="M1743,540C1750,534 1787,538 1798,543C1808,549 1812,567 1805,573C1798,578 1764,582 1754,576C1744,571 1736,545 1743,540Z" fill="#0a500a"/><path d="M2024,448C2030,439 2074,431 2097,430C2121,429 2152,432 2163,441C2174,450 2180,478 2163,485C2146,492 2084,491 2061,485C2038,479 2018,458 2024,448Z" fill="#042004"/><path d="M1907,485C1926,477 2006,491 2024,503C2043,515 2035,550 2017,558C1999,566 1933,563 1915,551C1896,539 1889,493 1907,485Z" fill="#031803"/><path d="M1922,216C1929,215 1948,219 1937,238C1925,257 1881,300 1853,331C1825,363 1788,408 1769,428C1749,448 1743,454 1737,452C1732,450 1723,439 1737,417C1752,395 1797,349 1823,320C1850,292 1878,263 1895,246C1911,228 1915,218 1922,216Z" fill="#000" opacity="0.93"/><path d="M2035,331C2048,330 2076,350 2063,375C2050,401 1994,451 1959,485C1924,518 1875,559 1853,576C1830,594 1836,586 1823,588C1811,590 1768,606 1780,588C1791,570 1858,512 1893,478C1928,443 1964,407 1988,383C2012,358 2023,333 2035,331Z" fill="#000" opacity="0.85"/></g><g filter="url(#fxB2)"><ellipse cx="1819.7" cy="254.7" rx="11.8" ry="8.7" fill="#2ee02e" opacity="0.55"/><ellipse cx="1828.9" cy="278.4" rx="15.1" ry="11.2" fill="#2ee02e" opacity="0.55"/><ellipse cx="1870.9" cy="209.0" rx="10.5" ry="7.8" fill="#2ee02e" opacity="0.55"/><ellipse cx="1841.6" cy="232.8" rx="8.4" ry="6.2" fill="#2ee02e" opacity="0.55"/><ellipse cx="1816.1" cy="292.0" rx="8.4" ry="6.2" fill="#2ee02e" opacity="0.55"/><ellipse cx="1761.2" cy="302.2" rx="10.5" ry="7.8" fill="#2ee02e" opacity="0.55"/><ellipse cx="1759.4" cy="556.2" rx="11.8" ry="8.7" fill="#2ee02e" opacity="0.55"/><ellipse cx="1938.5" cy="422.8" rx="10.5" ry="7.8" fill="#2ee02e" opacity="0.55"/><ellipse cx="1993.3" cy="309.5" rx="8.4" ry="6.2" fill="#2ee02e" opacity="0.55"/><ellipse cx="1973.2" cy="406.4" rx="8.4" ry="6.2" fill="#2ee02e" opacity="0.55"/><ellipse cx="1869.1" cy="413.7" rx="7.6" ry="5.6" fill="#2ee02e" opacity="0.55"/><ellipse cx="2097.5" cy="221.8" rx="10.5" ry="7.8" fill="#2ee02e" opacity="0.55"/><ellipse cx="2053.6" cy="210.8" rx="8.4" ry="6.2" fill="#2ee02e" opacity="0.55"/><ellipse cx="2075.6" cy="349.7" rx="9.2" ry="6.8" fill="#2ee02e" opacity="0.55"/><ellipse cx="2115.8" cy="313.2" rx="7.6" ry="5.6" fill="#2ee02e" opacity="0.55"/><ellipse cx="1965.9" cy="262.0" rx="8.4" ry="6.2" fill="#2ee02e" opacity="0.55"/><ellipse cx="1958.6" cy="320.5" rx="8.4" ry="6.2" fill="#2ee02e" opacity="0.55"/><ellipse cx="1971.4" cy="338.7" rx="6.3" ry="4.7" fill="#2ee02e" opacity="0.55"/><ellipse cx="1984.2" cy="358.9" rx="7.6" ry="5.6" fill="#2ee02e" opacity="0.55"/><ellipse cx="1969.6" cy="384.4" rx="6.3" ry="4.7" fill="#2ee02e" opacity="0.55"/><ellipse cx="1779.5" cy="283.9" rx="6.7" ry="5.0" fill="#2ee02e" opacity="0.55"/><ellipse cx="1746.6" cy="346.1" rx="7.6" ry="5.6" fill="#2ee02e" opacity="0.55"/><ellipse cx="1753.9" cy="382.6" rx="6.7" ry="5.0" fill="#2ee02e" opacity="0.55"/><ellipse cx="2145.0" cy="280.3" rx="5.9" ry="4.3" fill="#2ee02e" opacity="0.55"/></g></g><g style="mix-blend-mode:screen"><g filter="url(#fxB2)"><ellipse cx="1962.0" cy="504.6" rx="5.4" ry="3.0" fill="#0000b3" opacity="0.68" transform="rotate(138 1962.0 504.6)"/><ellipse cx="1787.9" cy="174.9" rx="4.0" ry="3.8" fill="#0000ae" opacity="0.75" transform="rotate(45 1787.9 174.9)"/><ellipse cx="2012.2" cy="452.9" rx="4.8" ry="2.7" fill="#00007f" opacity="0.76" transform="rotate(99 2012.2 452.9)"/><ellipse cx="2111.5" cy="227.3" rx="4.8" ry="3.5" fill="#000088" opacity="0.52" transform="rotate(172 2111.5 227.3)"/><ellipse cx="1793.5" cy="466.1" rx="3.2" ry="3.2" fill="#0000aa" opacity="0.67" transform="rotate(91 1793.5 466.1)"/><ellipse cx="1995.0" cy="452.2" rx="4.0" ry="3.4" fill="#0000a5" opacity="0.54" transform="rotate(61 1995.0 452.2)"/><ellipse cx="1763.2" cy="481.5" rx="3.9" ry="4.1" fill="#00006e" opacity="0.78" transform="rotate(67 1763.2 481.5)"/><ellipse cx="1842.4" cy="399.0" rx="5.4" ry="3.4" fill="#000090" opacity="0.38" transform="rotate(65 1842.4 399.0)"/><ellipse cx="1857.8" cy="479.6" rx="5.1" ry="3.4" fill="#00008e" opacity="0.68" transform="rotate(162 1857.8 479.6)"/><ellipse cx="2128.9" cy="298.4" rx="3.8" ry="4.0" fill="#000090" opacity="0.52" transform="rotate(104 2128.9 298.4)"/><ellipse cx="1762.7" cy="582.4" rx="3.0" ry="3.8" fill="#000074" opacity="0.71" transform="rotate(85 1762.7 582.4)"/><ellipse cx="1872.3" cy="195.2" rx="5.5" ry="4.0" fill="#0000b6" opacity="0.61" transform="rotate(4 1872.3 195.2)"/><ellipse cx="1799.8" cy="368.6" rx="5.4" ry="4.2" fill="#000085" opacity="0.45" transform="rotate(147 1799.8 368.6)"/><ellipse cx="1847.6" cy="227.3" rx="3.3" ry="2.9" fill="#0000b2" opacity="0.50" transform="rotate(152 1847.6 227.3)"/><ellipse cx="2117.6" cy="296.9" rx="3.8" ry="2.8" fill="#000095" opacity="0.77" transform="rotate(75 2117.6 296.9)"/><ellipse cx="2019.3" cy="334.2" rx="3.2" ry="2.6" fill="#00008c" opacity="0.46" transform="rotate(115 2019.3 334.2)"/><ellipse cx="2146.4" cy="407.1" rx="5.0" ry="2.6" fill="#0000b9" opacity="0.55" transform="rotate(160 2146.4 407.1)"/><ellipse cx="1947.0" cy="397.8" rx="4.3" ry="3.3" fill="#000089" opacity="0.46" transform="rotate(174 1947.0 397.8)"/><ellipse cx="1875.9" cy="243.3" rx="3.9" ry="2.5" fill="#0000b6" opacity="0.61" transform="rotate(134 1875.9 243.3)"/><ellipse cx="1764.0" cy="515.5" rx="5.4" ry="2.8" fill="#00008b" opacity="0.66" transform="rotate(174 1764.0 515.5)"/><ellipse cx="1896.9" cy="585.6" rx="4.9" ry="3.0" fill="#0000b9" opacity="0.40" transform="rotate(64 1896.9 585.6)"/><ellipse cx="1785.9" cy="167.9" rx="5.4" ry="4.0" fill="#000084" opacity="0.57" transform="rotate(100 1785.9 167.9)"/><ellipse cx="1929.7" cy="376.8" rx="4.3" ry="3.3" fill="#00008f" opacity="0.44" transform="rotate(2 1929.7 376.8)"/><ellipse cx="1744.8" cy="544.7" rx="3.8" ry="3.1" fill="#00007a" opacity="0.61" transform="rotate(9 1744.8 544.7)"/><ellipse cx="2037.0" cy="175.2" rx="4.2" ry="4.0" fill="#00007a" opacity="0.74" transform="rotate(110 2037.0 175.2)"/><ellipse cx="2088.1" cy="580.2" rx="4.1" ry="3.9" fill="#000071" opacity="0.78" transform="rotate(166 2088.1 580.2)"/><ellipse cx="2077.1" cy="344.5" rx="3.1" ry="3.4" fill="#0000b2" opacity="0.48" transform="rotate(34 2077.1 344.5)"/><ellipse cx="1892.2" cy="561.1" rx="4.5" ry="4.2" fill="#00006e" opacity="0.61" transform="rotate(75 1892.2 561.1)"/><ellipse cx="2161.9" cy="197.7" rx="4.9" ry="3.8" fill="#000092" opacity="0.51" transform="rotate(113 2161.9 197.7)"/><ellipse cx="1791.0" cy="217.3" rx="5.1" ry="4.1" fill="#0000a6" opacity="0.41" transform="rotate(148 1791.0 217.3)"/><ellipse cx="1847.0" cy="451.5" rx="3.8" ry="2.8" fill="#000089" opacity="0.60" transform="rotate(66 1847.0 451.5)"/><ellipse cx="2153.6" cy="405.4" rx="5.0" ry="2.6" fill="#00009f" opacity="0.74" transform="rotate(79 2153.6 405.4)"/><ellipse cx="1996.9" cy="544.1" rx="4.7" ry="2.7" fill="#000096" opacity="0.60" transform="rotate(106 1996.9 544.1)"/><ellipse cx="2110.6" cy="282.6" rx="5.3" ry="2.6" fill="#000081" opacity="0.74" transform="rotate(43 2110.6 282.6)"/><ellipse cx="1921.9" cy="299.5" rx="4.9" ry="3.8" fill="#000092" opacity="0.82" transform="rotate(144 1921.9 299.5)"/><ellipse cx="1950.9" cy="376.0" rx="3.9" ry="3.6" fill="#000077" opacity="0.57" transform="rotate(60 1950.9 376.0)"/><ellipse cx="2117.5" cy="323.4" rx="3.4" ry="4.1" fill="#000099" opacity="0.80" transform="rotate(13 2117.5 323.4)"/><ellipse cx="1936.9" cy="226.3" rx="3.4" ry="3.0" fill="#000097" opacity="0.81" transform="rotate(69 1936.9 226.3)"/><ellipse cx="1958.7" cy="224.2" rx="3.3" ry="3.9" fill="#0000be" opacity="0.74" transform="rotate(160 1958.7 224.2)"/><ellipse cx="2076.9" cy="263.8" rx="3.5" ry="4.0" fill="#0000a5" opacity="0.54" transform="rotate(151 2076.9 263.8)"/><ellipse cx="2140.9" cy="293.6" rx="5.4" ry="3.6" fill="#00006f" opacity="0.37" transform="rotate(159 2140.9 293.6)"/><ellipse cx="1981.9" cy="188.9" rx="4.7" ry="3.3" fill="#00008f" opacity="0.69" transform="rotate(76 1981.9 188.9)"/><ellipse cx="1931.3" cy="490.0" rx="3.4" ry="3.2" fill="#00009c" opacity="0.72" transform="rotate(34 1931.3 490.0)"/><ellipse cx="2040.4" cy="246.4" rx="4.9" ry="3.9" fill="#000087" opacity="0.53" transform="rotate(13 2040.4 246.4)"/><ellipse cx="1953.0" cy="216.4" rx="4.5" ry="3.8" fill="#000079" opacity="0.42" transform="rotate(147 1953.0 216.4)"/><ellipse cx="2112.8" cy="488.3" rx="3.6" ry="3.2" fill="#00008c" opacity="0.51" transform="rotate(87 2112.8 488.3)"/><ellipse cx="1904.5" cy="254.1" rx="3.4" ry="2.5" fill="#0000ab" opacity="0.40" transform="rotate(18 1904.5 254.1)"/><ellipse cx="2161.2" cy="373.6" rx="3.7" ry="2.7" fill="#000080" opacity="0.37" transform="rotate(28 2161.2 373.6)"/><ellipse cx="1793.9" cy="350.0" rx="3.2" ry="3.0" fill="#00008f" opacity="0.62" transform="rotate(110 1793.9 350.0)"/><ellipse cx="2015.0" cy="382.3" rx="5.0" ry="2.6" fill="#0000b2" opacity="0.49" transform="rotate(117 2015.0 382.3)"/><ellipse cx="2000.0" cy="193.8" rx="3.1" ry="3.0" fill="#0000ab" opacity="0.83" transform="rotate(63 2000.0 193.8)"/><ellipse cx="2065.9" cy="209.0" rx="3.9" ry="3.3" fill="#0000ad" opacity="0.53" transform="rotate(59 2065.9 209.0)"/><ellipse cx="1834.2" cy="417.6" rx="5.0" ry="3.1" fill="#00009e" opacity="0.41" transform="rotate(142 1834.2 417.6)"/><ellipse cx="1977.3" cy="197.0" rx="4.8" ry="4.1" fill="#0000a9" opacity="0.42" transform="rotate(122 1977.3 197.0)"/><ellipse cx="1824.6" cy="505.5" rx="3.1" ry="4.0" fill="#0000b9" opacity="0.40" transform="rotate(48 1824.6 505.5)"/><ellipse cx="1782.0" cy="364.8" rx="3.8" ry="3.6" fill="#000098" opacity="0.63" transform="rotate(55 1782.0 364.8)"/><ellipse cx="1926.3" cy="325.8" rx="4.6" ry="2.7" fill="#000097" opacity="0.72" transform="rotate(59 1926.3 325.8)"/><ellipse cx="2133.0" cy="187.7" rx="4.2" ry="3.4" fill="#0000bb" opacity="0.81" transform="rotate(84 2133.0 187.7)"/><ellipse cx="2047.9" cy="413.0" rx="4.7" ry="3.8" fill="#000097" opacity="0.69" transform="rotate(13 2047.9 413.0)"/><ellipse cx="2101.9" cy="519.6" rx="5.4" ry="3.7" fill="#0000a3" opacity="0.75" transform="rotate(157 2101.9 519.6)"/><ellipse cx="1786.9" cy="487.2" rx="5.0" ry="3.3" fill="#00008f" opacity="0.64" transform="rotate(74 1786.9 487.2)"/><ellipse cx="1979.3" cy="474.1" rx="4.5" ry="3.8" fill="#000098" opacity="0.77" transform="rotate(40 1979.3 474.1)"/><ellipse cx="2019.5" cy="362.6" rx="5.0" ry="2.9" fill="#000088" opacity="0.73" transform="rotate(18 2019.5 362.6)"/><ellipse cx="1939.2" cy="349.5" rx="3.9" ry="3.2" fill="#00007d" opacity="0.47" transform="rotate(9 1939.2 349.5)"/><ellipse cx="1850.9" cy="539.3" rx="5.2" ry="3.1" fill="#000073" opacity="0.62" transform="rotate(77 1850.9 539.3)"/><ellipse cx="1961.8" cy="487.3" rx="3.1" ry="3.4" fill="#0000b9" opacity="0.51" transform="rotate(136 1961.8 487.3)"/><ellipse cx="2072.4" cy="537.8" rx="5.5" ry="3.1" fill="#000096" opacity="0.65" transform="rotate(110 2072.4 537.8)"/><ellipse cx="2090.5" cy="405.2" rx="5.3" ry="2.7" fill="#00007f" opacity="0.58" transform="rotate(4 2090.5 405.2)"/><ellipse cx="1806.0" cy="351.6" rx="4.5" ry="4.0" fill="#00009e" opacity="0.68" transform="rotate(31 1806.0 351.6)"/><ellipse cx="1910.0" cy="281.8" rx="3.5" ry="3.7" fill="#0000a9" opacity="0.51" transform="rotate(109 1910.0 281.8)"/><ellipse cx="1942.6" cy="570.4" rx="4.7" ry="2.9" fill="#0000a7" opacity="0.58" transform="rotate(131 1942.6 570.4)"/><ellipse cx="1814.0" cy="268.3" rx="3.6" ry="2.7" fill="#0000b8" opacity="0.48" transform="rotate(93 1814.0 268.3)"/><ellipse cx="1932.0" cy="378.5" rx="3.0" ry="3.9" fill="#000082" opacity="0.83" transform="rotate(48 1932.0 378.5)"/><ellipse cx="1831.1" cy="207.7" rx="3.9" ry="3.7" fill="#000097" opacity="0.46" transform="rotate(34 1831.1 207.7)"/><ellipse cx="1955.4" cy="232.4" rx="5.3" ry="4.2" fill="#0000ac" opacity="0.81" transform="rotate(111 1955.4 232.4)"/><ellipse cx="1755.0" cy="486.6" rx="4.6" ry="3.2" fill="#0000b3" opacity="0.58" transform="rotate(60 1755.0 486.6)"/><ellipse cx="2115.9" cy="586.2" rx="3.1" ry="2.6" fill="#0000b8" opacity="0.75" transform="rotate(30 2115.9 586.2)"/><ellipse cx="2017.7" cy="229.3" rx="3.7" ry="3.9" fill="#000082" opacity="0.81" transform="rotate(150 2017.7 229.3)"/><ellipse cx="2103.5" cy="556.6" rx="3.8" ry="2.9" fill="#000093" opacity="0.67" transform="rotate(83 2103.5 556.6)"/><ellipse cx="2005.6" cy="462.1" rx="3.5" ry="3.5" fill="#000095" opacity="0.58" transform="rotate(77 2005.6 462.1)"/><ellipse cx="1872.5" cy="189.9" rx="4.9" ry="3.4" fill="#000097" opacity="0.37" transform="rotate(59 1872.5 189.9)"/><ellipse cx="2050.7" cy="292.0" rx="3.3" ry="3.1" fill="#000089" opacity="0.81" transform="rotate(21 2050.7 292.0)"/><ellipse cx="1778.2" cy="482.8" rx="3.4" ry="3.9" fill="#00007f" opacity="0.76" transform="rotate(86 1778.2 482.8)"/><ellipse cx="2091.4" cy="364.3" rx="3.5" ry="2.9" fill="#000071" opacity="0.74" transform="rotate(165 2091.4 364.3)"/><ellipse cx="2083.8" cy="545.3" rx="3.5" ry="3.4" fill="#0000b8" opacity="0.47" transform="rotate(13 2083.8 545.3)"/><ellipse cx="1857.1" cy="287.1" rx="3.4" ry="3.3" fill="#00008f" opacity="0.49" transform="rotate(118 1857.1 287.1)"/><ellipse cx="2149.6" cy="518.2" rx="3.7" ry="3.3" fill="#00006f" opacity="0.61" transform="rotate(144 2149.6 518.2)"/><ellipse cx="1809.6" cy="582.5" rx="3.8" ry="2.9" fill="#0000ab" opacity="0.49" transform="rotate(134 1809.6 582.5)"/><ellipse cx="2000.9" cy="431.6" rx="3.9" ry="2.9" fill="#000094" opacity="0.70" transform="rotate(66 2000.9 431.6)"/><ellipse cx="1755.0" cy="174.1" rx="3.2" ry="3.2" fill="#00009a" opacity="0.78" transform="rotate(6 1755.0 174.1)"/><ellipse cx="2000.9" cy="256.7" rx="5.4" ry="4.0" fill="#00008f" opacity="0.49" transform="rotate(116 2000.9 256.7)"/><ellipse cx="1955.4" cy="404.2" rx="4.3" ry="2.6" fill="#0000be" opacity="0.76" transform="rotate(46 1955.4 404.2)"/><ellipse cx="1746.4" cy="409.7" rx="3.6" ry="3.9" fill="#000072" opacity="0.81" transform="rotate(121 1746.4 409.7)"/><ellipse cx="1874.4" cy="201.5" rx="4.9" ry="3.1" fill="#0000af" opacity="0.75" transform="rotate(36 1874.4 201.5)"/><ellipse cx="1850.1" cy="474.1" rx="4.3" ry="3.1" fill="#0000b7" opacity="0.49" transform="rotate(17 1850.1 474.1)"/><ellipse cx="2010.0" cy="396.8" rx="4.3" ry="3.4" fill="#000081" opacity="0.50" transform="rotate(39 2010.0 396.8)"/><ellipse cx="1982.1" cy="551.8" rx="4.1" ry="3.5" fill="#00007c" opacity="0.80" transform="rotate(155 1982.1 551.8)"/><ellipse cx="1780.3" cy="249.2" rx="5.0" ry="3.1" fill="#0000ad" opacity="0.83" transform="rotate(163 1780.3 249.2)"/><ellipse cx="1769.8" cy="345.9" rx="4.3" ry="3.5" fill="#000083" opacity="0.40" transform="rotate(126 1769.8 345.9)"/><ellipse cx="2060.8" cy="371.5" rx="4.7" ry="2.5" fill="#000087" opacity="0.66" transform="rotate(74 2060.8 371.5)"/><ellipse cx="2080.8" cy="212.6" rx="3.7" ry="3.5" fill="#000085" opacity="0.69" transform="rotate(141 2080.8 212.6)"/><ellipse cx="2074.4" cy="415.4" rx="4.0" ry="3.8" fill="#000090" opacity="0.77" transform="rotate(21 2074.4 415.4)"/><ellipse cx="2022.4" cy="249.1" rx="5.4" ry="3.1" fill="#000080" opacity="0.81" transform="rotate(174 2022.4 249.1)"/><ellipse cx="1870.8" cy="199.5" rx="4.6" ry="4.0" fill="#0000a2" opacity="0.82" transform="rotate(113 1870.8 199.5)"/><ellipse cx="2137.5" cy="303.9" rx="3.5" ry="3.4" fill="#00008c" opacity="0.50" transform="rotate(170 2137.5 303.9)"/><ellipse cx="2144.7" cy="578.6" rx="5.4" ry="2.8" fill="#0000b3" opacity="0.52" transform="rotate(109 2144.7 578.6)"/><ellipse cx="1854.2" cy="170.9" rx="3.9" ry="3.8" fill="#000093" opacity="0.58" transform="rotate(122 1854.2 170.9)"/><ellipse cx="1910.3" cy="334.6" rx="4.6" ry="2.8" fill="#00008f" opacity="0.64" transform="rotate(7 1910.3 334.6)"/><ellipse cx="1913.4" cy="263.5" rx="3.8" ry="3.9" fill="#000074" opacity="0.47" transform="rotate(87 1913.4 263.5)"/><ellipse cx="1822.9" cy="452.3" rx="5.1" ry="2.7" fill="#000096" opacity="0.71" transform="rotate(93 1822.9 452.3)"/><ellipse cx="2029.7" cy="189.4" rx="3.3" ry="3.4" fill="#000070" opacity="0.82" transform="rotate(62 2029.7 189.4)"/><ellipse cx="1887.1" cy="567.2" rx="4.4" ry="3.6" fill="#00008e" opacity="0.51" transform="rotate(166 1887.1 567.2)"/><ellipse cx="1919.2" cy="311.7" rx="3.6" ry="3.0" fill="#0000a5" opacity="0.37" transform="rotate(127 1919.2 311.7)"/><ellipse cx="1812.7" cy="341.7" rx="3.1" ry="2.6" fill="#0000b1" opacity="0.75" transform="rotate(12 1812.7 341.7)"/><ellipse cx="2037.4" cy="408.3" rx="4.5" ry="3.1" fill="#000072" opacity="0.36" transform="rotate(50 2037.4 408.3)"/><ellipse cx="1949.1" cy="437.7" rx="3.1" ry="4.0" fill="#00008a" opacity="0.42" transform="rotate(122 1949.1 437.7)"/><ellipse cx="1774.7" cy="430.4" rx="4.9" ry="3.2" fill="#00008d" opacity="0.38" transform="rotate(141 1774.7 430.4)"/><ellipse cx="1772.4" cy="174.1" rx="4.6" ry="4.0" fill="#0000b7" opacity="0.40" transform="rotate(106 1772.4 174.1)"/><ellipse cx="2015.4" cy="302.2" rx="4.4" ry="2.6" fill="#0000ab" opacity="0.65" transform="rotate(11 2015.4 302.2)"/><ellipse cx="1795.7" cy="523.5" rx="5.1" ry="3.2" fill="#000075" opacity="0.71" transform="rotate(12 1795.7 523.5)"/><ellipse cx="1883.4" cy="260.0" rx="3.8" ry="3.0" fill="#0000b5" opacity="0.68" transform="rotate(103 1883.4 260.0)"/><ellipse cx="1821.9" cy="463.9" rx="3.6" ry="2.7" fill="#0000ad" opacity="0.55" transform="rotate(77 1821.9 463.9)"/><ellipse cx="2028.4" cy="492.9" rx="4.6" ry="2.8" fill="#000090" opacity="0.50" transform="rotate(118 2028.4 492.9)"/><ellipse cx="2027.5" cy="247.6" rx="3.4" ry="3.4" fill="#000082" opacity="0.75" transform="rotate(155 2027.5 247.6)"/><ellipse cx="2102.6" cy="488.4" rx="3.4" ry="3.1" fill="#00009f" opacity="0.66" transform="rotate(10 2102.6 488.4)"/><ellipse cx="2128.5" cy="176.8" rx="4.6" ry="3.5" fill="#000085" opacity="0.61" transform="rotate(54 2128.5 176.8)"/><ellipse cx="2043.0" cy="378.5" rx="5.0" ry="3.5" fill="#000091" opacity="0.79" transform="rotate(172 2043.0 378.5)"/><ellipse cx="2139.7" cy="439.7" rx="4.1" ry="2.8" fill="#0000ad" opacity="0.79" transform="rotate(44 2139.7 439.7)"/><ellipse cx="1759.6" cy="275.1" rx="3.2" ry="3.4" fill="#000095" opacity="0.38" transform="rotate(68 1759.6 275.1)"/><ellipse cx="2125.0" cy="389.1" rx="5.2" ry="3.7" fill="#0000a5" opacity="0.82" transform="rotate(94 2125.0 389.1)"/><ellipse cx="1874.6" cy="316.7" rx="5.2" ry="3.6" fill="#00006e" opacity="0.75" transform="rotate(140 1874.6 316.7)"/><ellipse cx="1871.7" cy="344.6" rx="4.5" ry="3.0" fill="#0000ae" opacity="0.46" transform="rotate(29 1871.7 344.6)"/><ellipse cx="1901.9" cy="297.9" rx="3.4" ry="4.0" fill="#000078" opacity="0.52" transform="rotate(15 1901.9 297.9)"/><ellipse cx="2021.3" cy="307.2" rx="3.7" ry="3.5" fill="#000088" opacity="0.54" transform="rotate(168 2021.3 307.2)"/><ellipse cx="2065.1" cy="204.9" rx="5.1" ry="2.5" fill="#0000b4" opacity="0.81" transform="rotate(88 2065.1 204.9)"/><ellipse cx="2118.4" cy="333.4" rx="4.2" ry="3.8" fill="#000096" opacity="0.81" transform="rotate(54 2118.4 333.4)"/><ellipse cx="2127.2" cy="268.6" rx="4.6" ry="3.6" fill="#000074" opacity="0.39" transform="rotate(103 2127.2 268.6)"/><ellipse cx="1925.2" cy="335.3" rx="4.3" ry="2.8" fill="#00008b" opacity="0.57" transform="rotate(49 1925.2 335.3)"/><ellipse cx="1969.4" cy="256.3" rx="4.3" ry="3.5" fill="#000097" opacity="0.45" transform="rotate(27 1969.4 256.3)"/><ellipse cx="2030.2" cy="534.3" rx="3.1" ry="3.7" fill="#000095" opacity="0.67" transform="rotate(121 2030.2 534.3)"/><ellipse cx="1860.7" cy="403.3" rx="3.8" ry="4.0" fill="#000072" opacity="0.44" transform="rotate(165 1860.7 403.3)"/><ellipse cx="1906.2" cy="488.2" rx="5.4" ry="2.8" fill="#0000ad" opacity="0.78" transform="rotate(91 1906.2 488.2)"/><ellipse cx="2134.3" cy="247.1" rx="3.7" ry="3.7" fill="#000094" opacity="0.74" transform="rotate(170 2134.3 247.1)"/><ellipse cx="1916.7" cy="216.8" rx="3.6" ry="4.1" fill="#000086" opacity="0.39" transform="rotate(64 1916.7 216.8)"/><ellipse cx="2079.7" cy="278.9" rx="4.7" ry="3.0" fill="#000087" opacity="0.61" transform="rotate(132 2079.7 278.9)"/><ellipse cx="1926.0" cy="173.5" rx="3.7" ry="3.0" fill="#00007f" opacity="0.58" transform="rotate(3 1926.0 173.5)"/><ellipse cx="1845.9" cy="318.6" rx="4.5" ry="3.3" fill="#000076" opacity="0.43" transform="rotate(21 1845.9 318.6)"/><ellipse cx="2134.4" cy="197.3" rx="5.0" ry="3.2" fill="#0000b8" opacity="0.84" transform="rotate(84 2134.4 197.3)"/><ellipse cx="1853.4" cy="291.0" rx="4.5" ry="4.2" fill="#0000ab" opacity="0.82" transform="rotate(50 1853.4 291.0)"/><ellipse cx="2022.3" cy="293.0" rx="5.4" ry="3.0" fill="#000072" opacity="0.75" transform="rotate(170 2022.3 293.0)"/><ellipse cx="1862.7" cy="564.5" rx="4.3" ry="2.5" fill="#0000b2" opacity="0.36" transform="rotate(84 1862.7 564.5)"/><ellipse cx="1927.3" cy="445.8" rx="4.3" ry="2.9" fill="#0000b9" opacity="0.82" transform="rotate(101 1927.3 445.8)"/><ellipse cx="1890.6" cy="490.9" rx="5.2" ry="3.3" fill="#000097" opacity="0.55" transform="rotate(147 1890.6 490.9)"/><ellipse cx="1861.5" cy="575.7" rx="4.4" ry="3.2" fill="#0000ba" opacity="0.70" transform="rotate(165 1861.5 575.7)"/><ellipse cx="2100.3" cy="278.8" rx="5.3" ry="3.3" fill="#00008a" opacity="0.55" transform="rotate(170 2100.3 278.8)"/><ellipse cx="2118.6" cy="192.5" rx="3.2" ry="2.9" fill="#00008c" opacity="0.45" transform="rotate(60 2118.6 192.5)"/><ellipse cx="1995.2" cy="346.8" rx="4.5" ry="4.1" fill="#0000b0" opacity="0.83" transform="rotate(17 1995.2 346.8)"/><ellipse cx="2056.6" cy="557.5" rx="4.2" ry="4.2" fill="#00007d" opacity="0.55" transform="rotate(3 2056.6 557.5)"/><ellipse cx="1743.0" cy="548.5" rx="5.5" ry="3.6" fill="#000082" opacity="0.36" transform="rotate(106 1743.0 548.5)"/><ellipse cx="2012.3" cy="558.8" rx="5.1" ry="2.5" fill="#0000b8" opacity="0.71" transform="rotate(88 2012.3 558.8)"/><ellipse cx="1757.1" cy="401.7" rx="4.7" ry="3.7" fill="#00008d" opacity="0.68" transform="rotate(12 1757.1 401.7)"/><ellipse cx="1742.2" cy="222.2" rx="5.1" ry="3.1" fill="#0000b8" opacity="0.83" transform="rotate(129 1742.2 222.2)"/><ellipse cx="2059.5" cy="286.5" rx="3.1" ry="3.6" fill="#00008b" opacity="0.46" transform="rotate(3 2059.5 286.5)"/><ellipse cx="1773.4" cy="512.4" rx="3.3" ry="3.5" fill="#0000a2" opacity="0.36" transform="rotate(86 1773.4 512.4)"/><ellipse cx="2107.0" cy="503.4" rx="5.4" ry="3.9" fill="#000073" opacity="0.39" transform="rotate(52 2107.0 503.4)"/><ellipse cx="1985.5" cy="507.3" rx="3.2" ry="2.8" fill="#0000a7" opacity="0.44" transform="rotate(168 1985.5 507.3)"/><ellipse cx="1915.4" cy="322.7" rx="4.9" ry="2.6" fill="#0000bc" opacity="0.69" transform="rotate(8 1915.4 322.7)"/><ellipse cx="2000.2" cy="440.9" rx="3.2" ry="3.5" fill="#000095" opacity="0.46" transform="rotate(142 2000.2 440.9)"/><ellipse cx="1809.8" cy="463.9" rx="5.4" ry="4.0" fill="#0000b1" opacity="0.70" transform="rotate(17 1809.8 463.9)"/><ellipse cx="2055.3" cy="331.3" rx="4.2" ry="3.8" fill="#00009c" opacity="0.46" transform="rotate(25 2055.3 331.3)"/><ellipse cx="2012.5" cy="275.6" rx="4.6" ry="3.4" fill="#000072" opacity="0.60" transform="rotate(121 2012.5 275.6)"/><ellipse cx="1919.0" cy="195.6" rx="3.7" ry="3.7" fill="#000084" opacity="0.72" transform="rotate(73 1919.0 195.6)"/><ellipse cx="2070.6" cy="502.6" rx="5.0" ry="3.6" fill="#00007b" opacity="0.43" transform="rotate(44 2070.6 502.6)"/><ellipse cx="2136.2" cy="358.8" rx="5.2" ry="2.9" fill="#0000ab" opacity="0.66" transform="rotate(50 2136.2 358.8)"/><ellipse cx="2003.7" cy="307.7" rx="3.6" ry="2.9" fill="#0000b2" opacity="0.50" transform="rotate(154 2003.7 307.7)"/><ellipse cx="2088.4" cy="337.4" rx="4.7" ry="3.2" fill="#0000b5" opacity="0.81" transform="rotate(98 2088.4 337.4)"/><ellipse cx="2061.9" cy="313.5" rx="3.1" ry="3.9" fill="#0000ad" opacity="0.71" transform="rotate(128 2061.9 313.5)"/><ellipse cx="1749.3" cy="414.5" rx="3.5" ry="3.1" fill="#0000a9" opacity="0.64" transform="rotate(99 1749.3 414.5)"/><ellipse cx="2073.8" cy="246.6" rx="5.0" ry="3.8" fill="#000099" opacity="0.57" transform="rotate(30 2073.8 246.6)"/><ellipse cx="1901.8" cy="242.6" rx="3.9" ry="2.5" fill="#0000b8" opacity="0.82" transform="rotate(72 1901.8 242.6)"/><ellipse cx="1849.4" cy="386.2" rx="4.4" ry="3.3" fill="#0000a3" opacity="0.50" transform="rotate(49 1849.4 386.2)"/><ellipse cx="2149.9" cy="251.8" rx="3.9" ry="2.5" fill="#000081" opacity="0.42" transform="rotate(178 2149.9 251.8)"/><ellipse cx="1926.0" cy="240.9" rx="3.3" ry="3.6" fill="#000075" opacity="0.59" transform="rotate(24 1926.0 240.9)"/><ellipse cx="1890.6" cy="321.7" rx="5.2" ry="3.9" fill="#0000a3" opacity="0.50" transform="rotate(55 1890.6 321.7)"/><ellipse cx="1992.6" cy="461.0" rx="4.6" ry="2.8" fill="#000092" opacity="0.58" transform="rotate(164 1992.6 461.0)"/><ellipse cx="1814.6" cy="339.4" rx="3.9" ry="3.1" fill="#0000b9" opacity="0.82" transform="rotate(8 1814.6 339.4)"/><ellipse cx="2118.5" cy="278.0" rx="4.6" ry="2.8" fill="#0000ae" opacity="0.76" transform="rotate(79 2118.5 278.0)"/><ellipse cx="1779.7" cy="320.0" rx="3.4" ry="3.3" fill="#00009c" opacity="0.71" transform="rotate(126 1779.7 320.0)"/><ellipse cx="1852.4" cy="196.4" rx="3.1" ry="3.6" fill="#0000ad" opacity="0.76" transform="rotate(67 1852.4 196.4)"/><ellipse cx="2147.5" cy="545.9" rx="5.1" ry="2.8" fill="#000082" opacity="0.69" transform="rotate(124 2147.5 545.9)"/><ellipse cx="2118.8" cy="244.8" rx="5.4" ry="4.1" fill="#000099" opacity="0.46" transform="rotate(63 2118.8 244.8)"/><ellipse cx="2100.4" cy="315.7" rx="5.4" ry="4.2" fill="#000097" opacity="0.72" transform="rotate(39 2100.4 315.7)"/><ellipse cx="2155.1" cy="324.3" rx="4.5" ry="4.1" fill="#000094" opacity="0.60" transform="rotate(126 2155.1 324.3)"/><ellipse cx="1786.3" cy="165.7" rx="3.6" ry="3.0" fill="#000098" opacity="0.64" transform="rotate(20 1786.3 165.7)"/><ellipse cx="2130.6" cy="347.0" rx="3.7" ry="3.8" fill="#000089" opacity="0.52" transform="rotate(96 2130.6 347.0)"/><ellipse cx="1750.7" cy="483.6" rx="5.1" ry="2.5" fill="#00008c" opacity="0.59" transform="rotate(44 1750.7 483.6)"/><ellipse cx="1752.6" cy="419.1" rx="4.8" ry="3.4" fill="#000070" opacity="0.38" transform="rotate(75 1752.6 419.1)"/><ellipse cx="1973.7" cy="260.1" rx="3.5" ry="3.5" fill="#0000bb" opacity="0.70" transform="rotate(144 1973.7 260.1)"/><ellipse cx="1773.4" cy="356.3" rx="5.4" ry="2.8" fill="#000072" opacity="0.78" transform="rotate(134 1773.4 356.3)"/><ellipse cx="1969.1" cy="456.6" rx="3.3" ry="4.2" fill="#00008e" opacity="0.59" transform="rotate(56 1969.1 456.6)"/><ellipse cx="2162.7" cy="420.1" rx="4.1" ry="3.1" fill="#0000b3" opacity="0.66" transform="rotate(13 2162.7 420.1)"/><ellipse cx="1974.6" cy="331.1" rx="3.5" ry="3.8" fill="#0000ac" opacity="0.40" transform="rotate(3 1974.6 331.1)"/><ellipse cx="1884.7" cy="523.5" rx="4.1" ry="3.7" fill="#0000b1" opacity="0.71" transform="rotate(44 1884.7 523.5)"/><ellipse cx="1770.3" cy="487.5" rx="5.4" ry="2.6" fill="#000078" opacity="0.43" transform="rotate(15 1770.3 487.5)"/><ellipse cx="2134.3" cy="410.9" rx="4.7" ry="2.7" fill="#00008b" opacity="0.84" transform="rotate(113 2134.3 410.9)"/><ellipse cx="1862.6" cy="409.9" rx="5.2" ry="2.7" fill="#000092" opacity="0.67" transform="rotate(63 1862.6 409.9)"/><ellipse cx="1948.3" cy="386.2" rx="3.0" ry="2.6" fill="#000073" opacity="0.39" transform="rotate(37 1948.3 386.2)"/><ellipse cx="1903.8" cy="550.4" rx="4.1" ry="3.4" fill="#0000a5" opacity="0.64" transform="rotate(7 1903.8 550.4)"/><ellipse cx="1789.0" cy="526.1" rx="4.8" ry="3.7" fill="#000081" opacity="0.43" transform="rotate(29 1789.0 526.1)"/><ellipse cx="1905.5" cy="255.9" rx="3.2" ry="3.6" fill="#0000a4" opacity="0.36" transform="rotate(75 1905.5 255.9)"/><ellipse cx="1939.3" cy="474.7" rx="3.3" ry="3.7" fill="#0000b7" opacity="0.43" transform="rotate(47 1939.3 474.7)"/><ellipse cx="2098.3" cy="486.6" rx="3.3" ry="3.4" fill="#00008c" opacity="0.37" transform="rotate(151 2098.3 486.6)"/><ellipse cx="1845.6" cy="426.3" rx="3.6" ry="3.8" fill="#000096" opacity="0.38" transform="rotate(8 1845.6 426.3)"/><ellipse cx="1793.6" cy="173.7" rx="3.9" ry="2.9" fill="#000083" opacity="0.72" transform="rotate(23 1793.6 173.7)"/><ellipse cx="1968.5" cy="403.9" rx="3.7" ry="2.9" fill="#0000a9" opacity="0.59" transform="rotate(163 1968.5 403.9)"/><ellipse cx="2048.4" cy="294.2" rx="4.2" ry="2.5" fill="#0000a7" opacity="0.39" transform="rotate(160 2048.4 294.2)"/><ellipse cx="1940.0" cy="351.2" rx="4.4" ry="3.1" fill="#000092" opacity="0.81" transform="rotate(53 1940.0 351.2)"/><ellipse cx="2056.8" cy="469.9" rx="3.4" ry="3.1" fill="#0000a5" opacity="0.78" transform="rotate(116 2056.8 469.9)"/><ellipse cx="1989.6" cy="407.5" rx="4.6" ry="3.9" fill="#000072" opacity="0.55" transform="rotate(83 1989.6 407.5)"/><ellipse cx="1820.5" cy="569.7" rx="3.1" ry="2.8" fill="#000074" opacity="0.66" transform="rotate(110 1820.5 569.7)"/><ellipse cx="2049.3" cy="543.3" rx="3.9" ry="3.3" fill="#0000a2" opacity="0.62" transform="rotate(146 2049.3 543.3)"/><ellipse cx="1988.8" cy="380.6" rx="5.3" ry="2.8" fill="#0000b1" opacity="0.68" transform="rotate(8 1988.8 380.6)"/><ellipse cx="1847.6" cy="447.4" rx="3.2" ry="4.1" fill="#000071" opacity="0.82" transform="rotate(54 1847.6 447.4)"/><ellipse cx="1911.1" cy="552.7" rx="5.3" ry="3.4" fill="#0000a7" opacity="0.82" transform="rotate(118 1911.1 552.7)"/><ellipse cx="1921.9" cy="242.6" rx="3.8" ry="3.4" fill="#000072" opacity="0.46" transform="rotate(150 1921.9 242.6)"/><ellipse cx="1942.0" cy="544.7" rx="5.1" ry="3.8" fill="#000074" opacity="0.81" transform="rotate(170 1942.0 544.7)"/><ellipse cx="2140.3" cy="270.4" rx="3.5" ry="2.9" fill="#000092" opacity="0.59" transform="rotate(150 2140.3 270.4)"/><ellipse cx="1864.4" cy="419.1" rx="4.8" ry="3.0" fill="#00009f" opacity="0.70" transform="rotate(59 1864.4 419.1)"/><ellipse cx="2044.4" cy="515.8" rx="3.6" ry="3.6" fill="#00009d" opacity="0.39" transform="rotate(112 2044.4 515.8)"/><ellipse cx="2044.8" cy="171.9" rx="5.1" ry="4.1" fill="#000084" opacity="0.72" transform="rotate(156 2044.8 171.9)"/><ellipse cx="2033.6" cy="418.6" rx="4.4" ry="2.5" fill="#0000b4" opacity="0.83" transform="rotate(85 2033.6 418.6)"/><ellipse cx="1822.4" cy="205.2" rx="3.2" ry="3.7" fill="#0000b7" opacity="0.84" transform="rotate(1 1822.4 205.2)"/><ellipse cx="1840.9" cy="353.6" rx="4.3" ry="3.8" fill="#0000b5" opacity="0.38" transform="rotate(8 1840.9 353.6)"/><ellipse cx="1846.3" cy="311.0" rx="5.2" ry="2.7" fill="#00008b" opacity="0.38" transform="rotate(20 1846.3 311.0)"/><ellipse cx="2140.6" cy="387.4" rx="4.9" ry="2.8" fill="#000073" opacity="0.44" transform="rotate(34 2140.6 387.4)"/><ellipse cx="2016.5" cy="476.1" rx="5.1" ry="2.5" fill="#0000ad" opacity="0.62" transform="rotate(171 2016.5 476.1)"/><ellipse cx="2132.8" cy="193.9" rx="3.1" ry="3.7" fill="#000084" opacity="0.58" transform="rotate(105 2132.8 193.9)"/><ellipse cx="1762.8" cy="200.9" rx="4.8" ry="3.8" fill="#0000b3" opacity="0.51" transform="rotate(54 1762.8 200.9)"/><ellipse cx="2083.6" cy="208.8" rx="5.1" ry="3.8" fill="#000080" opacity="0.54" transform="rotate(32 2083.6 208.8)"/><ellipse cx="1791.7" cy="582.8" rx="3.7" ry="2.9" fill="#000074" opacity="0.75" transform="rotate(145 1791.7 582.8)"/><ellipse cx="1839.5" cy="532.9" rx="4.9" ry="2.6" fill="#00007e" opacity="0.50" transform="rotate(84 1839.5 532.9)"/><ellipse cx="1897.4" cy="201.4" rx="3.7" ry="3.1" fill="#00009b" opacity="0.54" transform="rotate(73 1897.4 201.4)"/><ellipse cx="1836.3" cy="475.0" rx="5.0" ry="3.4" fill="#00007a" opacity="0.72" transform="rotate(48 1836.3 475.0)"/><ellipse cx="1800.3" cy="369.5" rx="4.3" ry="3.7" fill="#00007b" opacity="0.76" transform="rotate(74 1800.3 369.5)"/><ellipse cx="1818.5" cy="450.6" rx="5.3" ry="3.6" fill="#000090" opacity="0.49" transform="rotate(19 1818.5 450.6)"/><ellipse cx="2160.0" cy="445.6" rx="4.3" ry="3.7" fill="#000087" opacity="0.35" transform="rotate(106 2160.0 445.6)"/><ellipse cx="1907.3" cy="343.6" rx="5.1" ry="3.6" fill="#000094" opacity="0.75" transform="rotate(123 1907.3 343.6)"/><ellipse cx="2100.3" cy="487.7" rx="3.7" ry="3.6" fill="#0000b4" opacity="0.35" transform="rotate(28 2100.3 487.7)"/><ellipse cx="1761.1" cy="205.6" rx="3.8" ry="2.7" fill="#000082" opacity="0.55" transform="rotate(97 1761.1 205.6)"/><ellipse cx="1826.9" cy="570.5" rx="5.2" ry="3.9" fill="#000092" opacity="0.41" transform="rotate(110 1826.9 570.5)"/><ellipse cx="1818.2" cy="332.9" rx="3.2" ry="2.6" fill="#0000b4" opacity="0.64" transform="rotate(169 1818.2 332.9)"/><ellipse cx="1824.4" cy="254.2" rx="3.1" ry="4.1" fill="#0000ac" opacity="0.49" transform="rotate(35 1824.4 254.2)"/><ellipse cx="2132.2" cy="552.1" rx="4.2" ry="3.2" fill="#0000ba" opacity="0.78" transform="rotate(113 2132.2 552.1)"/><ellipse cx="1930.5" cy="483.8" rx="3.3" ry="3.6" fill="#00009f" opacity="0.72" transform="rotate(55 1930.5 483.8)"/><ellipse cx="2054.5" cy="371.1" rx="3.7" ry="4.2" fill="#000099" opacity="0.75" transform="rotate(177 2054.5 371.1)"/><ellipse cx="1865.5" cy="340.4" rx="4.5" ry="3.1" fill="#000096" opacity="0.69" transform="rotate(87 1865.5 340.4)"/><ellipse cx="2117.0" cy="526.6" rx="4.3" ry="3.1" fill="#000082" opacity="0.81" transform="rotate(155 2117.0 526.6)"/><ellipse cx="2029.7" cy="564.3" rx="4.0" ry="4.0" fill="#00008f" opacity="0.45" transform="rotate(103 2029.7 564.3)"/><ellipse cx="2052.2" cy="165.0" rx="4.6" ry="3.8" fill="#0000a1" opacity="0.76" transform="rotate(63 2052.2 165.0)"/><ellipse cx="1854.3" cy="391.3" rx="3.5" ry="3.8" fill="#000079" opacity="0.47" transform="rotate(52 1854.3 391.3)"/></g><g filter="url(#fxB1)"><ellipse cx="1973.1" cy="309.8" rx="7.1" ry="5.3" fill="#0306d9" opacity="0.91" transform="rotate(-65 1973.1 309.8)"/><ellipse cx="2017.1" cy="503.1" rx="6.7" ry="3.3" fill="#1122fd" opacity="0.81" transform="rotate(-15 2017.1 503.1)"/><ellipse cx="2050.2" cy="352.6" rx="4.6" ry="4.0" fill="#060cf8" opacity="0.84" transform="rotate(-69 2050.2 352.6)"/><ellipse cx="1919.9" cy="281.2" rx="6.2" ry="4.3" fill="#1021f5" opacity="0.75" transform="rotate(-92 1919.9 281.2)"/><ellipse cx="1871.2" cy="290.1" rx="6.3" ry="4.7" fill="#0408ee" opacity="0.78" transform="rotate(-42 1871.2 290.1)"/><ellipse cx="2032.5" cy="502.6" rx="7.6" ry="5.1" fill="#0e1df2" opacity="0.78" transform="rotate(-61 2032.5 502.6)"/><ellipse cx="2002.4" cy="229.3" rx="5.8" ry="2.8" fill="#1123f1" opacity="0.74" transform="rotate(-44 2002.4 229.3)"/><ellipse cx="1805.1" cy="550.9" rx="6.0" ry="3.9" fill="#0307ea" opacity="0.71" transform="rotate(-80 1805.1 550.9)"/><ellipse cx="2006.8" cy="536.6" rx="5.4" ry="2.8" fill="#0204e5" opacity="0.72" transform="rotate(-28 2006.8 536.6)"/><ellipse cx="1822.8" cy="374.9" rx="4.5" ry="3.9" fill="#0c18d9" opacity="0.92" transform="rotate(-11 1822.8 374.9)"/><ellipse cx="1826.6" cy="431.6" rx="6.9" ry="4.9" fill="#0307fe" opacity="0.90" transform="rotate(-1 1826.6 431.6)"/><ellipse cx="1983.6" cy="296.7" rx="7.7" ry="3.6" fill="#0d1aeb" opacity="0.78" transform="rotate(-85 1983.6 296.7)"/><ellipse cx="2116.2" cy="285.3" rx="5.2" ry="3.4" fill="#0c18eb" opacity="0.75" transform="rotate(-119 2116.2 285.3)"/><ellipse cx="1813.3" cy="426.1" rx="7.2" ry="5.4" fill="#060ceb" opacity="0.94" transform="rotate(-45 1813.3 426.1)"/><ellipse cx="2126.5" cy="350.8" rx="5.6" ry="4.0" fill="#0a15f7" opacity="0.75" transform="rotate(-111 2126.5 350.8)"/><ellipse cx="1754.6" cy="433.4" rx="5.7" ry="4.2" fill="#0913f4" opacity="0.73" transform="rotate(-21 1754.6 433.4)"/><ellipse cx="2134.2" cy="261.8" rx="4.3" ry="3.9" fill="#0810dd" opacity="0.79" transform="rotate(-90 2134.2 261.8)"/><ellipse cx="1894.0" cy="226.7" rx="6.2" ry="3.1" fill="#0810e5" opacity="0.77" transform="rotate(-78 1894.0 226.7)"/><ellipse cx="1883.4" cy="329.1" rx="4.5" ry="2.9" fill="#0204fb" opacity="0.87" transform="rotate(-21 1883.4 329.1)"/><ellipse cx="1772.1" cy="505.5" rx="6.1" ry="3.1" fill="#0102df" opacity="0.78" transform="rotate(-5 1772.1 505.5)"/><ellipse cx="2118.9" cy="480.9" rx="6.1" ry="3.3" fill="#0a15ff" opacity="0.90" transform="rotate(0 2118.9 480.9)"/><ellipse cx="2055.4" cy="318.0" rx="4.8" ry="4.1" fill="#1122fe" opacity="0.79" transform="rotate(-25 2055.4 318.0)"/><ellipse cx="2126.0" cy="503.4" rx="5.4" ry="3.4" fill="#060df2" opacity="0.93" transform="rotate(-55 2126.0 503.4)"/><ellipse cx="1910.7" cy="323.0" rx="8.5" ry="4.3" fill="#0e1de6" opacity="0.88" transform="rotate(-23 1910.7 323.0)"/><ellipse cx="1875.5" cy="288.9" rx="6.8" ry="5.3" fill="#070fe4" opacity="0.77" transform="rotate(2 1875.5 288.9)"/><ellipse cx="1828.2" cy="435.9" rx="5.8" ry="4.2" fill="#0409f2" opacity="0.72" transform="rotate(-91 1828.2 435.9)"/><ellipse cx="2132.2" cy="408.3" rx="8.6" ry="5.1" fill="#0102dc" opacity="0.74" transform="rotate(-57 2132.2 408.3)"/><ellipse cx="2004.7" cy="290.0" rx="5.0" ry="3.8" fill="#0409eb" opacity="0.84" transform="rotate(-51 2004.7 290.0)"/><ellipse cx="1809.6" cy="318.7" rx="4.0" ry="3.6" fill="#0c19f7" opacity="0.88" transform="rotate(-44 1809.6 318.7)"/><ellipse cx="2066.8" cy="496.2" rx="8.4" ry="5.8" fill="#0306e3" opacity="0.94" transform="rotate(-43 2066.8 496.2)"/><ellipse cx="1847.1" cy="279.4" rx="5.7" ry="2.9" fill="#0810d7" opacity="0.85" transform="rotate(-54 1847.1 279.4)"/><ellipse cx="1971.1" cy="493.2" rx="5.2" ry="3.8" fill="#0b17ec" opacity="0.87" transform="rotate(-57 1971.1 493.2)"/><ellipse cx="1841.4" cy="488.7" rx="4.7" ry="3.1" fill="#0b17e2" opacity="0.77" transform="rotate(-38 1841.4 488.7)"/><ellipse cx="1791.9" cy="409.2" rx="4.6" ry="3.5" fill="#050bfd" opacity="0.94" transform="rotate(-11 1791.9 409.2)"/><ellipse cx="1788.6" cy="563.1" rx="4.3" ry="3.7" fill="#1021f1" opacity="0.84" transform="rotate(-51 1788.6 563.1)"/><ellipse cx="1970.1" cy="178.6" rx="5.3" ry="4.9" fill="#0409eb" opacity="0.94" transform="rotate(-49 1970.1 178.6)"/><ellipse cx="1753.8" cy="348.8" rx="9.4" ry="4.2" fill="#0810f9" opacity="0.93" transform="rotate(-2 1753.8 348.8)"/><ellipse cx="1803.8" cy="190.0" rx="6.4" ry="6.2" fill="#0001e6" opacity="0.88" transform="rotate(-65 1803.8 190.0)"/><ellipse cx="1886.3" cy="530.7" rx="6.4" ry="3.3" fill="#070ff6" opacity="0.76" transform="rotate(-74 1886.3 530.7)"/><ellipse cx="1902.9" cy="561.6" rx="4.7" ry="3.3" fill="#0f1ffb" opacity="0.87" transform="rotate(-3 1902.9 561.6)"/><ellipse cx="2139.1" cy="572.1" rx="4.7" ry="3.3" fill="#0409f8" opacity="0.72" transform="rotate(-64 2139.1 572.1)"/><ellipse cx="2044.4" cy="259.3" rx="5.3" ry="4.1" fill="#050ad8" opacity="0.93" transform="rotate(-19 2044.4 259.3)"/><ellipse cx="1897.0" cy="263.4" rx="5.1" ry="3.3" fill="#050af8" opacity="0.95" transform="rotate(-13 1897.0 263.4)"/><ellipse cx="1761.8" cy="307.6" rx="4.1" ry="3.2" fill="#0f1fed" opacity="0.83" transform="rotate(-85 1761.8 307.6)"/><ellipse cx="2027.6" cy="325.3" rx="5.2" ry="3.6" fill="#0103fa" opacity="0.78" transform="rotate(-31 2027.6 325.3)"/><ellipse cx="2150.3" cy="283.8" rx="9.0" ry="4.2" fill="#0b17da" opacity="0.94" transform="rotate(-41 2150.3 283.8)"/><ellipse cx="2130.4" cy="353.5" rx="5.2" ry="3.2" fill="#0409ec" opacity="0.84" transform="rotate(-19 2130.4 353.5)"/><ellipse cx="1846.1" cy="311.9" rx="6.1" ry="6.2" fill="#0102db" opacity="0.75" transform="rotate(-86 1846.1 311.9)"/><ellipse cx="2012.9" cy="252.5" rx="5.8" ry="4.2" fill="#0b16df" opacity="0.94" transform="rotate(-50 2012.9 252.5)"/><ellipse cx="2116.2" cy="169.9" rx="5.8" ry="3.8" fill="#0102ea" opacity="0.85" transform="rotate(-54 2116.2 169.9)"/><ellipse cx="1878.2" cy="188.4" rx="7.2" ry="5.1" fill="#060ce0" opacity="0.79" transform="rotate(19 1878.2 188.4)"/><ellipse cx="2157.4" cy="359.3" rx="9.7" ry="5.3" fill="#0204d7" opacity="0.83" transform="rotate(-31 2157.4 359.3)"/><ellipse cx="2040.3" cy="548.1" rx="6.7" ry="3.9" fill="#060ced" opacity="0.89" transform="rotate(-101 2040.3 548.1)"/><ellipse cx="2120.9" cy="485.5" rx="4.4" ry="3.6" fill="#1020d8" opacity="0.71" transform="rotate(-68 2120.9 485.5)"/><ellipse cx="1867.3" cy="500.4" rx="9.2" ry="5.5" fill="#0f1feb" opacity="0.81" transform="rotate(-41 1867.3 500.4)"/><ellipse cx="1773.8" cy="550.7" rx="6.6" ry="2.8" fill="#0d1bd9" opacity="0.85" transform="rotate(-17 1773.8 550.7)"/><ellipse cx="2072.5" cy="305.1" rx="5.9" ry="3.4" fill="#0f1ed9" opacity="0.84" transform="rotate(-51 2072.5 305.1)"/><ellipse cx="1987.9" cy="323.0" rx="6.4" ry="3.3" fill="#0409fd" opacity="0.79" transform="rotate(4 1987.9 323.0)"/><ellipse cx="1956.1" cy="309.8" rx="6.6" ry="3.4" fill="#0a14fd" opacity="0.74" transform="rotate(-109 1956.1 309.8)"/><ellipse cx="2144.0" cy="412.6" rx="6.1" ry="2.8" fill="#0b17e0" opacity="0.71" transform="rotate(-76 2144.0 412.6)"/><ellipse cx="2000.0" cy="208.5" rx="4.8" ry="3.5" fill="#0205fa" opacity="0.94" transform="rotate(-25 2000.0 208.5)"/><ellipse cx="1957.7" cy="430.2" rx="4.6" ry="3.3" fill="#050afc" opacity="0.80" transform="rotate(-10 1957.7 430.2)"/><ellipse cx="1827.0" cy="451.0" rx="6.5" ry="4.4" fill="#0811e5" opacity="0.82" transform="rotate(-53 1827.0 451.0)"/><ellipse cx="1747.1" cy="540.3" rx="4.4" ry="3.1" fill="#1020ef" opacity="0.85" transform="rotate(-16 1747.1 540.3)"/><ellipse cx="2052.6" cy="426.3" rx="4.0" ry="4.3" fill="#0912d7" opacity="0.76" transform="rotate(-43 2052.6 426.3)"/><ellipse cx="1742.0" cy="355.4" rx="6.4" ry="4.7" fill="#070ff4" opacity="0.72" transform="rotate(-59 1742.0 355.4)"/><ellipse cx="1814.7" cy="254.8" rx="5.9" ry="3.6" fill="#0d1aef" opacity="0.83" transform="rotate(14 1814.7 254.8)"/><ellipse cx="1938.3" cy="233.5" rx="5.7" ry="3.1" fill="#060ce4" opacity="0.92" transform="rotate(-61 1938.3 233.5)"/><ellipse cx="1759.9" cy="271.5" rx="5.4" ry="3.3" fill="#0d1bf0" opacity="0.87" transform="rotate(-56 1759.9 271.5)"/><ellipse cx="1875.4" cy="466.5" rx="5.0" ry="3.4" fill="#0408e5" opacity="0.91" transform="rotate(-18 1875.4 466.5)"/><ellipse cx="1925.5" cy="369.9" rx="5.4" ry="3.2" fill="#0912d7" opacity="0.80" transform="rotate(-29 1925.5 369.9)"/><ellipse cx="1831.1" cy="257.3" rx="8.2" ry="5.1" fill="#070fe5" opacity="0.76" transform="rotate(-47 1831.1 257.3)"/><ellipse cx="2065.4" cy="557.8" rx="6.2" ry="4.1" fill="#050af1" opacity="0.72" transform="rotate(-63 2065.4 557.8)"/><ellipse cx="1875.7" cy="445.7" rx="4.9" ry="4.1" fill="#0306ee" opacity="0.92" transform="rotate(-20 1875.7 445.7)"/><ellipse cx="1882.0" cy="415.6" rx="7.9" ry="4.7" fill="#1123f2" opacity="0.82" transform="rotate(-14 1882.0 415.6)"/><ellipse cx="1924.7" cy="326.7" rx="8.6" ry="4.7" fill="#050bf3" opacity="0.95" transform="rotate(-80 1924.7 326.7)"/><ellipse cx="1802.3" cy="339.1" rx="9.1" ry="6.3" fill="#0913e6" opacity="0.78" transform="rotate(-87 1802.3 339.1)"/><ellipse cx="1939.5" cy="297.4" rx="5.1" ry="5.1" fill="#0205e3" opacity="0.94" transform="rotate(-33 1939.5 297.4)"/><ellipse cx="1881.0" cy="404.4" rx="6.0" ry="4.0" fill="#0c19f0" opacity="0.73" transform="rotate(-24 1881.0 404.4)"/><ellipse cx="1743.9" cy="574.0" rx="6.7" ry="3.5" fill="#060ddf" opacity="0.72" transform="rotate(-2 1743.9 574.0)"/><ellipse cx="2161.3" cy="349.1" rx="5.8" ry="3.3" fill="#050afb" opacity="0.89" transform="rotate(10 2161.3 349.1)"/><ellipse cx="2156.5" cy="224.8" rx="5.5" ry="4.2" fill="#0913fa" opacity="0.82" transform="rotate(-20 2156.5 224.8)"/><ellipse cx="2155.7" cy="461.4" rx="6.0" ry="3.6" fill="#0913e8" opacity="0.83" transform="rotate(-66 2155.7 461.4)"/><ellipse cx="1886.7" cy="539.4" rx="5.4" ry="2.9" fill="#0306f5" opacity="0.90" transform="rotate(-6 1886.7 539.4)"/><ellipse cx="2062.9" cy="552.4" rx="6.7" ry="4.3" fill="#060ce9" opacity="0.89" transform="rotate(4 2062.9 552.4)"/><ellipse cx="1857.8" cy="209.9" rx="6.1" ry="2.8" fill="#0d1be1" opacity="0.94" transform="rotate(-65 1857.8 209.9)"/><ellipse cx="1764.5" cy="289.8" rx="4.7" ry="3.7" fill="#0d1bef" opacity="0.87" transform="rotate(-42 1764.5 289.8)"/><ellipse cx="2094.2" cy="242.3" rx="5.3" ry="3.9" fill="#0e1cfa" opacity="0.95" transform="rotate(-57 2094.2 242.3)"/><ellipse cx="1775.0" cy="564.1" rx="5.8" ry="3.8" fill="#0001f7" opacity="0.79" transform="rotate(-87 1775.0 564.1)"/><ellipse cx="1936.3" cy="184.3" rx="5.9" ry="4.2" fill="#0c19d8" opacity="0.86" transform="rotate(-31 1936.3 184.3)"/><ellipse cx="2044.8" cy="512.4" rx="7.8" ry="3.7" fill="#070edb" opacity="0.86" transform="rotate(-39 2044.8 512.4)"/><ellipse cx="1850.0" cy="583.5" rx="7.3" ry="6.4" fill="#0913f1" opacity="0.71" transform="rotate(-83 1850.0 583.5)"/><ellipse cx="1760.5" cy="239.5" rx="5.6" ry="3.1" fill="#0f1fee" opacity="0.95" transform="rotate(-48 1760.5 239.5)"/><ellipse cx="1953.5" cy="397.4" rx="6.0" ry="5.4" fill="#0e1df9" opacity="0.89" transform="rotate(8 1953.5 397.4)"/><ellipse cx="1889.4" cy="289.9" rx="7.4" ry="6.2" fill="#1122e4" opacity="0.73" transform="rotate(-0 1889.4 289.9)"/><ellipse cx="2059.5" cy="286.5" rx="6.3" ry="4.3" fill="#0001e4" opacity="0.89" transform="rotate(-45 2059.5 286.5)"/><ellipse cx="1979.2" cy="408.3" rx="5.3" ry="3.0" fill="#070ff7" opacity="0.74" transform="rotate(-114 1979.2 408.3)"/><ellipse cx="1820.0" cy="231.4" rx="5.3" ry="2.9" fill="#0307d7" opacity="0.94" transform="rotate(-65 1820.0 231.4)"/><ellipse cx="1867.5" cy="422.7" rx="7.5" ry="5.4" fill="#0307db" opacity="0.91" transform="rotate(-83 1867.5 422.7)"/><ellipse cx="1835.1" cy="235.2" rx="7.1" ry="3.7" fill="#0810e0" opacity="0.81" transform="rotate(-26 1835.1 235.2)"/><ellipse cx="1834.1" cy="334.4" rx="9.6" ry="6.2" fill="#0810fa" opacity="0.75" transform="rotate(-9 1834.1 334.4)"/><ellipse cx="1887.5" cy="168.3" rx="4.0" ry="3.6" fill="#050be3" opacity="0.77" transform="rotate(-23 1887.5 168.3)"/><ellipse cx="1899.9" cy="340.6" rx="5.4" ry="4.0" fill="#0c18f1" opacity="0.92" transform="rotate(-98 1899.9 340.6)"/><ellipse cx="1963.1" cy="470.9" rx="9.8" ry="4.9" fill="#0409fc" opacity="0.79" transform="rotate(18 1963.1 470.9)"/><ellipse cx="2139.6" cy="305.2" rx="4.1" ry="4.2" fill="#0b16e0" opacity="0.79" transform="rotate(20 2139.6 305.2)"/><ellipse cx="2136.8" cy="283.1" rx="6.0" ry="3.3" fill="#0307e9" opacity="0.78" transform="rotate(-101 2136.8 283.1)"/><ellipse cx="2135.4" cy="188.8" rx="5.2" ry="3.9" fill="#1123f8" opacity="0.76" transform="rotate(-93 2135.4 188.8)"/><ellipse cx="2155.5" cy="465.2" rx="7.8" ry="4.9" fill="#0913e7" opacity="0.74" transform="rotate(-47 2155.5 465.2)"/><ellipse cx="2118.7" cy="351.9" rx="5.0" ry="3.7" fill="#0102f1" opacity="0.82" transform="rotate(-39 2118.7 351.9)"/><ellipse cx="2117.6" cy="176.6" rx="5.3" ry="2.8" fill="#0306f3" opacity="0.93" transform="rotate(-72 2117.6 176.6)"/><ellipse cx="2108.1" cy="400.8" rx="7.3" ry="6.4" fill="#0102db" opacity="0.83" transform="rotate(-64 2108.1 400.8)"/><ellipse cx="1997.1" cy="292.8" rx="5.2" ry="4.1" fill="#0e1dd8" opacity="0.83" transform="rotate(7 1997.1 292.8)"/><ellipse cx="1830.8" cy="403.1" rx="9.7" ry="4.9" fill="#0409dc" opacity="0.90" transform="rotate(-8 1830.8 403.1)"/><ellipse cx="2154.5" cy="544.9" rx="7.7" ry="3.8" fill="#0b17dc" opacity="0.86" transform="rotate(-35 2154.5 544.9)"/><ellipse cx="1987.0" cy="306.8" rx="8.7" ry="6.1" fill="#0000d8" opacity="0.74" transform="rotate(-26 1987.0 306.8)"/><ellipse cx="2022.9" cy="487.0" rx="5.2" ry="4.1" fill="#060cf9" opacity="0.86" transform="rotate(-64 2022.9 487.0)"/><ellipse cx="2149.7" cy="507.3" rx="6.2" ry="4.6" fill="#1021f8" opacity="0.89" transform="rotate(-82 2149.7 507.3)"/><ellipse cx="1967.0" cy="288.6" rx="6.2" ry="4.6" fill="#1123e6" opacity="0.84" transform="rotate(-19 1967.0 288.6)"/><ellipse cx="1777.2" cy="257.9" rx="5.1" ry="4.5" fill="#0810ec" opacity="0.95" transform="rotate(6 1777.2 257.9)"/><ellipse cx="2049.3" cy="218.6" rx="6.0" ry="3.5" fill="#0b17f9" opacity="0.83" transform="rotate(-80 2049.3 218.6)"/><ellipse cx="1995.5" cy="215.7" rx="5.4" ry="3.1" fill="#0103f8" opacity="0.79" transform="rotate(-94 1995.5 215.7)"/><ellipse cx="2048.5" cy="239.5" rx="4.2" ry="3.4" fill="#060cf0" opacity="0.89" transform="rotate(-25 2048.5 239.5)"/><ellipse cx="2029.5" cy="407.1" rx="6.6" ry="2.8" fill="#0409ff" opacity="0.93" transform="rotate(-80 2029.5 407.1)"/><ellipse cx="1858.2" cy="537.0" rx="4.5" ry="3.7" fill="#0408e5" opacity="0.78" transform="rotate(-23 1858.2 537.0)"/><ellipse cx="1891.5" cy="481.1" rx="6.3" ry="4.2" fill="#060cf2" opacity="0.88" transform="rotate(-78 1891.5 481.1)"/><ellipse cx="2106.0" cy="487.5" rx="5.1" ry="5.3" fill="#0a15e5" opacity="0.73" transform="rotate(-55 2106.0 487.5)"/><ellipse cx="1963.5" cy="561.6" rx="6.5" ry="3.0" fill="#050ae1" opacity="0.79" transform="rotate(-73 1963.5 561.6)"/><ellipse cx="1814.5" cy="556.2" rx="7.5" ry="4.4" fill="#060cec" opacity="0.84" transform="rotate(-35 1814.5 556.2)"/><ellipse cx="1771.1" cy="295.3" rx="5.9" ry="4.0" fill="#0a14e0" opacity="0.74" transform="rotate(-47 1771.1 295.3)"/><ellipse cx="2099.9" cy="385.1" rx="5.0" ry="4.0" fill="#0e1cdc" opacity="0.84" transform="rotate(7 2099.9 385.1)"/><ellipse cx="2055.0" cy="581.2" rx="4.9" ry="4.2" fill="#070fdc" opacity="0.86" transform="rotate(-75 2055.0 581.2)"/><ellipse cx="2072.3" cy="370.2" rx="6.3" ry="2.9" fill="#060df7" opacity="0.77" transform="rotate(-80 2072.3 370.2)"/><ellipse cx="1827.5" cy="456.9" rx="8.7" ry="4.7" fill="#060ddd" opacity="0.73" transform="rotate(-27 1827.5 456.9)"/><ellipse cx="2011.4" cy="329.3" rx="6.6" ry="4.5" fill="#0b16e6" opacity="0.86" transform="rotate(-39 2011.4 329.3)"/><ellipse cx="1829.2" cy="371.9" rx="5.4" ry="3.4" fill="#0b16e8" opacity="0.91" transform="rotate(-39 1829.2 371.9)"/><ellipse cx="2161.9" cy="425.7" rx="6.7" ry="4.1" fill="#0103e4" opacity="0.89" transform="rotate(-94 2161.9 425.7)"/><ellipse cx="2150.5" cy="354.3" rx="9.8" ry="6.4" fill="#0205e3" opacity="0.87" transform="rotate(-3 2150.5 354.3)"/><ellipse cx="1748.9" cy="585.0" rx="7.5" ry="4.7" fill="#1123e8" opacity="0.78" transform="rotate(-55 1748.9 585.0)"/><ellipse cx="2039.9" cy="375.2" rx="6.0" ry="4.8" fill="#0001f6" opacity="0.91" transform="rotate(-81 2039.9 375.2)"/><ellipse cx="2012.4" cy="520.6" rx="4.7" ry="3.3" fill="#060de5" opacity="0.87" transform="rotate(7 2012.4 520.6)"/><ellipse cx="2136.7" cy="220.2" rx="4.2" ry="2.9" fill="#0b17fe" opacity="0.95" transform="rotate(-33 2136.7 220.2)"/><ellipse cx="2152.2" cy="529.9" rx="5.5" ry="3.2" fill="#0f1ff1" opacity="0.81" transform="rotate(-20 2152.2 529.9)"/><ellipse cx="1749.4" cy="559.8" rx="4.0" ry="3.6" fill="#0409e5" opacity="0.92" transform="rotate(-24 1749.4 559.8)"/><ellipse cx="2086.9" cy="537.1" rx="4.5" ry="4.3" fill="#0103f5" opacity="0.74" transform="rotate(-74 2086.9 537.1)"/><ellipse cx="1776.5" cy="544.2" rx="6.7" ry="3.1" fill="#0a14da" opacity="0.72" transform="rotate(-61 1776.5 544.2)"/><ellipse cx="1882.1" cy="229.4" rx="5.8" ry="3.8" fill="#070edc" opacity="0.79" transform="rotate(-57 1882.1 229.4)"/><ellipse cx="2035.4" cy="447.7" rx="6.0" ry="3.9" fill="#1123f2" opacity="0.93" transform="rotate(-2 2035.4 447.7)"/><ellipse cx="2069.5" cy="202.4" rx="5.9" ry="3.6" fill="#0d1be7" opacity="0.77" transform="rotate(-42 2069.5 202.4)"/><ellipse cx="1867.8" cy="239.2" rx="6.2" ry="3.6" fill="#0000f2" opacity="0.89" transform="rotate(-88 1867.8 239.2)"/><ellipse cx="1804.9" cy="581.3" rx="5.5" ry="3.5" fill="#1122df" opacity="0.73" transform="rotate(-111 1804.9 581.3)"/><ellipse cx="1803.4" cy="555.1" rx="5.5" ry="3.7" fill="#0205f9" opacity="0.77" transform="rotate(-69 1803.4 555.1)"/><ellipse cx="1809.4" cy="517.6" rx="7.1" ry="5.1" fill="#0810fc" opacity="0.91" transform="rotate(-22 1809.4 517.6)"/><ellipse cx="1902.3" cy="228.8" rx="5.3" ry="3.2" fill="#0d1af4" opacity="0.93" transform="rotate(-21 1902.3 228.8)"/><ellipse cx="1893.2" cy="265.8" rx="8.1" ry="4.9" fill="#0d1adb" opacity="0.83" transform="rotate(-21 1893.2 265.8)"/><ellipse cx="2079.2" cy="192.4" rx="4.8" ry="4.3" fill="#0103f4" opacity="0.87" transform="rotate(-14 2079.2 192.4)"/><ellipse cx="1880.3" cy="436.9" rx="8.0" ry="4.7" fill="#0d1beb" opacity="0.94" transform="rotate(-93 1880.3 436.9)"/><ellipse cx="2079.7" cy="466.6" rx="5.1" ry="3.7" fill="#0306e4" opacity="0.93" transform="rotate(-98 2079.7 466.6)"/><ellipse cx="2052.3" cy="229.9" rx="7.3" ry="4.7" fill="#0b17ea" opacity="0.92" transform="rotate(-39 2052.3 229.9)"/><ellipse cx="1848.3" cy="236.4" rx="6.1" ry="3.5" fill="#0b17f4" opacity="0.95" transform="rotate(-50 1848.3 236.4)"/><ellipse cx="2002.3" cy="370.1" rx="5.4" ry="3.8" fill="#0307e5" opacity="0.73" transform="rotate(-89 2002.3 370.1)"/><ellipse cx="1960.6" cy="189.1" rx="4.9" ry="2.8" fill="#1021e0" opacity="0.95" transform="rotate(-63 1960.6 189.1)"/><ellipse cx="2075.4" cy="485.4" rx="6.4" ry="3.0" fill="#060dfa" opacity="0.93" transform="rotate(-59 2075.4 485.4)"/><ellipse cx="1929.2" cy="351.6" rx="7.7" ry="4.8" fill="#1020e6" opacity="0.89" transform="rotate(-25 1929.2 351.6)"/><ellipse cx="2106.0" cy="517.3" rx="8.9" ry="6.1" fill="#0c19ef" opacity="0.72" transform="rotate(-109 2106.0 517.3)"/><ellipse cx="1865.7" cy="543.2" rx="4.3" ry="3.1" fill="#0103e8" opacity="0.95" transform="rotate(-13 1865.7 543.2)"/><ellipse cx="1978.8" cy="346.2" rx="7.9" ry="5.3" fill="#0408ed" opacity="0.93" transform="rotate(-29 1978.8 346.2)"/><ellipse cx="2070.1" cy="534.9" rx="9.3" ry="4.5" fill="#0103fc" opacity="0.83" transform="rotate(-75 2070.1 534.9)"/><ellipse cx="1984.0" cy="475.2" rx="5.6" ry="3.7" fill="#0c18db" opacity="0.72" transform="rotate(-35 1984.0 475.2)"/><ellipse cx="2161.2" cy="197.4" rx="6.9" ry="3.6" fill="#070ff9" opacity="0.76" transform="rotate(-20 2161.2 197.4)"/><ellipse cx="2042.7" cy="189.6" rx="5.5" ry="4.0" fill="#0103e3" opacity="0.87" transform="rotate(17 2042.7 189.6)"/><ellipse cx="1909.4" cy="470.0" rx="8.3" ry="4.0" fill="#0913f9" opacity="0.76" transform="rotate(-56 1909.4 470.0)"/><ellipse cx="1950.3" cy="518.9" rx="4.5" ry="3.4" fill="#0b17f4" opacity="0.83" transform="rotate(5 1950.3 518.9)"/><ellipse cx="1898.4" cy="296.9" rx="6.5" ry="3.6" fill="#0d1afd" opacity="0.87" transform="rotate(-48 1898.4 296.9)"/><ellipse cx="1859.9" cy="363.6" rx="4.2" ry="3.5" fill="#0a14ef" opacity="0.75" transform="rotate(13 1859.9 363.6)"/><ellipse cx="2030.7" cy="518.2" rx="4.0" ry="3.6" fill="#0c19e4" opacity="0.79" transform="rotate(-52 2030.7 518.2)"/><ellipse cx="1753.0" cy="218.9" rx="6.5" ry="5.9" fill="#050be5" opacity="0.89" transform="rotate(-49 1753.0 218.9)"/><ellipse cx="2025.3" cy="550.0" rx="4.2" ry="4.1" fill="#0409f9" opacity="0.87" transform="rotate(-88 2025.3 550.0)"/><ellipse cx="2103.2" cy="171.1" rx="6.6" ry="4.3" fill="#0c19ef" opacity="0.74" transform="rotate(-57 2103.2 171.1)"/><ellipse cx="1905.1" cy="279.4" rx="5.8" ry="3.5" fill="#070fe9" opacity="0.84" transform="rotate(12 1905.1 279.4)"/><ellipse cx="2100.1" cy="478.4" rx="6.0" ry="5.2" fill="#060cfd" opacity="0.79" transform="rotate(-35 2100.1 478.4)"/><ellipse cx="2130.9" cy="170.9" rx="6.0" ry="5.6" fill="#0001e6" opacity="0.79" transform="rotate(-19 2130.9 170.9)"/><ellipse cx="2113.4" cy="536.3" rx="6.4" ry="3.7" fill="#1021f6" opacity="0.83" transform="rotate(-25 2113.4 536.3)"/><ellipse cx="2092.3" cy="211.6" rx="6.6" ry="4.2" fill="#0103e6" opacity="0.93" transform="rotate(-84 2092.3 211.6)"/><ellipse cx="1935.4" cy="401.4" rx="4.7" ry="4.1" fill="#060de1" opacity="0.89" transform="rotate(-65 1935.4 401.4)"/><ellipse cx="1830.1" cy="325.9" rx="9.7" ry="4.3" fill="#0e1de1" opacity="0.92" transform="rotate(-57 1830.1 325.9)"/><ellipse cx="2071.6" cy="170.3" rx="5.3" ry="3.5" fill="#060ceb" opacity="0.72" transform="rotate(-51 2071.6 170.3)"/><ellipse cx="2085.7" cy="472.7" rx="6.7" ry="4.2" fill="#0205df" opacity="0.88" transform="rotate(-18 2085.7 472.7)"/><ellipse cx="1986.3" cy="512.8" rx="9.4" ry="5.2" fill="#0811dc" opacity="0.94" transform="rotate(-86 1986.3 512.8)"/><ellipse cx="1941.8" cy="182.3" rx="4.6" ry="4.0" fill="#0912fc" opacity="0.80" transform="rotate(-14 1941.8 182.3)"/><ellipse cx="1849.4" cy="549.1" rx="9.9" ry="6.4" fill="#0b17d7" opacity="0.81" transform="rotate(-20 1849.4 549.1)"/><ellipse cx="1906.9" cy="298.4" rx="7.6" ry="4.6" fill="#0810e3" opacity="0.75" transform="rotate(-76 1906.9 298.4)"/><ellipse cx="2106.3" cy="540.1" rx="6.3" ry="3.5" fill="#0e1cd9" opacity="0.87" transform="rotate(-67 2106.3 540.1)"/><ellipse cx="2132.8" cy="313.8" rx="5.4" ry="3.6" fill="#070fee" opacity="0.78" transform="rotate(-58 2132.8 313.8)"/><ellipse cx="1800.6" cy="212.4" rx="9.3" ry="5.0" fill="#0204e1" opacity="0.79" transform="rotate(-37 1800.6 212.4)"/><ellipse cx="1891.7" cy="525.7" rx="5.3" ry="3.4" fill="#0f1ee1" opacity="0.74" transform="rotate(-66 1891.7 525.7)"/><ellipse cx="2057.8" cy="179.1" rx="5.6" ry="3.2" fill="#0103ed" opacity="0.80" transform="rotate(-19 2057.8 179.1)"/><ellipse cx="1980.8" cy="419.7" rx="6.5" ry="3.8" fill="#0306fd" opacity="0.78" transform="rotate(-15 1980.8 419.7)"/><ellipse cx="1965.4" cy="517.4" rx="5.4" ry="3.9" fill="#0103f4" opacity="0.86" transform="rotate(-91 1965.4 517.4)"/><ellipse cx="1778.0" cy="466.4" rx="6.3" ry="4.1" fill="#060cdd" opacity="0.88" transform="rotate(-65 1778.0 466.4)"/><ellipse cx="1920.8" cy="472.4" rx="9.7" ry="5.6" fill="#0001fd" opacity="0.71" transform="rotate(5 1920.8 472.4)"/><ellipse cx="2139.6" cy="254.8" rx="8.2" ry="5.1" fill="#0409d8" opacity="0.93" transform="rotate(-78 2139.6 254.8)"/><ellipse cx="2016.1" cy="202.3" rx="5.4" ry="3.0" fill="#0307e0" opacity="0.79" transform="rotate(0 2016.1 202.3)"/><ellipse cx="1891.4" cy="410.5" rx="7.6" ry="3.7" fill="#0408e7" opacity="0.78" transform="rotate(-62 1891.4 410.5)"/><ellipse cx="2163.3" cy="348.2" rx="6.2" ry="3.9" fill="#0102e5" opacity="0.71" transform="rotate(-52 2163.3 348.2)"/><ellipse cx="1747.4" cy="233.2" rx="8.0" ry="5.1" fill="#0912dd" opacity="0.86" transform="rotate(-7 1747.4 233.2)"/><ellipse cx="1760.3" cy="487.2" rx="7.9" ry="4.7" fill="#050adf" opacity="0.90" transform="rotate(-96 1760.3 487.2)"/><ellipse cx="2114.3" cy="552.9" rx="5.9" ry="4.9" fill="#0a14e4" opacity="0.86" transform="rotate(-35 2114.3 552.9)"/><ellipse cx="1844.5" cy="228.5" rx="8.1" ry="4.4" fill="#050ae7" opacity="0.94" transform="rotate(-58 1844.5 228.5)"/><ellipse cx="1797.0" cy="429.4" rx="5.4" ry="3.1" fill="#1123da" opacity="0.87" transform="rotate(55 1797.0 429.4)"/><ellipse cx="2040.3" cy="346.3" rx="4.9" ry="3.1" fill="#070efd" opacity="0.87" transform="rotate(-86 2040.3 346.3)"/><ellipse cx="1967.4" cy="407.0" rx="6.1" ry="3.8" fill="#1123e9" opacity="0.76" transform="rotate(-37 1967.4 407.0)"/><ellipse cx="1974.2" cy="400.3" rx="6.1" ry="4.1" fill="#060cf8" opacity="0.74" transform="rotate(1 1974.2 400.3)"/><ellipse cx="1905.5" cy="571.5" rx="5.6" ry="3.0" fill="#0205e6" opacity="0.89" transform="rotate(-103 1905.5 571.5)"/><ellipse cx="2058.3" cy="421.8" rx="5.8" ry="5.1" fill="#0307e5" opacity="0.80" transform="rotate(2 2058.3 421.8)"/><ellipse cx="1946.7" cy="305.0" rx="6.3" ry="4.1" fill="#0a14ee" opacity="0.85" transform="rotate(-82 1946.7 305.0)"/><ellipse cx="1872.3" cy="583.2" rx="6.3" ry="4.0" fill="#0e1ce3" opacity="0.77" transform="rotate(-25 1872.3 583.2)"/><ellipse cx="1831.7" cy="309.3" rx="4.0" ry="3.7" fill="#0b16ed" opacity="0.86" transform="rotate(-57 1831.7 309.3)"/><ellipse cx="1970.9" cy="437.9" rx="8.6" ry="4.8" fill="#1123e2" opacity="0.91" transform="rotate(-99 1970.9 437.9)"/><ellipse cx="1874.0" cy="527.4" rx="4.6" ry="4.2" fill="#0a15e4" opacity="0.88" transform="rotate(-23 1874.0 527.4)"/><ellipse cx="1869.9" cy="312.5" rx="5.8" ry="3.4" fill="#050ae3" opacity="0.86" transform="rotate(-82 1869.9 312.5)"/><ellipse cx="1970.9" cy="298.5" rx="5.0" ry="4.4" fill="#0d1bef" opacity="0.87" transform="rotate(-49 1970.9 298.5)"/><ellipse cx="1956.6" cy="191.6" rx="5.1" ry="4.0" fill="#0e1dff" opacity="0.90" transform="rotate(-96 1956.6 191.6)"/><ellipse cx="1984.0" cy="223.0" rx="4.6" ry="2.9" fill="#0a14ef" opacity="0.91" transform="rotate(-107 1984.0 223.0)"/><ellipse cx="2139.0" cy="340.6" rx="6.6" ry="4.1" fill="#0205dc" opacity="0.92" transform="rotate(-11 2139.0 340.6)"/><ellipse cx="1980.0" cy="404.3" rx="4.1" ry="2.8" fill="#0205da" opacity="0.76" transform="rotate(-30 1980.0 404.3)"/><ellipse cx="2094.0" cy="256.6" rx="8.4" ry="4.7" fill="#0306e4" opacity="0.84" transform="rotate(-13 2094.0 256.6)"/><ellipse cx="2046.6" cy="523.4" rx="6.2" ry="5.0" fill="#0000ec" opacity="0.82" transform="rotate(-102 2046.6 523.4)"/><ellipse cx="2074.7" cy="338.4" rx="6.4" ry="4.4" fill="#0c19e9" opacity="0.89" transform="rotate(-74 2074.7 338.4)"/><ellipse cx="2049.7" cy="523.5" rx="7.6" ry="3.8" fill="#0c19e7" opacity="0.92" transform="rotate(-109 2049.7 523.5)"/><ellipse cx="1993.9" cy="238.2" rx="4.7" ry="3.7" fill="#050ae2" opacity="0.86" transform="rotate(-40 1993.9 238.2)"/><ellipse cx="1819.0" cy="200.1" rx="4.2" ry="3.4" fill="#0103fd" opacity="0.86" transform="rotate(12 1819.0 200.1)"/><ellipse cx="2142.2" cy="489.2" rx="4.4" ry="4.1" fill="#0f1ef4" opacity="0.95" transform="rotate(-64 2142.2 489.2)"/><ellipse cx="2088.1" cy="481.1" rx="10.0" ry="5.9" fill="#0a15d8" opacity="0.75" transform="rotate(-101 2088.1 481.1)"/><ellipse cx="1948.5" cy="268.6" rx="4.7" ry="3.3" fill="#0205e4" opacity="0.88" transform="rotate(-39 1948.5 268.6)"/><ellipse cx="1997.0" cy="495.4" rx="5.9" ry="4.1" fill="#0b16f7" opacity="0.78" transform="rotate(25 1997.0 495.4)"/><ellipse cx="1906.4" cy="235.5" rx="9.7" ry="5.5" fill="#1021ed" opacity="0.76" transform="rotate(-82 1906.4 235.5)"/><ellipse cx="1902.8" cy="282.3" rx="5.4" ry="4.9" fill="#0d1af7" opacity="0.87" transform="rotate(-67 1902.8 282.3)"/><ellipse cx="1759.9" cy="491.0" rx="5.1" ry="3.5" fill="#0d1bf9" opacity="0.93" transform="rotate(-5 1759.9 491.0)"/><ellipse cx="2049.7" cy="263.7" rx="6.7" ry="3.7" fill="#0c18e0" opacity="0.86" transform="rotate(-68 2049.7 263.7)"/><ellipse cx="2001.8" cy="356.7" rx="6.5" ry="3.0" fill="#0b17d8" opacity="0.79" transform="rotate(-21 2001.8 356.7)"/><ellipse cx="1814.8" cy="167.1" rx="6.0" ry="2.8" fill="#0d1af0" opacity="0.94" transform="rotate(-22 1814.8 167.1)"/><ellipse cx="2074.7" cy="400.6" rx="6.6" ry="3.9" fill="#0306f8" opacity="0.83" transform="rotate(-49 2074.7 400.6)"/><ellipse cx="1894.8" cy="483.4" rx="5.2" ry="5.2" fill="#0b16d9" opacity="0.83" transform="rotate(-59 1894.8 483.4)"/><ellipse cx="1809.3" cy="454.1" rx="4.6" ry="3.3" fill="#0913f7" opacity="0.73" transform="rotate(-79 1809.3 454.1)"/><ellipse cx="1864.3" cy="539.0" rx="6.5" ry="5.1" fill="#1021dc" opacity="0.88" transform="rotate(-83 1864.3 539.0)"/><ellipse cx="1815.4" cy="256.0" rx="4.6" ry="3.0" fill="#050ae2" opacity="0.86" transform="rotate(-74 1815.4 256.0)"/><ellipse cx="1916.9" cy="344.1" rx="5.5" ry="3.3" fill="#0a15e3" opacity="0.75" transform="rotate(-27 1916.9 344.1)"/><ellipse cx="2031.1" cy="326.8" rx="4.4" ry="3.3" fill="#0000f6" opacity="0.78" transform="rotate(-36 2031.1 326.8)"/><ellipse cx="2118.8" cy="383.8" rx="4.6" ry="4.2" fill="#0810ed" opacity="0.74" transform="rotate(-5 2118.8 383.8)"/><ellipse cx="1950.7" cy="381.0" rx="4.8" ry="3.4" fill="#0d1bf3" opacity="0.72" transform="rotate(-67 1950.7 381.0)"/><ellipse cx="2012.2" cy="581.7" rx="5.6" ry="3.5" fill="#050be6" opacity="0.84" transform="rotate(-84 2012.2 581.7)"/><ellipse cx="2160.5" cy="312.1" rx="4.4" ry="4.0" fill="#050bfb" opacity="0.76" transform="rotate(-36 2160.5 312.1)"/><ellipse cx="1947.9" cy="295.1" rx="6.4" ry="2.8" fill="#060dd9" opacity="0.91" transform="rotate(-69 1947.9 295.1)"/><ellipse cx="1796.3" cy="351.1" rx="7.2" ry="4.8" fill="#0408ed" opacity="0.78" transform="rotate(-6 1796.3 351.1)"/><ellipse cx="1850.1" cy="172.9" rx="5.2" ry="5.1" fill="#070eed" opacity="0.93" transform="rotate(-53 1850.1 172.9)"/><ellipse cx="1889.7" cy="449.0" rx="7.5" ry="4.0" fill="#0204f7" opacity="0.80" transform="rotate(67 1889.7 449.0)"/><ellipse cx="1764.2" cy="489.7" rx="4.7" ry="4.0" fill="#0103f1" opacity="0.83" transform="rotate(-81 1764.2 489.7)"/><ellipse cx="2083.9" cy="165.3" rx="10.0" ry="5.3" fill="#0307ee" opacity="0.81" transform="rotate(-72 2083.9 165.3)"/><ellipse cx="2092.1" cy="389.0" rx="4.3" ry="2.9" fill="#060df8" opacity="0.73" transform="rotate(-93 2092.1 389.0)"/><ellipse cx="1805.3" cy="420.8" rx="6.4" ry="3.4" fill="#070fe7" opacity="0.73" transform="rotate(16 1805.3 420.8)"/><ellipse cx="1834.7" cy="289.9" rx="5.8" ry="4.3" fill="#0a14f6" opacity="0.90" transform="rotate(-55 1834.7 289.9)"/><ellipse cx="2064.3" cy="483.3" rx="6.2" ry="4.0" fill="#0d1aee" opacity="0.85" transform="rotate(-43 2064.3 483.3)"/><ellipse cx="2010.6" cy="581.9" rx="6.0" ry="3.2" fill="#0e1dfa" opacity="0.90" transform="rotate(-53 2010.6 581.9)"/><ellipse cx="1805.6" cy="275.9" rx="5.3" ry="3.3" fill="#070ef3" opacity="0.91" transform="rotate(-77 1805.6 275.9)"/><ellipse cx="2141.3" cy="516.4" rx="6.3" ry="3.3" fill="#0204f7" opacity="0.94" transform="rotate(-14 2141.3 516.4)"/><ellipse cx="2069.1" cy="377.1" rx="9.1" ry="4.6" fill="#0d1bf5" opacity="0.92" transform="rotate(-23 2069.1 377.1)"/><ellipse cx="1894.1" cy="504.9" rx="7.1" ry="5.0" fill="#070ff1" opacity="0.73" transform="rotate(4 1894.1 504.9)"/><ellipse cx="1939.5" cy="528.1" rx="4.0" ry="4.1" fill="#0810f7" opacity="0.87" transform="rotate(-82 1939.5 528.1)"/><ellipse cx="2027.3" cy="356.0" rx="5.2" ry="3.4" fill="#0c19f4" opacity="0.93" transform="rotate(-103 2027.3 356.0)"/><ellipse cx="1942.6" cy="269.2" rx="9.3" ry="5.2" fill="#0b17f2" opacity="0.74" transform="rotate(-19 1942.6 269.2)"/><ellipse cx="1828.8" cy="436.0" rx="6.7" ry="3.7" fill="#0810f6" opacity="0.75" transform="rotate(-56 1828.8 436.0)"/><ellipse cx="2001.4" cy="576.8" rx="4.5" ry="3.0" fill="#0b17e9" opacity="0.74" transform="rotate(-80 2001.4 576.8)"/><ellipse cx="1771.9" cy="383.9" rx="5.8" ry="3.1" fill="#0e1cde" opacity="0.79" transform="rotate(-44 1771.9 383.9)"/><ellipse cx="1744.1" cy="253.7" rx="4.1" ry="4.0" fill="#0e1de4" opacity="0.75" transform="rotate(-44 1744.1 253.7)"/><ellipse cx="1836.1" cy="290.6" rx="6.7" ry="6.2" fill="#0913da" opacity="0.89" transform="rotate(-89 1836.1 290.6)"/><ellipse cx="1969.1" cy="368.0" rx="5.5" ry="3.9" fill="#0913dd" opacity="0.83" transform="rotate(-62 1969.1 368.0)"/><ellipse cx="2028.2" cy="444.9" rx="5.7" ry="3.7" fill="#1021e7" opacity="0.82" transform="rotate(-45 2028.2 444.9)"/><ellipse cx="1833.4" cy="238.5" rx="6.5" ry="3.3" fill="#0b16fe" opacity="0.84" transform="rotate(-76 1833.4 238.5)"/><ellipse cx="2104.6" cy="254.8" rx="4.8" ry="4.3" fill="#0103f2" opacity="0.91" transform="rotate(-25 2104.6 254.8)"/><ellipse cx="1928.3" cy="552.1" rx="5.6" ry="3.4" fill="#0f1ff6" opacity="0.89" transform="rotate(-87 1928.3 552.1)"/><ellipse cx="1838.6" cy="274.9" rx="8.3" ry="5.3" fill="#0d1adf" opacity="0.72" transform="rotate(-76 1838.6 274.9)"/><ellipse cx="2052.2" cy="518.4" rx="5.4" ry="3.6" fill="#0d1bef" opacity="0.80" transform="rotate(-30 2052.2 518.4)"/><ellipse cx="2046.7" cy="260.7" rx="6.5" ry="4.2" fill="#0000dc" opacity="0.73" transform="rotate(-99 2046.7 260.7)"/><ellipse cx="1994.3" cy="451.1" rx="4.5" ry="2.9" fill="#0913f9" opacity="0.85" transform="rotate(-72 1994.3 451.1)"/><ellipse cx="2034.1" cy="494.1" rx="8.2" ry="4.9" fill="#0d1ade" opacity="0.93" transform="rotate(-94 2034.1 494.1)"/><ellipse cx="2044.1" cy="232.9" rx="5.1" ry="3.2" fill="#0204ef" opacity="0.89" transform="rotate(-49 2044.1 232.9)"/><ellipse cx="2159.1" cy="550.7" rx="6.7" ry="4.1" fill="#0e1cea" opacity="0.93" transform="rotate(-153 2159.1 550.7)"/><ellipse cx="2161.4" cy="503.4" rx="5.5" ry="4.5" fill="#0a14df" opacity="0.74" transform="rotate(-84 2161.4 503.4)"/><ellipse cx="2039.7" cy="382.9" rx="6.2" ry="2.9" fill="#0912ed" opacity="0.85" transform="rotate(-56 2039.7 382.9)"/><ellipse cx="1802.8" cy="506.3" rx="5.2" ry="3.9" fill="#0913ea" opacity="0.72" transform="rotate(-36 1802.8 506.3)"/><ellipse cx="2111.6" cy="232.0" rx="6.0" ry="4.2" fill="#0f1efc" opacity="0.75" transform="rotate(-13 2111.6 232.0)"/><ellipse cx="1980.2" cy="522.0" rx="4.9" ry="4.3" fill="#0204f4" opacity="0.88" transform="rotate(-74 1980.2 522.0)"/><ellipse cx="2017.7" cy="356.6" rx="4.7" ry="3.8" fill="#1020ea" opacity="0.91" transform="rotate(-76 2017.7 356.6)"/><ellipse cx="2022.6" cy="555.4" rx="6.1" ry="3.3" fill="#1123f2" opacity="0.72" transform="rotate(-57 2022.6 555.4)"/><ellipse cx="2027.1" cy="509.8" rx="4.1" ry="3.5" fill="#0f1fdf" opacity="0.91" transform="rotate(-58 2027.1 509.8)"/><ellipse cx="1894.5" cy="296.3" rx="4.8" ry="3.8" fill="#050be6" opacity="0.72" transform="rotate(-45 1894.5 296.3)"/><ellipse cx="2153.2" cy="377.8" rx="7.3" ry="4.3" fill="#0c19e0" opacity="0.92" transform="rotate(-70 2153.2 377.8)"/><ellipse cx="1849.2" cy="547.4" rx="4.9" ry="3.2" fill="#0b17dd" opacity="0.84" transform="rotate(-84 1849.2 547.4)"/><ellipse cx="1871.9" cy="343.0" rx="6.3" ry="4.6" fill="#0d1ae7" opacity="0.85" transform="rotate(-104 1871.9 343.0)"/><ellipse cx="1984.1" cy="429.4" rx="4.0" ry="3.2" fill="#0a15f4" opacity="0.88" transform="rotate(-69 1984.1 429.4)"/><ellipse cx="2069.2" cy="242.4" rx="8.0" ry="6.3" fill="#1020f8" opacity="0.79" transform="rotate(-32 2069.2 242.4)"/><ellipse cx="1808.8" cy="491.8" rx="6.6" ry="4.2" fill="#0a14e0" opacity="0.94" transform="rotate(-61 1808.8 491.8)"/><ellipse cx="1923.4" cy="282.6" rx="6.3" ry="3.6" fill="#1020ee" opacity="0.84" transform="rotate(-48 1923.4 282.6)"/><ellipse cx="2070.2" cy="241.7" rx="4.7" ry="3.0" fill="#0912ef" opacity="0.80" transform="rotate(-10 2070.2 241.7)"/><ellipse cx="1843.9" cy="358.8" rx="4.0" ry="4.2" fill="#0001dd" opacity="0.80" transform="rotate(-77 1843.9 358.8)"/><ellipse cx="2058.8" cy="419.4" rx="5.9" ry="3.5" fill="#0306f6" opacity="0.77" transform="rotate(-36 2058.8 419.4)"/><ellipse cx="1963.2" cy="225.3" rx="5.1" ry="3.2" fill="#070fdb" opacity="0.74" transform="rotate(-103 1963.2 225.3)"/><ellipse cx="1818.0" cy="242.4" rx="8.2" ry="4.6" fill="#070fe2" opacity="0.80" transform="rotate(-36 1818.0 242.4)"/><ellipse cx="1887.6" cy="319.4" rx="5.7" ry="3.9" fill="#0103e3" opacity="0.71" transform="rotate(-79 1887.6 319.4)"/><ellipse cx="1768.1" cy="202.1" rx="9.2" ry="4.3" fill="#0e1cfa" opacity="0.86" transform="rotate(-45 1768.1 202.1)"/><ellipse cx="1998.3" cy="436.7" rx="5.4" ry="4.8" fill="#0409d9" opacity="0.84" transform="rotate(-67 1998.3 436.7)"/><ellipse cx="1800.3" cy="514.0" rx="9.5" ry="5.1" fill="#060de2" opacity="0.89" transform="rotate(-25 1800.3 514.0)"/><ellipse cx="1993.6" cy="265.8" rx="6.1" ry="3.4" fill="#0a14da" opacity="0.81" transform="rotate(-22 1993.6 265.8)"/><ellipse cx="2027.4" cy="341.8" rx="8.6" ry="4.4" fill="#0000f9" opacity="0.87" transform="rotate(-44 2027.4 341.8)"/><ellipse cx="2065.3" cy="502.2" rx="6.6" ry="3.7" fill="#0204f8" opacity="0.84" transform="rotate(-84 2065.3 502.2)"/><ellipse cx="2000.2" cy="471.2" rx="4.7" ry="3.1" fill="#0409e3" opacity="0.90" transform="rotate(-24 2000.2 471.2)"/><ellipse cx="1865.6" cy="291.9" rx="4.2" ry="3.1" fill="#0103dc" opacity="0.72" transform="rotate(-45 1865.6 291.9)"/><ellipse cx="2123.2" cy="404.9" rx="7.9" ry="5.9" fill="#0102f8" opacity="0.76" transform="rotate(-78 2123.2 404.9)"/><ellipse cx="1821.2" cy="335.5" rx="4.2" ry="3.6" fill="#0913f2" opacity="0.93" transform="rotate(-46 1821.2 335.5)"/><ellipse cx="2158.1" cy="390.1" rx="4.9" ry="2.9" fill="#0001d8" opacity="0.95" transform="rotate(-27 2158.1 390.1)"/><ellipse cx="1830.2" cy="453.2" rx="6.3" ry="4.1" fill="#070ef5" opacity="0.95" transform="rotate(-12 1830.2 453.2)"/><ellipse cx="1768.9" cy="396.5" rx="7.6" ry="4.1" fill="#1123fd" opacity="0.92" transform="rotate(-1 1768.9 396.5)"/><ellipse cx="1927.5" cy="226.9" rx="9.8" ry="5.2" fill="#0409e3" opacity="0.72" transform="rotate(-55 1927.5 226.9)"/><ellipse cx="2008.5" cy="355.0" rx="7.8" ry="3.7" fill="#1020fb" opacity="0.90" transform="rotate(25 2008.5 355.0)"/><ellipse cx="2092.2" cy="176.8" rx="5.9" ry="3.9" fill="#0912ea" opacity="0.88" transform="rotate(-51 2092.2 176.8)"/><ellipse cx="2079.1" cy="294.6" rx="7.1" ry="4.9" fill="#0306f8" opacity="0.79" transform="rotate(-45 2079.1 294.6)"/><ellipse cx="2019.4" cy="425.7" rx="6.6" ry="4.0" fill="#0a15f1" opacity="0.72" transform="rotate(-118 2019.4 425.7)"/><ellipse cx="2091.0" cy="503.7" rx="4.8" ry="3.9" fill="#0102dc" opacity="0.91" transform="rotate(-46 2091.0 503.7)"/><ellipse cx="1948.5" cy="380.4" rx="7.3" ry="3.8" fill="#0d1ae2" opacity="0.81" transform="rotate(-50 1948.5 380.4)"/><ellipse cx="1960.8" cy="399.0" rx="6.2" ry="4.3" fill="#060ce0" opacity="0.79" transform="rotate(-18 1960.8 399.0)"/></g></g><polygon points="1881.1,203.5 1901.8,201.7 1896.3,198.0 1927.0,181.0 1924.4,176.4 1893.8,193.5 1893.6,186.8" fill="#fff"/><polygon points="1835.4,247.4 1856.2,246.0 1850.7,242.2 1881.2,225.9 1878.8,221.3 1848.3,237.6 1848.2,231.0" fill="#fff"/><polygon points="1843.5,270.0 1864.2,267.9 1858.7,264.3 1888.6,247.1 1886.0,242.5 1856.1,259.8 1855.7,253.2" fill="#fff"/><polygon points="1972.5,317.9 1993.2,316.1 1987.7,312.4 2018.4,295.4 2015.8,290.8 1985.2,307.9 1985.0,301.2" fill="#fff"/><polygon points="1873.8,407.5 1894.5,405.8 1889.1,402.1 1920.4,384.9 1917.8,380.3 1886.6,397.5 1886.4,390.9" fill="#fff"/><polygon points="1950.6,416.2 1971.3,414.5 1965.9,410.8 1996.5,394.0 1993.9,389.4 1963.4,406.2 1963.2,399.6" fill="#fff"/></g><g fill="none" stroke="#6a6a6a" stroke-width="1.05" stroke-linecap="round" stroke-linejoin="round">
<path d="M121.5,972.6C117.9,968.9 106.9,956 100.3,950.8C93.8,945.7 87,943.8 82.2,941.8C77.5,939.8 73.4,940 71.7,938.8C69.9,937.5 69.4,935.3 71.7,934.2C73.9,933.2 84.2,935.8 85.3,932.7C86.3,929.7 79.3,922.2 77.7,916.1C76.1,910.1 75.1,903.3 75.6,896.5C76.1,889.7 77.1,882.5 80.7,875.4C84.3,868.4 91,859.8 97.3,854.3C103.6,848.8 110.4,845.8 118.4,842.2C126.5,838.7 135.5,835.4 145.6,833.2C155.6,830.9 166.2,830.2 178.8,828.7C191.3,827.2 206.9,825.8 221,824.1C235.1,822.5 252.2,820.1 263.2,818.7C274.3,817.3 279.3,816.2 287.4,815.7C295.4,815.2 302.5,815.3 311.5,815.7C320.6,816.1 331.6,816.9 341.7,818.1C351.7,819.3 361.8,820.6 371.8,822.6C381.9,824.6 393,827.2 402,830.2C411.1,833.2 419.1,836.7 426.1,840.7C433.2,844.7 440.1,849.8 444.2,854.3C448.4,858.8 449.8,865.6 450.9,867.9"/>
<path d="M71.7,938.8C71.9,941.8 70.9,949.8 73.2,956.9C75.4,963.9 80.2,973 85.3,981C90.3,989.1 96.8,997.6 103.4,1005.1C109.9,1012.7 117.9,1019.7 124.5,1026.3C131,1032.8 137,1039.3 142.6,1044.4C148.1,1049.4 154.6,1055.7 157.7,1056.4C160.7,1057.2 158.9,1051.6 160.7,1048.9C162.4,1046.1 167.7,1039.6 168.2,1039.8C168.7,1040.1 165.2,1046.6 163.7,1050.4C162.2,1054.2 158.2,1059.2 159.2,1062.5C160.2,1065.7 165.4,1068.5 169.7,1070C174,1071.5 181.8,1073.8 184.8,1071.5C187.8,1069.2 187.6,1057.4 187.8,1056.4C188.1,1055.4 185.8,1062.7 186.3,1065.5C186.8,1068.2 185.1,1071.8 190.8,1073C196.6,1074.3 211,1073.8 221,1073C231.1,1072.3 241.1,1070.8 251.2,1068.5C261.2,1066.2 272.3,1063 281.3,1059.4C290.4,1055.9 299.4,1050.9 305.5,1047.4C311.5,1043.9 313.5,1041.8 317.5,1038.3C321.6,1034.8 325.1,1029.8 329.6,1026.3C334.1,1022.7 339.7,1020.2 344.7,1017.2C349.7,1014.2 355,1011.2 359.8,1008.2C364.6,1005.1 371.1,1000.6 373.4,999.1"/>
<path d="M420.5,934.4C421.8,932.4 424.8,926.7 428.5,922.4C432.2,918 438.2,913 442.6,908.3C447,903.6 451,897.9 454.7,894.2C458.4,890.5 461.4,887.9 464.7,886.2C468.1,884.4 471.8,883.6 474.8,883.7C477.8,883.9 480.5,887.4 482.8,887.2C485.2,886.9 485.8,883.5 488.9,882.1C491.9,880.8 496.9,879.3 500.9,879.1C505,878.9 509.7,879.3 513,881.1C516.4,883 518,887.5 521.1,890.2C524.1,892.9 527.8,895 531.1,897.2C534.5,899.4 539,901.2 541.2,903.3C543.3,905.3 542.5,907.6 544.2,909.3C545.9,911 549.7,911.5 551.2,913.3C552.7,915.2 552.2,917.8 553.2,920.4C554.2,922.9 556.4,925 557.3,928.4C558.1,931.7 558.4,936.4 558.3,940.5C558.1,944.5 556.8,948.5 556.3,952.5C555.8,956.6 555.8,959.9 555.2,964.6C554.7,969.3 554.2,975.7 553.2,980.7C552.2,985.7 550.9,990.9 549.2,994.8C547.5,998.6 545.4,1001.8 543.2,1003.8C541,1005.8 538.1,1006.5 536.1,1006.9C534.1,1007.2 532.3,1004.8 531.1,1005.8C529.9,1006.9 530.8,1010.9 529.1,1012.9C527.4,1014.9 524.4,1016.7 521.1,1017.9C517.7,1019.1 511.7,1019.8 509,1019.9C506.3,1020.1 505.6,1019.1 505,1018.9"/>
<path d="M505,1018.9C506.6,1019.6 511.3,1020.9 515,1022.9C518.7,1025 522.7,1028 527.1,1031C531.4,1034 537.3,1037.7 541.2,1041.1C545,1044.4 548.2,1047.8 550.2,1051.1C552.2,1054.5 553.4,1057.8 553.2,1061.2C553.1,1064.5 551.6,1068.4 549.2,1071.2C546.9,1074.1 543.2,1076.4 539.2,1078.3C535.1,1080.1 528.8,1080.8 525.1,1082.3C521.4,1083.8 521.1,1086.1 517,1087.3C513,1088.5 507,1089.5 500.9,1089.3C494.9,1089.2 486.9,1087.7 480.8,1086.3C474.8,1085 471.4,1082.8 464.7,1081.3C458,1079.8 448,1078.3 440.6,1077.3C433.2,1076.3 427.2,1076.3 420.5,1075.2C413.8,1074.2 406.7,1073.1 400.4,1071.2C394,1069.4 386.6,1066.9 382.2,1064.2C377.9,1061.5 376,1057.8 374.2,1055.1C372.4,1052.4 371.3,1051.1 371.2,1048.1C371,1045.1 372.4,1041.6 373.2,1037C374,1032.5 375.9,1026.3 376.2,1020.9C376.5,1015.6 375.6,1008.7 375.2,1004.8C374.8,1001 375.3,998.5 373.8,997.8C372.3,997.1 369.8,998.6 366.2,1000.8C362.5,1003 356.4,1007.5 352.1,1010.9C347.7,1014.2 342,1019.3 340,1020.9"/>
<path d="M482.8,887.2C482.5,889 481.8,894.4 480.8,898.2C479.8,902.1 477.5,908.3 476.8,910.3"/>
<path d="M521.1,890.2C518.7,892.9 511.7,900.9 507,906.3C502.3,911.6 497.1,917.5 492.9,922.4C488.7,927.2 483.7,933.3 481.8,935.4"/>
<path d="M544.2,909.3C541.7,911.1 533,916.2 529.1,920.4C525.2,924.5 524.1,930.1 521.1,934.4C518,938.8 515.4,942.4 511,946.5C506.6,950.6 497.6,956.9 494.9,959"/>
<path d="M555.2,954.5C553.2,954.7 546.7,954.5 543.2,955.6C539.7,956.6 535.6,959.7 534.1,960.6"/>
<path d="M493.9,988.7C496.1,988.7 502.8,989.4 507,988.7C511.2,988.1 516,983.7 519,984.7C522.1,985.7 523.1,991.3 525.1,994.8C527.1,998.3 530.1,1004 531.1,1005.8"/>
<path d="M442.6,908.3C443.6,910.3 447,915.7 448.6,920.4C450.3,925 451.5,930.9 452.7,936.4C453.8,942 455.2,950.7 455.7,953.5"/>
<path d="M420.5,934.4C419.5,937.1 416.1,945.2 414.4,950.5C412.8,955.9 410.9,961.6 410.4,966.6C409.9,971.6 410.7,976.8 411.4,980.7C412.2,984.6 414.3,988.2 414.8,989.8"/>
<path d="M338,934.4C340.3,932.8 347.4,925.2 352.1,924.4C356.8,923.5 362.5,930.4 366.2,929.4C369.8,928.4 370.2,921.5 374.2,918.3C378.2,915.2 384.9,911.5 390.3,910.3C395.7,909.1 402,909.6 406.4,911.3C410.7,913 414.1,916.5 416.4,920.4C418.8,924.2 419.8,932.1 420.5,934.4"/>
<path d="M450.6,860C450.8,862.7 452.3,870.1 451.6,876.1C451,882.1 449.1,890.5 446.6,896.2C444.1,901.9 440.2,906.8 436.6,910.3C432.9,913.8 428,916.3 424.5,917.3C421,918.4 416.9,916.8 415.4,916.7"/>
<path d="M152.2,973.5C151.1,971.2 147.7,965.7 145.6,959.9C143.5,954.1 141,945.6 139.6,938.8C138.1,932 136.6,923.9 137.1,919.2C137.6,914.4 138.6,912.6 142.6,910.1C146.5,907.6 152.6,905.6 160.7,904.1C168.7,902.6 180.8,902.3 190.8,901.1C200.9,899.8 212,898.8 221,896.5C230.1,894.3 238.1,891 245.1,887.5C252.2,884 257.2,879.2 263.2,875.4C269.3,871.6 273.3,867.4 281.3,864.9C289.4,862.3 301.5,860.3 311.5,860.3C321.6,860.3 331.6,862.8 341.7,864.9C351.7,866.9 362,870.4 371.8,872.4C381.6,874.4 401,874.2 400.5,876.9C400,879.7 378.6,888.6 368.8,889C359,889.3 351.2,882 341.7,879C332.1,876.1 320.6,872.4 311.5,871.5C302.5,870.6 294.4,872 287.4,873.9C280.3,875.8 275.3,879.2 269.3,883C263.2,886.7 254.2,894.3 251.2,896.5"/>
<path d="M151.6,972C150.9,968.4 147.6,957.9 147.1,950.8C146.6,943.8 146.8,935.5 148.6,929.7C150.4,923.9 153.1,919.6 157.7,916.1C162.2,912.7 167.7,910.9 175.8,909.2C183.8,907.5 196.4,907.4 205.9,906.2C215.5,904.9 225.5,903.3 233.1,901.7C240.6,900.1 248.2,897.4 251.2,896.5"/>
<path d="M251.2,902.6C252.2,900.6 253.2,893.5 257.2,890.5C261.2,887.5 268.3,885.2 275.3,884.5C282.3,883.7 291.4,884 299.4,886C307.5,888 317,891.8 323.6,896.5C330.1,901.3 335.6,908.6 338.7,914.6C341.7,920.7 341.2,929.7 341.7,932.7"/>
<path d="M251.2,899.6C254.2,901.1 262.7,907.3 269.3,908.6C275.8,909.9 286.9,907.3 290.4,907.1"/>
<path d="M257.2,919.2C261.2,918.4 273.3,915.1 281.3,914.6C289.4,914.1 298.4,914.6 305.5,916.1C312.5,917.7 318,920.7 323.6,923.7C329.1,926.7 336.1,932.5 338.7,934.2"/>
<path d="M236.1,930.3C236.6,931.7 237.1,937.6 239.1,938.8C241.1,939.9 246.9,938.8 248.2,937.3C249.4,935.8 246.9,931 246.6,929.7"/>
</g>
<g fill="none" stroke="#666" stroke-width="1" stroke-dasharray="2.2 1.8">
<path d="M180,830L185,897"/>
<path d="M283,817L281,863"/>
<path d="M343,819L334,860"/>
<path d="M414,835L396,874"/>
<path d="M248.2,926.7C250.2,927.7 257.7,929.7 260.2,932.7C262.7,935.8 263.7,940.8 263.2,944.8C262.7,948.8 258.2,954.9 257.2,956.9"/>
<path d="M242.1,944.8C241.6,947.8 238.1,955.9 239.1,962.9C240.1,969.9 244.1,981 248.2,987C252.2,993.1 258.2,997.6 263.2,999.1C268.3,1000.6 275.8,996.6 278.3,996.1"/>
<path d="M251.2,941.8C250.7,945.3 247.4,955.9 248.2,962.9C248.9,969.9 252.2,979 255.7,984C259.2,989.1 267,991.6 269.3,993.1"/>
<path d="M233.1,956.9C233.6,960.4 233.6,971.5 236.1,978C238.6,984.5 244.1,992.3 248.2,996.1C252.2,999.9 258.2,999.9 260.2,1000.6" stroke-dasharray="none" stroke="#888"/>
</g>
<path d="M256.9,962.5C258.3,959.8 261.9,957.4 265.4,956.1C269,954.8 274,954.1 278.3,954.7C282.5,955.3 287.3,956.9 291.1,959.6C294.9,962.4 299,967.7 301,971C303.1,974.4 303.9,977 303.2,979.6C302.5,982.2 300,984.9 296.8,986.7C293.6,988.5 288.5,989.9 283.9,990.3C279.4,990.6 273.5,990.2 269.7,988.9C265.9,987.5 263.3,985.2 261.2,982.4C259,979.7 257.6,975.8 256.9,972.5C256.2,969.1 255.5,965.2 256.9,962.5Z" fill="none" stroke="#444" stroke-width="1.5" stroke-dasharray="1.6 1.1"/>
<path d="M234.1,901.9C235,900.8 239.3,899.8 241.9,898.4C244.5,897 249.2,892.4 249.8,893.4C250.4,894.3 246.9,900.6 245.5,904.1C244.1,907.5 242.4,910.7 241.2,914.1C240,917.4 239.1,921.3 238.4,924C237.6,926.8 237.5,929.3 236.9,930.4C236.4,931.6 235.1,932.7 235.1,931.2C235.1,929.6 236.4,924.3 236.9,921.2C237.4,918.1 238.2,915.2 238.1,912.6C238,910 236.9,907.3 236.2,905.5C235.6,903.7 233.1,903.1 234.1,901.9Z" fill="#000"/>
<rect x="274" y="790" width="4.3" height="175.3" fill="#000"/>
<path d="M227.7,872.7C227.6,877.5 227,892.9 227,901.2C227,909.5 227,915.5 227.7,922.6C228.4,929.7 229.6,937.6 231.2,944C232.9,950.4 235.3,956.3 237.6,961.1C240,965.8 242.3,969.5 245.5,972.5C248.7,975.4 253.6,977.7 256.9,978.9C260.2,980.1 262.8,980 265.4,979.6C268,979.2 271.4,977.2 272.6,976.7" fill="none" stroke="#ff1414" stroke-width="2.2" stroke-linecap="round"/>
<circle cx="227.7" cy="872.7" r="2.6" fill="#ff1414"/>
<polygon points="225.5,856.8 229.0,863.0 222.0,863.0" fill="#fff" stroke="#111" stroke-width="1.2" stroke-linejoin="miter"/>
<polygon points="239.5,856.8 243.0,863.0 236.0,863.0" fill="#fff" stroke="#111" stroke-width="1.2" stroke-linejoin="miter"/>
<polygon points="220.5,866.8 224.0,873.0 217.0,873.0" fill="#fff" stroke="#111" stroke-width="1.2" stroke-linejoin="miter"/>
<polygon points="232.9,863.2 236.4,869.4 229.4,869.4" fill="#fff" stroke="#111" stroke-width="1.2" stroke-linejoin="miter"/>
<polygon points="243.3,866.8 246.8,873.0 239.8,873.0" fill="#fff" stroke="#111" stroke-width="1.2" stroke-linejoin="miter"/>
<circle cx="276.1" cy="969.3" r="5.5" fill="#8a8aff" opacity="0.8" filter="url(#fMb)"/>
<polygon points="272.3,967.7 277.3,977.2 267.3,977.2" fill="#a02878" opacity="0.95"/>
<polygon points="283.9,966.5 287.9,974.1 279.9,974.1" fill="#ff0a0a"/>
<polygon points="272.6,979.4 276.6,987.0 268.6,987.0" fill="#ff0a0a"/>
<polygon points="281.8,975.4 285.8,983.0 277.8,983.0" fill="#e63550"/>
<rect x="582.7" y="803.9" width="418.2" height="284.4" fill="#000"/>
<defs>
<clipPath id="cpM"><path d="M785,827.8C786.3,827.5 787.4,823.3 789.7,821.4C792.1,819.5 794.5,817.9 799.3,816.6C804.1,815.4 811.5,814.1 818.4,813.8C825.3,813.4 833.3,813.8 840.7,814.4C848.1,815 855,815.9 863,817.6C871,819.3 880.2,821.6 888.5,824.6C896.7,827.6 904.4,830.7 912.4,835.7C920.3,840.8 929.1,847.7 936.2,854.8C943.4,862 949.8,870.5 955.4,878.7C960.9,887 965.7,895.7 969.7,904.2C973.7,912.7 976.7,921.2 979.2,929.7C981.8,938.2 983.7,947.2 985,955.2C986.2,963.1 986.8,971.1 986.6,977.5C986.3,983.8 985.3,989.7 983.4,993.4C981.5,997.1 975.6,997.4 975.1,999.7C974.6,1002.1 979.2,1004.5 980.2,1007.7C981.1,1010.9 981.5,1014.9 980.8,1018.9C980.1,1022.8 978.2,1027.3 976.1,1031.6C973.9,1035.8 971.5,1040.5 968.1,1044.3C964.6,1048.2 960.7,1051.6 955.4,1054.5C950,1057.4 943.1,1060.1 936.2,1061.8C929.3,1063.6 921.9,1064.9 913.9,1065C906,1065.2 895.4,1064.4 888.5,1062.8C881.6,1061.2 876.8,1058.3 872.5,1055.5C868.3,1052.7 865.4,1048.8 863,1045.9C860.6,1043 860.1,1040.4 858.2,1038C856.4,1035.6 853.7,1032.1 851.8,1031.6C850,1031.1 848.9,1032.7 847.1,1034.8C845.2,1036.9 844.4,1040.7 840.7,1044.3C837,1047.9 830.6,1053.1 824.8,1056.4C818.9,1059.8 811.5,1062.7 805.7,1064.4C799.8,1066.1 795.1,1066.6 789.7,1066.6C784.4,1066.6 779.7,1066.1 773.8,1064.4C768,1062.7 760.6,1059.8 754.7,1056.4C748.9,1053.1 742.2,1047.9 738.8,1044.3C735.3,1040.7 735.9,1036.9 734,1034.8C732.2,1032.7 729.8,1031.1 727.6,1031.6C725.5,1032.1 723.1,1035.3 721.3,1038C719.4,1040.6 718.9,1044.4 716.5,1047.5C714.1,1050.6 711.2,1053.8 706.9,1056.4C702.7,1059.1 697.9,1061.6 691,1063.4C684.1,1065.3 673.5,1067.3 665.5,1067.6C657.6,1067.8 649.6,1066.8 643.2,1065C636.9,1063.3 631.8,1060.3 627.3,1057.1C622.8,1053.9 619.4,1050.2 616.2,1045.9C613,1041.7 610.2,1036.4 608.2,1031.6C606.3,1026.8 604.1,1021.8 604.4,1017.3C604.7,1012.7 610.2,1007.4 609.8,1004.5C609.4,1001.6 604.1,1003.2 601.8,999.7C599.6,996.3 597.2,990.7 596.1,983.8C595.1,976.9 594.8,967.4 595.5,958.3C596.2,949.3 597.6,939.8 600.3,929.7C602.9,919.6 606.4,908.5 611.4,897.8C616.4,887.2 622.5,875.5 630.5,866C638.5,856.4 649.1,847.4 659.2,840.5C669.3,833.6 680.4,828.6 691,824.6C701.6,820.6 712.3,818.3 722.9,816.6C733.5,814.9 746.2,814.1 754.7,814.4C763.2,814.7 769.3,816.8 773.8,818.2C778.3,819.6 779.9,821.4 781.8,823C783.6,824.6 783.6,828 785,827.8Z"/></clipPath>
<filter id="fM" x="0" y="0" width="100%" height="100%" color-interpolation-filters="sRGB"><feGaussianBlur in="SourceGraphic" stdDeviation="5" result="b"/><feTurbulence type="fractalNoise" baseFrequency="0.09" numOctaves="2" seed="4"/><feColorMatrix type="matrix" values="0.55 0 0 0 0.72  0.55 0 0 0 0.72  0.55 0 0 0 0.72  0 0 0 0 1" result="g"/><feComposite in="b" in2="g" operator="arithmetic" k1="1" k2="0" k3="0" k4="0"/></filter>
<filter id="fMb" x="-30%" y="-30%" width="160%" height="160%"><feGaussianBlur stdDeviation="2.5"/></filter>
</defs>
<g clip-path="url(#cpM)">
<g filter="url(#fM)">
<rect x="582.7" y="803.9" width="418.2" height="284.4" fill="#acacac"/>
<path d="M788.2,885.1C800.4,885.1 813.4,877.7 824.8,875.5C836.2,873.4 846,870.8 856.6,872.4C867.2,873.9 878.9,877.7 888.5,885.1C898,892.5 907.6,904.7 913.9,916.9C920.3,929.2 925.1,944 926.7,958.3C928.3,972.7 927.7,990.7 923.5,1002.9C919.3,1015.1 912.4,1026.3 901.2,1031.6C890.1,1036.9 869.4,1030.5 856.6,1034.8C843.9,1039 835.9,1051.8 824.8,1057.1C813.6,1062.4 802,1066.6 789.7,1066.6C777.5,1066.6 763.2,1062.4 751.5,1057.1C739.9,1051.8 732.4,1039 719.7,1034.8C706.9,1030.5 686.2,1036.9 675.1,1031.6C663.9,1026.3 657,1015.1 652.8,1002.9C648.6,990.7 648,972.7 649.6,958.3C651.2,944 656,929.2 662.4,916.9C668.7,904.7 678.3,892.5 687.8,885.1C697.4,877.7 709.1,873.9 719.7,872.4C730.3,870.8 740.1,873.4 751.5,875.5C762.9,877.7 775.9,885.1 788.2,885.1Z" fill="#6c6c6c"/>
<path d="M923.5,971.1C937.3,963.1 974.5,975.3 984,983.8C993.6,992.3 986.1,1009.8 980.8,1022C975.5,1034.2 967.6,1050.2 952.2,1057.1C936.8,1064 904.4,1067.2 888.5,1063.4C872.5,1059.7 854.5,1040.1 856.6,1034.8C858.7,1029.5 890.1,1042.2 901.2,1031.6C912.4,1021 909.7,979 923.5,971.1Z" fill="#969696"/>
<path d="M652.8,971.1C639,963.1 601.8,975.3 592.3,983.8C582.7,992.3 590.2,1009.8 595.5,1022C600.8,1034.2 608.7,1050.2 624.1,1057.1C639.5,1064 671.9,1067.2 687.8,1063.4C703.8,1059.7 721.8,1040.1 719.7,1034.8C717.6,1029.5 686.2,1042.2 675.1,1031.6C663.9,1021 666.6,979 652.8,971.1Z" fill="#969696"/>
<path d="M788.2,875.5C796.1,875.5 802.7,860.9 812,856.4C821.3,851.9 833.3,848.5 843.9,848.5C854.5,848.5 866.2,851.4 875.7,856.4C885.3,861.5 901.2,875.5 901.2,878.7C901.2,881.9 885.3,877.7 875.7,875.5C866.2,873.4 853.4,866.5 843.9,866C834.3,865.5 825.8,868.6 818.4,872.4C811,876.1 804.3,885.1 799.3,888.3C794.3,891.5 791.9,891.5 788.2,891.5C784.4,891.5 782,891.5 777,888.3C772,885.1 765.3,876.1 757.9,872.4C750.5,868.6 742,865.5 732.4,866C722.9,866.5 710.1,873.4 700.6,875.5C691,877.7 675.1,881.9 675.1,878.7C675.1,875.5 691,861.5 700.6,856.4C710.1,851.4 721.8,848.5 732.4,848.5C743,848.5 755,851.9 764.3,856.4C773.6,860.9 780.2,875.5 788.2,875.5Z" fill="#949494"/>
</g>
<path d="M617.8,1045.9C620.4,1041.7 636.3,1041.1 649.6,1039.6C662.9,1038 685.7,1036.4 697.4,1036.4C709.1,1036.4 716.5,1037.2 719.7,1039.6C722.9,1041.9 719.2,1047.3 716.5,1050.7C713.8,1054.2 712.3,1057.3 703.8,1060.3C695.3,1063.2 677.2,1067.4 665.5,1068.2C653.9,1069 641.7,1068.7 633.7,1065C625.7,1061.3 615.1,1050.2 617.8,1045.9Z" fill="#676767"/>
<path d="M863,1039.6C866.2,1036.6 876.3,1036.6 888.5,1036.4C900.7,1036.1 923,1036.6 936.2,1038C949.5,1039.3 965.4,1041.1 968.1,1044.3C970.7,1047.5 960.1,1053.5 952.2,1057.1C944.2,1060.6 930.9,1064.6 920.3,1065.7C909.7,1066.7 897,1065.4 888.5,1063.4C880,1061.5 873.6,1057.9 869.4,1053.9C865.1,1049.9 859.8,1042.5 863,1039.6Z" fill="#676767"/>
<g filter="url(#fMb)">
<path d="M788,920L790,920L791,984L788,984Z" fill="#f4f4f4" opacity="0.9"/>
<ellipse cx="729.2" cy="1033.2" rx="5" ry="4" fill="#fff"/>
<ellipse cx="846.4" cy="1033.2" rx="5" ry="4" fill="#fff"/>
<path d="M761.1,907.4C763.7,908.5 772.5,911.6 777,913.8C781.5,915.9 784.4,920.1 788.2,920.1C791.9,920.1 794.8,915.9 799.3,913.8C803.8,911.6 812.6,908.5 815.2,907.4" fill="none" stroke="#e0e0e0" stroke-width="4" opacity="0.8"/>
<ellipse cx="840.7" cy="823.0" rx="5" ry="9" fill="#333" opacity="0.8"/>
</g>
</g>
<g fill="none" stroke="#2b9fd8" stroke-width="3.3" stroke-linecap="round" stroke-linejoin="round" opacity="0.88">
<path d="M785,827.8C786.3,827.5 787.4,823.3 789.7,821.4C792.1,819.5 794.5,817.9 799.3,816.6C804.1,815.4 811.5,814.1 818.4,813.8C825.3,813.4 833.3,813.8 840.7,814.4C848.1,815 855,815.9 863,817.6C871,819.3 880.2,821.6 888.5,824.6C896.7,827.6 904.4,830.7 912.4,835.7C920.3,840.8 929.1,847.7 936.2,854.8C943.4,862 949.8,870.5 955.4,878.7C960.9,887 965.7,895.7 969.7,904.2C973.7,912.7 976.7,921.2 979.2,929.7C981.8,938.2 983.7,947.2 985,955.2C986.2,963.1 986.8,971.1 986.6,977.5C986.3,983.8 985.3,989.7 983.4,993.4C981.5,997.1 975.6,997.4 975.1,999.7C974.6,1002.1 979.2,1004.5 980.2,1007.7C981.1,1010.9 981.5,1014.9 980.8,1018.9C980.1,1022.8 978.2,1027.3 976.1,1031.6C973.9,1035.8 971.5,1040.5 968.1,1044.3C964.6,1048.2 960.7,1051.6 955.4,1054.5C950,1057.4 943.1,1060.1 936.2,1061.8C929.3,1063.6 921.9,1064.9 913.9,1065C906,1065.2 895.4,1064.4 888.5,1062.8C881.6,1061.2 876.8,1058.3 872.5,1055.5C868.3,1052.7 865.4,1048.8 863,1045.9C860.6,1043 860.1,1040.4 858.2,1038C856.4,1035.6 853.7,1032.1 851.8,1031.6C850,1031.1 848.9,1032.7 847.1,1034.8C845.2,1036.9 844.4,1040.7 840.7,1044.3C837,1047.9 830.6,1053.1 824.8,1056.4C818.9,1059.8 811.5,1062.7 805.7,1064.4C799.8,1066.1 795.1,1066.6 789.7,1066.6C784.4,1066.6 779.7,1066.1 773.8,1064.4C768,1062.7 760.6,1059.8 754.7,1056.4C748.9,1053.1 742.2,1047.9 738.8,1044.3C735.3,1040.7 735.9,1036.9 734,1034.8C732.2,1032.7 729.8,1031.1 727.6,1031.6C725.5,1032.1 723.1,1035.3 721.3,1038C719.4,1040.6 718.9,1044.4 716.5,1047.5C714.1,1050.6 711.2,1053.8 706.9,1056.4C702.7,1059.1 697.9,1061.6 691,1063.4C684.1,1065.3 673.5,1067.3 665.5,1067.6C657.6,1067.8 649.6,1066.8 643.2,1065C636.9,1063.3 631.8,1060.3 627.3,1057.1C622.8,1053.9 619.4,1050.2 616.2,1045.9C613,1041.7 610.2,1036.4 608.2,1031.6C606.3,1026.8 604.1,1021.8 604.4,1017.3C604.7,1012.7 610.2,1007.4 609.8,1004.5C609.4,1001.6 604.1,1003.2 601.8,999.7C599.6,996.3 597.2,990.7 596.1,983.8C595.1,976.9 594.8,967.4 595.5,958.3C596.2,949.3 597.6,939.8 600.3,929.7C602.9,919.6 606.4,908.5 611.4,897.8C616.4,887.2 622.5,875.5 630.5,866C638.5,856.4 649.1,847.4 659.2,840.5C669.3,833.6 680.4,828.6 691,824.6C701.6,820.6 712.3,818.3 722.9,816.6C733.5,814.9 746.2,814.1 754.7,814.4C763.2,814.7 769.3,816.8 773.8,818.2C778.3,819.6 779.9,821.4 781.8,823C783.6,824.6 783.6,828 785,827.8Z" stroke-width="3.4"/>
<path d="M785,827.8L786.6,872.4"/>
<path d="M668.7,875.5C673.5,872.1 687.3,859.9 697.4,854.8C707.5,849.8 719.7,846.3 729.2,845.3C738.8,844.2 747.3,845 754.7,848.5C762.1,851.9 768.5,861.7 773.8,866C779.1,870.2 782.3,873.9 786.6,873.9C790.8,873.9 794,870.2 799.3,866C804.6,861.7 811,852.2 818.4,848.5C825.8,844.8 834.3,843.2 843.9,843.7C853.4,844.2 865.6,846.9 875.7,851.7C885.8,856.4 899.6,868.9 904.4,872.4"/><path d="M671.9,885.1C677.2,881.6 693.1,869.4 703.8,864.4C714.4,859.4 726.6,855.6 735.6,854.8C744.6,854 751.5,856.2 757.9,859.6C764.3,863.1 769,871.8 773.8,875.5C778.6,879.3 782.3,881.9 786.6,881.9C790.8,881.9 794.5,879.3 799.3,875.5C804.1,871.8 808.3,863.3 815.2,859.6C822.1,855.9 831.1,853 840.7,853.2C850.3,853.5 862.5,856.4 872.5,861.2C882.6,866 896.4,878.5 901.2,881.9"/>
<path d="M659.7,959.6C660.2,955.4 660.6,942.9 662.4,934.1C664.1,925.4 666.9,915.4 670.5,907.3C674.1,899.2 678.8,891.8 683.9,885.7C689,879.7 694.5,875.3 701.2,871.1C707.9,866.8 717.6,862.3 724.1,860.3C730.6,858.2 735.8,858.1 740.2,859C744.7,859.9 747.3,862.5 750.9,865.7C754.5,868.8 758.1,874.2 761.7,877.8C765.3,881.4 768.6,885.3 772.4,887.2C776.2,889.1 781.8,888.9 784.5,889.2C787.1,889.6 786.9,889.2 788.2,889.2C789.4,889.2 789.2,889.6 791.8,889.2C794.5,888.9 800.1,889.1 803.9,887.2C807.7,885.3 811,881.4 814.6,877.8C818.2,874.2 821.8,868.8 825.4,865.7C829,862.5 831.6,859.9 836.1,859C840.5,858.1 845.7,858.2 852.2,860.3C858.7,862.3 868.4,866.8 875.1,871.1C881.8,875.3 887.3,879.7 892.4,885.7C897.5,891.8 902.2,899.2 905.8,907.3C909.4,915.4 912.2,925.4 913.9,934.1C915.7,942.9 916.1,955.4 916.6,959.6"/>
<path d="M875.7,881.9C871.5,880.3 858.7,873.4 850.3,872.4C841.8,871.3 832.2,872.9 824.8,875.5C817.3,878.2 810.4,884.3 805.7,888.3C800.9,892.3 797.7,897.6 796.1,899.4"/>
<path d="M700.6,881.9C704.8,880.3 717.6,873.4 726.1,872.4C734.5,871.3 744.1,872.9 751.5,875.5C759,878.2 765.9,884.3 770.6,888.3C775.4,892.3 778.6,897.6 780.2,899.4"/>
<path d="M888.5,907.4C884.2,905.8 872,898.9 863,897.8C854,896.8 842.3,898.4 834.3,901C826.4,903.7 820.5,912.2 815.2,913.8C809.9,915.4 804.6,911.1 802.5,910.6"/>
<path d="M687.8,907.4C692.1,905.8 704.3,898.9 713.3,897.8C722.3,896.8 734,898.4 742,901C749.9,903.7 755.8,912.2 761.1,913.8C766.4,915.4 771.7,911.1 773.8,910.6"/>
<path d="M904.4,872.4C907.6,878.2 918.2,895.2 923.5,907.4C928.8,919.6 933.3,932.3 936.2,945.6C939.2,958.9 940.5,974.3 941,987C941.5,999.7 940,1013.5 939.4,1022C938.9,1030.5 938.1,1035.3 937.8,1038"/>
<path d="M671.9,872.4C668.7,878.2 658.1,895.2 652.8,907.4C647.5,919.6 643,932.3 640.1,945.6C637.1,958.9 635.8,974.3 635.3,987C634.8,999.7 636.3,1013.5 636.9,1022C637.4,1030.5 638.2,1035.3 638.5,1038"/>
<path d="M898,885.1C900.1,889.9 907.6,902.6 910.8,913.8C913.9,924.9 916.6,939.8 917.1,952C917.7,964.2 916.6,977.5 913.9,987C911.3,996.6 903.3,1005.6 901.2,1009.3"/>
<path d="M678.3,885.1C676.2,889.9 668.7,902.6 665.5,913.8C662.4,924.9 659.7,939.8 659.2,952C658.6,964.2 659.7,977.5 662.4,987C665,996.6 673,1005.6 675.1,1009.3"/>
<path d="M888.5,907.4C890.1,911.6 897,923.3 898,932.9C899.1,942.4 898,954.1 894.8,964.7C891.7,975.3 885.3,987 878.9,996.6C872.5,1006.1 861.9,1015.9 856.6,1022C851.3,1028.1 848.7,1031.3 847.1,1033.2"/>
<path d="M687.8,907.4C686.2,911.6 679.3,923.3 678.3,932.9C677.2,942.4 678.3,954.1 681.5,964.7C684.6,975.3 691,987 697.4,996.6C703.8,1006.1 714.4,1015.9 719.7,1022C725,1028.1 727.6,1031.3 729.2,1033.2"/>
<path d="M929.9,929.7C930.9,936.6 932.5,958.9 936.2,971.1C940,983.3 950.6,992.3 952.2,1002.9C953.8,1013.5 946.9,1029.5 945.8,1034.8"/>
<path d="M646.4,929.7C645.4,936.6 643.8,958.9 640.1,971.1C636.3,983.3 625.7,992.3 624.1,1002.9C622.5,1013.5 629.4,1029.5 630.5,1034.8"/>
<path d="M788,898L798,907L793,917L791,930L787,930L785,917L779,907Z" fill="#1c8fd6" />
<path d="M789.7,1034.8C788.7,1034.8 786.6,1045.4 786.6,1050.7C786.6,1056 788.7,1066.6 789.7,1066.6C790.8,1066.6 792.9,1056 792.9,1050.7C792.9,1045.4 790.8,1034.8 789.7,1034.8Z"/>
<path d="M911.9,899.2C910.3,900.1 908,909.1 907.3,914C906.5,918.9 906.6,924.3 907.3,928.7C907.9,933.2 909.7,940.8 911.2,940.8C912.8,940.8 915,932.1 916.6,928.7C918.1,925.4 920.6,924 920.6,920.7C920.6,917.4 918,912.2 916.6,908.7C915.1,905.1 913.4,898.3 911.9,899.2Z" fill="#1c8fd6"/>
<path d="M664.4,899.2C666,900.1 668.3,909.1 669,914C669.8,918.9 669.7,924.3 669,928.7C668.4,933.2 666.6,940.8 665.1,940.8C663.5,940.8 661.3,932.1 659.7,928.7C658.2,925.4 655.7,924 655.7,920.7C655.7,917.4 658.3,912.2 659.7,908.7C661.2,905.1 662.9,898.3 664.4,899.2Z" fill="#1c8fd6"/>
<path d="M920.3,974.3C923.2,975.3 925.6,992.3 925.1,999.7C924.6,1007.2 921.1,1014.3 917.1,1018.9C913.2,1023.4 906.5,1026.3 901.2,1026.8C895.9,1027.3 887.4,1025.2 885.3,1022C883.2,1018.9 884.8,1012.5 888.5,1007.7C892.2,1002.9 902.3,998.9 907.6,993.4C912.9,987.8 917.4,973.2 920.3,974.3Z" fill="#1c8fd6"/>
<path d="M656,974.3C653.1,975.3 650.7,992.3 651.2,999.7C651.7,1007.2 655.2,1014.3 659.2,1018.9C663.2,1023.4 669.8,1026.3 675.1,1026.8C680.4,1027.3 688.9,1025.2 691,1022C693.1,1018.9 691.5,1012.5 687.8,1007.7C684.1,1002.9 674,998.9 668.7,993.4C663.4,987.8 658.9,973.2 656,974.3Z" fill="#1c8fd6"/>
<path d="M912,836L893,860"/>
<path d="M979,907L933,919"/>
<path d="M984,979L946,971"/>
<path d="M831.1,974.3C833.3,970 843.9,964.7 850.3,958.3C856.6,952 864.1,940 869.4,936.1C874.7,932.1 879.7,932.3 882.1,934.5C884.5,936.6 885.3,942.7 883.7,948.8C882.1,954.9 877.6,965 872.5,971.1C867.5,977.2 859.3,983.3 853.4,985.4C847.6,987.5 841.2,985.7 837.5,983.8C833.8,982 829,978.5 831.1,974.3Z"/>
</g>
<rect x="849.6" y="790.2" width="9.6" height="166.6" fill="#000"/><path d="M1133.95,956.5 H2173" stroke="#000" stroke-width="3.1" stroke-dasharray="3.1 5.9" fill="none"/>
<path d="M1140.05,731.6 L2178.1,732.5" stroke="#000" stroke-width="3.1" stroke-dasharray="3.1 5.9" fill="none"/>
<path d="M1135.5,949.15 V729.5" stroke="#000" stroke-width="3.1" stroke-dasharray="3.1 5.9" fill="none"/>
<path d="M2178.4,957.15 V736" stroke="#000" stroke-width="3.1" stroke-dasharray="3.1 5.9" fill="none"/>
<rect x="1131" y="961" width="3.1" height="3.1" fill="#000"/><rect x="1127.9" y="967" width="3.1" height="3.1" fill="#000"/>
<text transform="translate(1145.4,772.0) scale(1.000,1)" font-size="41.7" fill="#000">10ms</text>
<text transform="translate(1810.6,772.0) scale(1.000,1)" font-size="41.7" fill="#000">10ms</text>
<g fill="#000" stroke="none"><rect x="1149.9" y="783.9" width="40.1" height="4"/><polygon points="1195,785.9 1187.4,779.6999999999999 1187.4,792.1"/><rect x="1196" y="778.9" width="2" height="15"/><rect x="1206" y="778.9" width="4" height="15"/><polygon points="1210.1,785.9 1217.6999999999998,779.6999999999999 1217.6999999999998,792.1"/><rect x="1215.1" y="783.9" width="40.0" height="4"/></g>
<g fill="#000" stroke="none"><rect x="1814.7" y="783.9" width="39.6" height="4"/><polygon points="1859.3,785.9 1851.7,779.6999999999999 1851.7,792.1"/><rect x="1860.5" y="778.9" width="2" height="15"/><rect x="1870.5" y="778.9" width="4" height="15"/><polygon points="1874.6,785.9 1882.1999999999998,779.6999999999999 1882.1999999999998,792.1"/><rect x="1879.6" y="783.9" width="40.0" height="4"/></g>
<rect x="1195.4" y="796.4" width="12.5" height="111" fill="#0000ff"/>
<rect x="1332.3" y="796.4" width="12.3" height="111" fill="#0000ff"/>
<rect x="1861" y="796.4" width="12.2" height="111" fill="#0000ff"/>
<rect x="1929.2" y="796.4" width="12.3" height="111" fill="#0000ff"/>
<path d="M1481.70,904.9 V793.9 M1480.20,795.4 H1495.30 M1493.80,904.9 V793.9" fill="none" stroke="#0000ff" stroke-width="3" stroke-dasharray="3.05 2.95"/>
<path d="M1618.15,904.9 V793.9 M1616.65,795.4 H1631.75 M1630.25,904.9 V793.9" fill="none" stroke="#0000ff" stroke-width="3" stroke-dasharray="3.05 2.95"/>
<path d="M1992.25,904.9 V793.9 M1990.75,795.4 H2005.85 M2004.35,904.9 V793.9" fill="none" stroke="#0000ff" stroke-width="3" stroke-dasharray="3.05 2.95"/>
<path d="M2060.40,904.9 V793.9 M2058.90,795.4 H2074.00 M2072.50,904.9 V793.9" fill="none" stroke="#0000ff" stroke-width="3" stroke-dasharray="3.05 2.95"/>
<rect x="1190" y="906.2" width="472" height="3.9" fill="#000"/>
<rect x="1856.3" y="905.05" width="224.8" height="3.9" fill="#000"/>
<rect x="1195.05" y="908" width="5" height="7.9" fill="#000"/>
<rect x="1331.95" y="908" width="5" height="7.9" fill="#000"/>
<rect x="1480.2" y="908" width="5" height="7.9" fill="#000"/>
<rect x="1617.1" y="908" width="5" height="7.9" fill="#000"/>
<rect x="1859.8" y="907" width="5" height="7.7" fill="#000"/>
<rect x="1928.9" y="907" width="5" height="7.7" fill="#000"/>
<rect x="1990.5" y="907" width="5" height="7.7" fill="#000"/>
<rect x="2059.0" y="907" width="5" height="7.7" fill="#000"/>
<text transform="translate(1199.2,952.0) scale(1.000,1)" font-size="41.7" text-anchor="middle" fill="#000">1</text>
<text transform="translate(1337.5,952.0) scale(1.000,1)" font-size="41.7" text-anchor="middle" fill="#000">125</text>
<text transform="translate(1487.0,952.0) scale(1.000,1)" font-size="41.7" text-anchor="middle" fill="#000">250</text>
<text transform="translate(1577.5,952.0) scale(1.010,1)" font-size="41.7" fill="#000">375ms</text>
<text transform="translate(1750.5,870.2) scale(1.000,1)" font-size="43.5" text-anchor="middle" fill="#000">or</text>
<text transform="translate(1862.0,952.0) scale(1.000,1)" font-size="41.7" text-anchor="middle" fill="#000">1</text>
<text transform="translate(1933.0,952.0) scale(1.000,1)" font-size="41.7" text-anchor="middle" fill="#000">50</text>
<text transform="translate(2003.2,952.0) scale(1.000,1)" font-size="41.7" text-anchor="middle" fill="#000">100</text>
<text transform="translate(2049.8,952.0) scale(1.000,1)" font-size="41.7" fill="#000">150ms</text>
<rect x="1066" y="1079.2" width="1104" height="6.8" fill="#000"/>
<rect x="1128.9" y="969" width="2" height="111" fill="#0000ff"/>
<rect x="1182.0" y="969" width="2" height="111" fill="#0000ff"/>
<rect x="1235.2" y="969" width="2" height="111" fill="#0000ff"/>
<rect x="1288.3" y="969" width="2" height="111" fill="#0000ff"/>
<rect x="1341.4" y="969" width="2" height="111" fill="#0000ff"/>
<rect x="1394.6" y="969" width="2" height="111" fill="#0000ff"/>
<rect x="1447.7" y="969" width="2" height="111" fill="#0000ff"/>
<rect x="1500.8" y="969" width="2" height="111" fill="#0000ff"/>
<rect x="1553.9" y="969" width="2" height="111" fill="#0000ff"/>
<rect x="1607.1" y="969" width="2" height="111" fill="#0000ff"/>
<rect x="1660.2" y="969" width="2" height="111" fill="#0000ff"/>
<rect x="1713.3" y="969" width="2" height="111" fill="#0000ff"/>
<rect x="1766.5" y="969" width="2" height="111" fill="#0000ff"/>
<rect x="1819.6" y="969" width="2" height="111" fill="#0000ff"/>
<rect x="1872.7" y="969" width="2" height="111" fill="#0000ff"/>
<rect x="1925.9" y="969" width="2" height="111" fill="#0000ff"/>
<rect x="1979.0" y="969" width="2" height="111" fill="#0000ff"/>
<rect x="2032.1" y="969" width="2" height="111" fill="#0000ff"/>
<rect x="2085.2" y="969" width="2" height="111" fill="#0000ff"/>
<rect x="2138.1" y="969" width="2" height="111" fill="#0000ff"/>
<rect x="1072.6" y="1085" width="6.6" height="9" fill="#000"/>
<rect x="1126.3" y="1085" width="6.6" height="9" fill="#000"/>
<rect x="1179.4" y="1085" width="6.6" height="9" fill="#000"/>
<rect x="1232.6" y="1085" width="6.6" height="9" fill="#000"/>
<rect x="1285.7" y="1085" width="6.6" height="9" fill="#000"/>
<rect x="1338.8" y="1085" width="6.6" height="9" fill="#000"/>
<rect x="1392.0" y="1085" width="6.6" height="9" fill="#000"/>
<rect x="1445.1" y="1085" width="6.6" height="9" fill="#000"/>
<rect x="1498.2" y="1085" width="6.6" height="9" fill="#000"/>
<rect x="1551.3" y="1085" width="6.6" height="9" fill="#000"/>
<rect x="1604.5" y="1085" width="6.6" height="9" fill="#000"/>
<rect x="1657.6" y="1085" width="6.6" height="9" fill="#000"/>
<rect x="1710.7" y="1085" width="6.6" height="9" fill="#000"/>
<rect x="1763.9" y="1085" width="6.6" height="9" fill="#000"/>
<rect x="1817.0" y="1085" width="6.6" height="9" fill="#000"/>
<rect x="1870.1" y="1085" width="6.6" height="9" fill="#000"/>
<rect x="1923.3" y="1085" width="6.6" height="9" fill="#000"/>
<rect x="1976.4" y="1085" width="6.6" height="9" fill="#000"/>
<rect x="2029.5" y="1085" width="6.6" height="9" fill="#000"/>
<rect x="2082.6" y="1085" width="6.6" height="9" fill="#000"/>
<rect x="2135.5" y="1085" width="6.6" height="9" fill="#000"/>
<text transform="translate(1075.5,1131.0) scale(1.000,1)" font-size="37.4" text-anchor="middle" fill="#000">1</text>
<text transform="translate(1129.8,1131.0) scale(1.000,1)" font-size="37.4" text-anchor="middle" fill="#000">30</text>
<text transform="translate(1237.6,1131.0) scale(1.000,1)" font-size="37.4" text-anchor="middle" fill="#000">90</text>
<text transform="translate(1346.0,1131.0) scale(1.000,1)" font-size="37.4" text-anchor="middle" fill="#000">150</text>
<text transform="translate(1451.8,1131.0) scale(1.000,1)" font-size="37.4" text-anchor="middle" fill="#000">210</text>
<text transform="translate(1558.7,1131.0) scale(1.000,1)" font-size="37.4" text-anchor="middle" fill="#000">270</text>
<text transform="translate(1665.5,1131.0) scale(1.000,1)" font-size="37.4" text-anchor="middle" fill="#000">330</text>
<text transform="translate(1773.4,1131.0) scale(1.000,1)" font-size="37.4" text-anchor="middle" fill="#000">390</text>
<text transform="translate(1869.2,1131.0) scale(1.000,1)" font-size="37.4" text-anchor="middle" fill="#000">450</text>
<text transform="translate(1976.2,1131.0) scale(1.000,1)" font-size="37.4" text-anchor="middle" fill="#000">510</text>
<text transform="translate(2083.5,1131.0) scale(1.000,1)" font-size="37.4" text-anchor="middle" fill="#000">570</text>
<text transform="translate(2135.0,1131.0) scale(1.000,1)" font-size="37.4" fill="#000">600s</text><text transform="translate(59.6,90.0) scale(1.000,1)" font-size="50" font-weight="bold" fill="#000">a</text>
<text transform="translate(61.0,705.7) scale(1.000,1)" font-size="50" font-weight="bold" fill="#000">b</text>
<text transform="translate(1046.5,705.0) scale(1.000,1)" font-size="50" font-weight="bold" fill="#000">c</text>
<text transform="translate(129.2,90.0) scale(1.017,1)" font-size="37.0" fill="#000">Immunohistochemistry of CamKIIα::ChR2(H134R) expression in Ventral Posteromedial Thalamus (VPM) Excitatory Neurons</text>
<text transform="translate(443.0,151.6) scale(1.035,1)" font-size="37.0" fill="#000">DAPI</text>
<text transform="translate(873.0,152.2) scale(1.022,1)" font-size="37.0" fill="#000">CaMKIIα::ChR2</text>
<text transform="translate(1303.0,153.0) scale(1.027,1)" font-size="37.0" fill="#000">CaMKIIα</text>
<text transform="translate(1736.5,152.0) scale(1.011,1)" font-size="37.0" fill="#000">Overlay</text>
<text transform="translate(128.5,621.0) scale(1.018,1)" font-size="37.0" fill="#000">Bregma -3.0mm</text>
<text transform="translate(319.0,570.5) scale(1.022,1)" font-size="37.0" fill="#fff">3 mm</text>
<text transform="translate(742.5,572.7) scale(1.043,1)" font-size="37.0" fill="#fff">30 μm</text>
<text transform="translate(351.5,705.7) scale(1.019,1)" font-size="37.0" fill="#000">Stimulation Setup Illustration</text>
<text transform="translate(1220.7,705.0) scale(1.016,1)" font-size="37.0" fill="#000">Pulsed Optogenetic Stimulation Paradigm (2/4 Pulses)</text>
<text transform="translate(263.7,778.0) scale(1.012,1)" font-size="37.0" fill="#000">Light Delivery</text>
<text transform="translate(170.8,875.3) scale(0.959,1)" font-size="37.0" fill="#000">S1</text>
<text transform="translate(311.0,986.0) scale(1.008,1)" font-size="37.0" fill="#000">VPM</text>
<text transform="translate(187.7,1130.3) scale(1.034,1)" font-size="37.0" fill="#000">Lateral 3.0mm</text>
<text transform="translate(659.4,1128.7) scale(1.026,1)" font-size="37.0" fill="#000">Bregma -4.0mm</text>
<text transform="translate(747.0,986.0) scale(1.000,1)" font-size="37.0" fill="#fff">VPM</text>
<text transform="translate(857.5,1000.0) scale(1.000,1)" font-size="60" font-weight="bold" text-anchor="middle" fill="#fff">*</text>
</svg>
</body></html>
